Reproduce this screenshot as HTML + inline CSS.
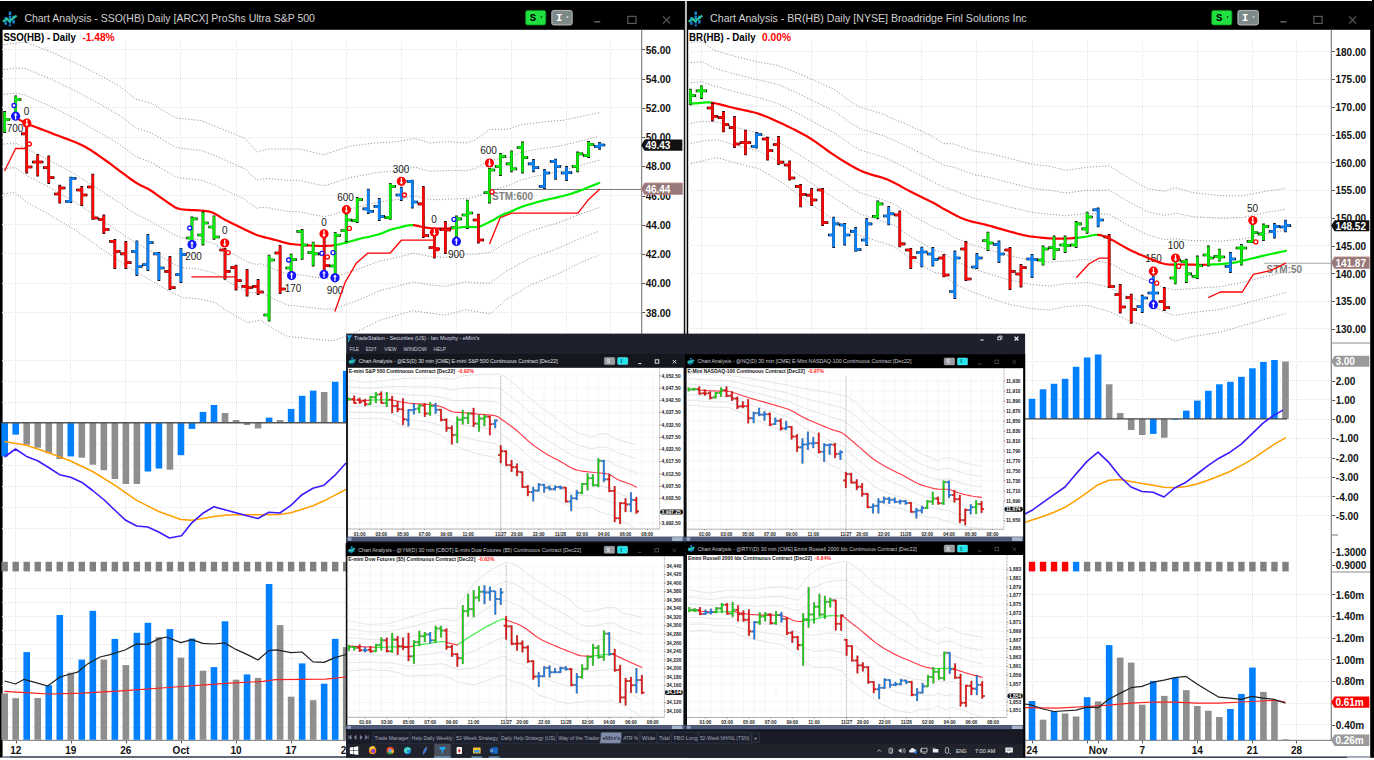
<!DOCTYPE html>
<html><head><meta charset="utf-8"><title>Chart Analysis</title>
<style>html,body{margin:0;padding:0;background:#fff;overflow:hidden}svg{display:block}</style></head>
<body>
<svg width="1374" height="760" viewBox="0 0 1374 760" font-family="Liberation Sans, sans-serif">
<rect x="0" y="0" width="1374" height="760" fill="#fff"/>
<rect x="0" y="1" width="1374" height="28.8" fill="#000"/>
<rect x="0" y="1" width="2.6" height="756.6" fill="#000"/>
<rect x="1370.2" y="1" width="3.8" height="756.8" fill="#000"/>
<rect x="1372" y="0" width="2" height="1" fill="#000"/>
<rect x="683.8" y="1" width="4.4" height="756.5" fill="#000"/>
<rect x="684.9" y="1" width="2.1" height="756.5" fill="#b8b8b8"/>
<rect x="2.6" y="756.2" width="682" height="1.6" fill="#3a4558"/>
<rect x="2.6" y="756.2" width="7.4" height="1.6" fill="#8fa0bc"/>
<rect x="688.3" y="756.4" width="682" height="1.6" fill="#3a4558"/>
<rect x="1347" y="756.4" width="23.2" height="1.6" fill="#aab6c8"/>
<g transform="translate(2.6 11.5) scale(1)">
<path d="M7.4 0v14.8M3.1 5.6v8.3M11 4.2v8.6" stroke="#1587d8" stroke-width="2.4" stroke-dasharray="3.4 0.9" fill="none"/>
<polyline points="0.3,10.2 4.4,7.4 6.8,9.6 14,4.2" fill="none" stroke="#2ec4a0" stroke-width="2.1"/>
</g>
<text x="24.4" y="21.6" font-size="10.8" fill="#d0d0d0" textLength="290.5" lengthAdjust="spacingAndGlyphs">Chart Analysis - SSO(HB) Daily [ARCX] ProShs Ultra S&amp;P 500</text>
<rect x="525.6" y="10.4" width="20.2" height="14.6" rx="2" fill="#20e040" stroke="#0c8a20" stroke-width="0.8"/>
<text x="529.8" y="21.2" font-size="10.5" fill="#000" font-weight="bold" font-family="Liberation Mono, monospace">S</text>
<path d="M540.4 16.6h2l-1 1.7z" fill="#000"/>
<rect x="551.8" y="10.4" width="20.4" height="14.6" rx="2" fill="#7d8888" stroke="#c8c8c8" stroke-width="0.9"/>
<text x="556" y="21.2" font-size="10.5" fill="#fff" font-weight="bold" font-family="Liberation Mono, monospace">I</text>
<path d="M566.4 16.4h2.2l-1.1 1.9z" fill="#fff"/>
<path d="M594.3 21.8h6" stroke="#5a5a5a" stroke-width="1.7"/>
<rect x="627.8" y="16.4" width="8.2" height="7" fill="none" stroke="#5a5a5a" stroke-width="1.2"/>
<path d="M663 16.4l7 7.2m0 -7.2l-7 7.2" stroke="#5a5a5a" stroke-width="1.2" fill="none"/>
<path d="M15.5 41V740M70.5 41V740M125.5 41V740M180.5 41V740M236.5 41V740M291.5 41V740M346.5 41V740M401.5 41V740M456.5 41V740M511.5 41V740M566.5 41V740M610.5 41V740" stroke="#e4e4e4" stroke-width="1" stroke-dasharray="1 1" fill="none" shape-rendering="crispEdges"/>
<path d="M2 49.5H641.6M2 78.5H641.6M2 107.5H641.6M2 137.5H641.6M2 166.5H641.6M2 195.5H641.6M2 224.5H641.6M2 253.5H641.6M2 283.5H641.6M2 312.5H641.6" stroke="#e4e4e4" stroke-width="1" stroke-dasharray="1 1" fill="none" shape-rendering="crispEdges"/>
<path d="M2 360.5H641.6M2 381.5H641.6M2 402.5H641.6M2 444.5H641.6M2 465.5H641.6M2 486.5H641.6M2 507.5H641.6M2 528.5H641.6" stroke="#e4e4e4" stroke-width="1" stroke-dasharray="1 1" fill="none" shape-rendering="crispEdges"/>
<path d="M2 588.5H641.6M2 602.5H641.6M2 616.5H641.6M2 630.5H641.6M2 644.5H641.6M2 658.5H641.6M2 671.5H641.6M2 685.5H641.6M2 699.5H641.6M2 713.5H641.6M2 727.5H641.6" stroke="#e4e4e4" stroke-width="1" stroke-dasharray="1 1" fill="none" shape-rendering="crispEdges"/>
<rect x="641" y="29.8" width="1.3" height="711" fill="#8c8c8c"/>
<rect x="2.6" y="739.8" width="639" height="1.2" fill="#8c8c8c"/>
<text x="3.4" y="40.6" font-size="10.2" fill="#000" font-weight="bold" textLength="72.5" lengthAdjust="spacingAndGlyphs">SSO(HB) - Daily</text>
<text x="82.4" y="40.6" font-size="10.2" fill="#ff0000" font-weight="bold">-1.48%</text>
<path d="M642.2 49.5h3" stroke="#555" stroke-width="1"/>
<text x="645.8" y="53.5" font-size="10" fill="#111" font-weight="bold">56.00</text>
<path d="M642.2 79.5h3" stroke="#555" stroke-width="1"/>
<text x="645.8" y="82.74" font-size="10" fill="#111" font-weight="bold">54.00</text>
<path d="M642.2 108.5h3" stroke="#555" stroke-width="1"/>
<text x="645.8" y="111.98" font-size="10" fill="#111" font-weight="bold">52.00</text>
<path d="M642.2 137.5h3" stroke="#555" stroke-width="1"/>
<text x="645.8" y="141.22" font-size="10" fill="#111" font-weight="bold">50.00</text>
<path d="M642.2 166.5h3" stroke="#555" stroke-width="1"/>
<text x="645.8" y="170.46" font-size="10" fill="#111" font-weight="bold">48.00</text>
<path d="M642.2 196.5h3" stroke="#555" stroke-width="1"/>
<text x="645.8" y="199.7" font-size="10" fill="#111" font-weight="bold">46.00</text>
<path d="M642.2 225.5h3" stroke="#555" stroke-width="1"/>
<text x="645.8" y="228.94" font-size="10" fill="#111" font-weight="bold">44.00</text>
<path d="M642.2 254.5h3" stroke="#555" stroke-width="1"/>
<text x="645.8" y="258.18" font-size="10" fill="#111" font-weight="bold">42.00</text>
<path d="M642.2 283.5h3" stroke="#555" stroke-width="1"/>
<text x="645.8" y="287.42" font-size="10" fill="#111" font-weight="bold">40.00</text>
<path d="M642.2 312.5h3" stroke="#555" stroke-width="1"/>
<text x="645.8" y="316.66" font-size="10" fill="#111" font-weight="bold">38.00</text>
<polyline points="3.8,44.7 15,43.27 15.6,43.2 25,42 27.5,42.95 50,51.5 75,62.8 82.6,66.63 100,75.4 105,78.14 120.6,86.7 125,90.34 135,98.62 135.7,99.2 150,102.8 150.8,103 170,114.47 175.9,118 180,118.42 182.8,118.71 200.3,120.53 201,120.6 202.8,121.33 212.8,125.37 215.3,126.38 225,130.3 225.3,130.42 226,130.7 245,138.4 247.9,141.69 250,144.07 257,152 260,151.25 260.4,151.15 269,149 275.4,149 288,149 290,149 299.6,149 310,151.58 313,152.32 323,154.8 323.8,155 333,151.61 334.5,151.05 336,150.5 345,147.8 351,146 355,145.5 362.5,144.56 369,143.75 375,143 380,142.69 390.4,142.06 399.5,141.5 400,141.4 411.6,139.02 412.6,138.81 414.6,138.4 423.7,141.15 429.8,143 435.8,142.51 445.2,141.73 448,141.5 452.5,141.88 465.2,142.93 466,143 475,140 478,137.86 490,129.3 490.2,129.3 490.3,129.3 502.8,129.3 505.3,129.3 508.5,129.3 520.5,124.8 522.8,124.52 530.3,123.59 532.7,123.29 542.8,122.05 544.8,121.8 555.3,120.93 563,120.3 578,117.2 580.4,116.69 589,114.84 599,112.7 599.2,112.66" fill="none" stroke="#9c9c9c" stroke-width="1" stroke-dasharray="1.2 1.8"/>
<polyline points="3.8,69.55 15,68.14 15.6,68.16 25,68.43 27.5,69.56 50,78.75 75,90.67 82.6,94.75 100,104.1 105,106.97 120.6,115.91 125,119.45 135,127.35 135.7,127.9 150,132.33 150.8,132.58 170,143.98 175.9,147.39 180,148.08 182.8,148.55 200.3,150.27 201,150.36 202.8,151.04 212.8,154.82 215.3,155.76 225,160.21 225.3,160.35 226,160.65 245,168.85 247.9,171.86 250,173.76 257,180.12 260,179.39 260.4,179.29 269,178.46 275.4,179.17 288,180.25 290,180.28 299.6,180.44 310,182.77 313,183.44 323,185.65 323.8,185.83 333,183.14 334.5,182.59 336,182.03 345,179.23 351,177.36 355,176.7 362.5,175.29 369,174.07 375,172.95 380,172.28 390.4,171.24 399.5,170.34 400,170.23 411.6,167.68 412.6,167.46 414.6,167.16 423.7,169.67 429.8,171.35 435.8,171.07 445.2,170.64 448,170.32 452.5,170.43 465.2,170.73 466,170.81 475,168.56 478,166.86 490,160.06 490.2,160.07 490.3,160.05 502.8,158.16 505.3,157.78 508.5,157.46 520.5,152.5 522.8,152.04 530.3,150.51 532.7,150.1 542.8,148.39 544.8,148.05 555.3,146.63 563,145.46 578,141.63 580.4,141 589,138.88 599,136.42 599.2,136.37" fill="none" stroke="#9c9c9c" stroke-width="1" stroke-dasharray="1.2 1.8"/>
<polyline points="3.8,94.4 15,93.02 15.6,93.13 25,94.86 27.5,96.17 50,106 75,118.53 82.6,122.87 100,132.8 105,135.79 120.6,145.11 125,148.56 135,156.08 135.7,156.61 150,161.87 150.8,162.15 170,173.48 175.9,176.79 180,177.73 182.8,178.38 200.3,180.02 201,180.12 202.8,180.76 212.8,184.27 215.3,185.15 225,190.12 225.3,190.28 226,190.6 245,199.29 247.9,202.02 250,203.46 257,208.24 260,207.53 260.4,207.43 269,207.91 275.4,209.33 288,211.5 290,211.57 299.6,211.89 310,213.95 313,214.55 323,216.5 323.8,216.66 333,214.67 334.5,214.12 336,213.57 345,210.66 351,208.72 355,207.9 362.5,206.03 369,204.4 375,202.9 380,201.86 390.4,200.43 399.5,199.17 400,199.06 411.6,196.34 412.6,196.11 414.6,195.93 423.7,198.18 429.8,199.69 435.8,199.64 445.2,199.55 448,199.14 452.5,198.98 465.2,198.52 466,198.61 475,197.12 478,195.86 490,190.82 490.2,190.83 490.3,190.8 502.8,187.02 505.3,186.27 508.5,185.62 520.5,180.21 522.8,179.55 530.3,177.43 532.7,176.91 542.8,174.73 544.8,174.3 555.3,172.32 563,170.62 578,166.07 580.4,165.32 589,162.93 599,160.14 599.2,160.08" fill="none" stroke="#9c9c9c" stroke-width="1" stroke-dasharray="1.2 1.8"/>
<polyline points="3.8,144.1 15,142.76 15.6,143.06 25,147.72 27.5,149.38 50,160.5 75,174.27 82.6,179.11 100,190.2 105,193.43 120.6,203.53 125,206.78 135,213.54 135.7,214.01 150,220.93 150.8,221.31 170,232.49 175.9,235.57 180,237.04 182.8,238.04 200.3,239.51 201,239.65 202.8,240.19 212.8,243.18 215.3,243.93 225,249.95 225.3,250.14 226,250.5 245,260.18 247.9,262.36 250,262.85 257,264.49 260,263.81 260.4,263.72 269,266.82 275.4,269.67 288,274 290,274.13 299.6,274.77 310,276.33 313,276.77 323,278.2 323.8,278.31 333,277.74 334.5,277.18 336,276.63 345,273.52 351,271.45 355,270.3 362.5,267.49 369,265.05 375,262.8 380,261.03 390.4,258.8 399.5,256.84 400,256.71 411.6,253.67 412.6,253.4 414.6,253.45 423.7,255.21 429.8,256.38 435.8,256.77 445.2,257.38 448,256.79 452.5,256.09 465.2,254.11 466,254.22 475,254.23 478,253.85 490,252.34 490.2,252.37 490.3,252.31 502.8,244.75 505.3,243.23 508.5,241.94 520.5,235.61 522.8,234.59 530.3,231.26 532.7,230.52 542.8,227.42 544.8,226.8 555.3,223.71 563,220.94 578,214.93 580.4,213.96 589,211.01 599,207.57 599.2,207.5" fill="none" stroke="#9c9c9c" stroke-width="1" stroke-dasharray="1.2 1.8"/>
<polyline points="3.8,168.95 15,167.63 15.6,168.02 25,174.15 27.5,175.99 50,187.75 75,202.13 82.6,207.23 100,218.9 105,222.26 120.6,232.73 125,235.89 135,242.27 135.7,242.72 150,250.47 150.8,250.88 170,262 175.9,264.96 180,266.69 182.8,267.87 200.3,269.25 201,269.41 202.8,269.9 212.8,272.63 215.3,273.31 225,279.87 225.3,280.07 226,280.44 245,290.63 247.9,292.53 250,292.55 257,292.61 260,291.95 260.4,291.86 269,296.28 275.4,299.83 288,305.25 290,305.42 299.6,306.22 310,307.51 313,307.89 323,309.05 323.8,309.14 333,309.27 334.5,308.72 336,308.16 345,304.95 351,302.81 355,301.5 362.5,298.22 369,295.38 375,292.75 380,290.62 390.4,287.98 399.5,285.68 400,285.54 411.6,282.33 412.6,282.05 414.6,282.21 423.7,283.72 429.8,284.73 435.8,285.34 445.2,286.29 448,285.61 452.5,284.64 465.2,281.91 466,282.03 475,282.79 478,282.85 490,283.11 490.2,283.13 490.3,283.06 502.8,273.61 505.3,271.72 508.5,270.11 520.5,263.32 522.8,262.11 530.3,258.18 532.7,257.33 542.8,253.76 544.8,253.05 555.3,249.41 563,246.1 578,239.36 580.4,238.28 589,235.05 599,231.29 599.2,231.21" fill="none" stroke="#9c9c9c" stroke-width="1" stroke-dasharray="1.2 1.8"/>
<polyline points="3.8,193.8 15,192.5 15.6,192.98 25,200.58 27.5,202.6 50,215 75,230 82.6,235.35 100,247.6 105,251.08 120.6,261.94 125,265 135,271 135.7,271.42 150,280 150.8,280.46 170,291.5 175.9,294.36 180,296.34 182.8,297.7 200.3,299 201,299.17 202.8,299.62 212.8,302.08 215.3,302.7 225,309.78 225.3,310 226,310.39 245,321.07 247.9,322.7 250,322.25 257,320.73 260,320.09 260.4,320 269,325.73 275.4,330 288,336.5 290,336.7 299.6,337.66 310,338.7 313,339 323,339.9 323.8,339.97 333,340.8 334.5,340.25 336,339.7 345,336.38 351,334.17 355,332.7 362.5,328.95 369,325.7 375,322.7 380,320.2 390.4,317.17 399.5,314.52 400,314.37 411.6,310.99 412.6,310.7 414.6,310.98 423.7,312.23 429.8,313.07 435.8,313.9 445.2,315.2 448,314.43 452.5,313.19 465.2,309.7 466,309.83 475,311.35 478,311.85 490,313.87 490.2,313.9 490.3,313.81 502.8,302.47 505.3,300.2 508.5,298.27 520.5,291.02 522.8,289.63 530.3,285.1 532.7,284.14 542.8,280.1 544.8,279.3 555.3,275.1 563,271.27 578,263.8 580.4,262.6 589,259.09 599,255.01 599.2,254.93" fill="none" stroke="#9c9c9c" stroke-width="1" stroke-dasharray="1.2 1.8"/>
<text x="26.5" y="114.5" font-size="10" fill="#222" text-anchor="middle">0</text>
<text x="15" y="131.5" font-size="10" fill="#222" text-anchor="middle">700</text>
<text x="193.5" y="260.3" font-size="10" fill="#222" text-anchor="middle">200</text>
<text x="224.7" y="234" font-size="10" fill="#222" text-anchor="middle">0</text>
<text x="293" y="291.5" font-size="10" fill="#222" text-anchor="middle">170</text>
<text x="324" y="225.5" font-size="10" fill="#222" text-anchor="middle">0</text>
<text x="335" y="293.8" font-size="10" fill="#222" text-anchor="middle">900</text>
<text x="345.6" y="201.1" font-size="10" fill="#222" text-anchor="middle">600</text>
<text x="401" y="173.1" font-size="10" fill="#222" text-anchor="middle">300</text>
<text x="434" y="223.1" font-size="10" fill="#222" text-anchor="middle">0</text>
<text x="456.3" y="257.5" font-size="10" fill="#222" text-anchor="middle">900</text>
<text x="488.6" y="154" font-size="10" fill="#222" text-anchor="middle">600</text>
<path d="M491.5 189.5H641" stroke="#7a7a7a" stroke-width="1.1"/>
<text x="492" y="199.5" font-size="10" fill="#808080" font-weight="bold">STM:600</text>
<polyline points="4.5,171 15.6,148.5 26.6,148.5" fill="none" stroke="#ff0000" stroke-width="1.3" stroke-linejoin="round" />
<polyline points="191.4,276.9 235.2,276.9" fill="none" stroke="#ff0000" stroke-width="1.3" stroke-linejoin="round" />
<polyline points="334.9,311.5 345,282.7 356.3,263.2 367.6,253.2 390,253.2 401.4,240.2 434,240.2" fill="none" stroke="#ff0000" stroke-width="1.3" stroke-linejoin="round" />
<polyline points="489.5,244 500.3,217.6 511.5,213.1 577.9,213.1 589.1,198.9 600,188.9" fill="none" stroke="#ff0000" stroke-width="1.3" stroke-linejoin="round" />
<polyline points="15.6,117.6 17.49,118.65 20.14,120.15 23.5,121.92 27.5,123.8 29.74,124.75 32.14,125.72 34.72,126.72 37.46,127.78 40.36,128.88 43.42,130.04 46.63,131.28 50,132.6 52.62,133.62 55.45,134.69 58.44,135.8 61.54,136.96 64.71,138.15 67.9,139.36 71.07,140.59 74.17,141.84 77.16,143.09 79.98,144.35 82.6,145.6 85.84,147.28 88.74,148.92 91.41,150.56 93.96,152.24 96.49,153.98 99.1,155.83 101.91,157.83 105,160 107.5,161.77 110.19,163.73 113.04,165.83 115.98,168.03 118.97,170.27 121.95,172.52 124.88,174.71 127.69,176.8 130.36,178.75 132.81,180.5 135,182 138.31,184.07 140.93,185.48 143.12,186.5 145.19,187.41 147.38,188.48 150,190 152.68,191.76 155.64,193.83 158.75,196.05 161.87,198.31 164.87,200.48 167.62,202.42 170,204 172.9,205.96 174.83,207.27 176.83,208.19 180,209 182.33,209.37 185.1,209.65 188.17,209.87 191.4,210.04 194.62,210.19 197.7,210.33 200.47,210.5 202.8,210.7 206.15,211.06 208.46,211.37 210.45,211.84 212.8,212.7 214.89,213.7 216.91,214.89 219.09,216.28 221.71,217.88 225,219.7 227.3,220.88 229.98,222.24 232.94,223.71 236.06,225.26 239.22,226.81 242.3,228.32 245.21,229.72 247.81,230.97 250,232 253.43,233.58 255.6,234.52 257.47,235.19 260,236 262.26,236.67 264.76,237.34 267.41,238.01 270.13,238.68 272.82,239.34 275.4,240 278.28,240.81 281.04,241.64 283.81,242.44 286.75,243.18 290,243.8 292.63,244.16 295.52,244.47 298.56,244.74 301.63,244.97 304.64,245.16 307.46,245.34 310,245.5 313.07,245.7 315.78,245.85 318.24,245.95 320.61,246 323,246 326,245.92 328.91,245.77 331.73,245.53 334.5,245.2 334.6,245.18" fill="none" stroke="#ff0000" stroke-width="2.2" stroke-linejoin="round" stroke-linecap="round"/>
<polyline points="334.6,245.18 337.3,244.74 340.09,244.16 342.71,243.55 345,243 347.13,242.46 348.76,241.97 351,241.3 353.61,240.54 356.72,239.62 359.85,238.71 362.5,238 364.87,237.51 366.69,237.25 369,236.8 371.45,236.22 374.26,235.53 377.19,234.75 380,233.9 382.66,232.92 385.29,231.82 387.87,230.73 390.4,229.8 392.81,229.08 395.12,228.49 397.48,227.96 400,227.4 402.75,226.69 405.64,225.91 408.62,225.28 411.6,225 413.99,225.16 414,225.16" fill="none" stroke="#00ee00" stroke-width="2.2" stroke-linejoin="round" stroke-linecap="round"/>
<polyline points="414,225.16 416.4,225.59 418.84,226.16 421.27,226.74 423.7,227.2 426.05,227.54 428.32,227.86 430.63,228.13 433.09,228.35 435.8,228.5 438.35,228.57 441.14,228.59 444.06,228.57 447,228.52 449.85,228.43 452.5,228.3 455.43,228.06 456,227.99" fill="none" stroke="#ff0000" stroke-width="2.2" stroke-linejoin="round" stroke-linecap="round"/>
<polyline points="456,227.99 458.2,227.72 460.86,227.35 463.45,227.02 466,226.8 468.49,226.8 470.89,226.98 473.25,227.17 475.6,227.2 478,226.9 480.44,226.21 482.89,225.25 485.35,224.1 487.82,222.86 490.3,221.6 492.9,220.23 495.61,218.68 498.28,217.12 500.73,215.71 502.8,214.6 505.54,213.55 508.5,212.6 510.88,211.58 513.81,210.26 516.98,208.84 520.08,207.5 522.8,206.4 525.58,205.44 528.01,204.74 530.31,204.15 532.7,203.5 534.97,202.81 537.11,202.16 539.56,201.44 542.8,200.6 545.2,200.03 547.99,199.41 551.02,198.75 554.18,198.06 557.31,197.36 560.3,196.67 563,196 565.85,195.23 568.53,194.46 571.08,193.69 573.49,192.92 575.79,192.16 578,191.4 581.05,190.28 583.8,189.16 586.4,188.07 589,187 591.85,185.88 594.79,184.72 597.39,183.71 599.2,183" fill="none" stroke="#00ee00" stroke-width="2.2" stroke-linejoin="round" stroke-linecap="round"/>
<path d="M4.68 111.1V132.9M4.68 119.5H10.38M15.7 95.4V119.9M15.7 99.5H21.4M26.71 125.4V173.5M21.01 133.8H26.71M26.71 167H32.41M37.73 154.1V176.5M32.03 162H37.73M37.73 162H43.43M48.75 155.5V183.9M43.05 167.6H48.75M48.75 177.6H54.45M59.76 184.8V203.6M54.06 194H59.76M59.76 188H65.47M70.78 176.7V202.9M65.08 201.5H70.78M70.78 178.4H76.48M81.8 186.1V205.9M76.1 190H81.8M81.8 195H87.5M92.82 173.7V219.7M87.12 187H92.82M92.82 218H98.52M103.83 214.6V233.9M98.13 219.5H103.83M103.83 229.5H109.53M114.85 239.1V268.9M109.15 241.3H114.85M114.85 251.3H120.55M125.87 241.1V268.9M120.17 253.8H125.87M125.87 262.6H131.57M136.88 240.4V275.9M131.18 251.3H136.88M136.88 266.3H142.58M147.9 234.1V270.9M142.2 264.6H147.9M147.9 242.6H153.6M158.92 252.1V280.9M153.22 253.8H158.92M158.92 268H164.62M169.94 256.1V289.9M164.23 271.4H169.94M169.94 287.6H175.64M180.95 247.9V282.9M175.25 274.6H180.95M180.95 254.6H186.65M191.97 216.6V240.9M186.27 238H191.97M191.97 218.8H197.67M202.99 211.6V245.5M197.29 235H202.99M202.99 223H208.69M214 215.4V239.7M208.3 227H214M214 237H219.7M225.02 247.9V279.8M219.32 250H225.02M225.02 271.4H230.72M236.04 264.7V290.5M230.34 267.6H236.04M236.04 280.6H241.74M247.05 269.1V296.5M241.35 286.4H247.05M247.05 287.6H252.75M258.07 279.1V294.9M252.37 286.4H258.07M258.07 292H263.77M269.09 254.7V321.6M263.39 315H269.09M269.09 260H274.79M280.11 244.9V293.9M274.41 253H280.11M280.11 289H285.81M291.12 253.7V272.3M285.42 268H291.12M291.12 259.6H296.82M302.14 229.1V259.7M296.44 231.3H302.14M302.14 245H307.84M313.16 241.7V266.5M307.46 252.6H313.16M313.16 253.8H318.86M324.17 236.7V273.5M318.47 253.8H324.17M324.17 265.6H329.87M335.19 231.9V274.4M329.49 266H335.19M335.19 235.3H340.89M346.21 213.6V241.9M340.51 230.5H346.21M346.21 220H351.91M357.22 197.1V222.9M351.52 220.6H357.22M357.22 199.6H362.92M368.24 188.7V213.9M362.54 208.9H368.24M368.24 211.4H373.94M379.26 198V220.9M373.56 206.4H379.26M379.26 216.4H384.96M390.27 182.9V219.8M384.57 217.6H390.27M390.27 186.3H395.97M401.29 186.7V200.9M395.59 195H401.29M401.29 194.6H406.99M412.31 179.7V208.5M406.61 181.3H412.31M412.31 202H418.01M423.33 186.1V237.9M417.63 203.9H423.33M423.33 235.7H429.03M434.34 228.1V258.6M428.64 247.7H434.34M434.34 249H440.04M445.36 221.1V253.9M439.66 229.7H445.36M445.36 230H451.06M456.38 215.5V237.3M450.68 227.7H456.38M456.38 218.9H462.08M467.39 199.7V228.9M461.69 215H467.39M467.39 213H473.09M478.41 213.7V243.6M472.71 220H478.41M478.41 240H484.11M489.43 167.9V203.5M483.73 192.6H489.43M489.43 170H495.13M500.44 152.9V175.9M494.75 166.3H500.44M500.44 156.3H506.14M511.46 150.4V172.2M505.76 163.8H511.46M511.46 168.8H517.16M522.48 141.6V173.5M516.78 147.5H522.48M522.48 157.6H528.18M533.5 159.1V172.2M527.8 163.8H533.5M533.5 167.6H539.2M544.51 169.1V188.9M538.81 186.3H544.51M544.51 173H550.21M555.53 158.7V179.7M549.83 161.3H555.53M555.53 166.3H561.23M566.55 166.1V180.9M560.85 173H566.55M566.55 172.6H572.25M577.56 151.6V172.2M571.86 166.3H577.56M577.56 153.8H583.26M588.58 141.1V157.9M582.88 155.6H588.58M588.58 144.5H594.28M599.6 142.1V149.7M593.9 146.3H599.6M599.6 145H605.3" stroke="#1a0a0a" stroke-width="2.7" fill="none"/>
<path d="M4.68 112V132M4.68 119.5H9.48M15.7 96.3V119M15.7 99.5H20.5M191.97 217.5V240M187.17 238H191.97M191.97 218.8H196.77M202.99 212.5V244.6M198.19 235H202.99M202.99 223H207.79M214 216.3V238.8M209.2 227H214M214 237H218.8M269.09 255.6V320.7M264.29 315H269.09M269.09 260H273.89M291.12 254.6V271.4M286.32 268H291.12M291.12 259.6H295.92M302.14 230V258.8M297.34 231.3H302.14M302.14 245H306.94M313.16 242.6V265.6M308.36 252.6H313.16M313.16 253.8H317.96M335.19 232.8V273.5M330.39 266H335.19M335.19 235.3H339.99M346.21 214.5V241M341.41 230.5H346.21M346.21 220H351.01M357.22 198V222M352.42 220.6H357.22M357.22 199.6H362.02M390.27 183.8V218.9M385.47 217.6H390.27M390.27 186.3H395.07M456.38 216.4V236.4M451.58 227.7H456.38M456.38 218.9H461.18M467.39 200.6V228M462.59 215H467.39M467.39 213H472.19M489.43 168.8V202.6M484.63 192.6H489.43M489.43 170H494.23M500.44 153.8V175M495.64 166.3H500.44M500.44 156.3H505.25M511.46 151.3V171.3M506.66 163.8H511.46M511.46 168.8H516.26M522.48 142.5V172.6M517.68 147.5H522.48M522.48 157.6H527.28M577.56 152.5V171.3M572.76 166.3H577.56M577.56 153.8H582.36M588.58 142V157M583.78 155.6H588.58M588.58 144.5H593.38" stroke="#08ea08" stroke-width="2.5" fill="none"/>
<path d="M26.71 126.3V172.6M21.91 133.8H26.71M26.71 167H31.51M37.73 155V175.6M32.93 162H37.73M37.73 162H42.53M48.75 156.4V183M43.95 167.6H48.75M48.75 177.6H53.55M59.76 185.7V202.7M54.96 194H59.76M59.76 188H64.56M81.8 187V205M77 190H81.8M81.8 195H86.6M92.82 174.6V218.8M88.02 187H92.82M92.82 218H97.62M103.83 215.5V233M99.03 219.5H103.83M103.83 229.5H108.63M114.85 240V268M110.05 241.3H114.85M114.85 251.3H119.65M125.87 242V268M121.07 253.8H125.87M125.87 262.6H130.67M169.94 257V289M165.13 271.4H169.94M169.94 287.6H174.74M225.02 248.8V278.9M220.22 250H225.02M225.02 271.4H229.82M236.04 265.6V289.6M231.24 267.6H236.04M236.04 280.6H240.84M247.05 270V295.6M242.25 286.4H247.05M247.05 287.6H251.85M258.07 280V294M253.27 286.4H258.07M258.07 292H262.87M280.11 245.8V293M275.31 253H280.11M280.11 289H284.91M324.17 237.6V272.6M319.37 253.8H324.17M324.17 265.6H328.97M423.33 187V237M418.53 203.9H423.33M423.33 235.7H428.13M434.34 229V257.7M429.54 247.7H434.34M434.34 249H439.14M445.36 222V253M440.56 229.7H445.36M445.36 230H450.16M478.41 214.6V242.7M473.61 220H478.41M478.41 240H483.21" stroke="#fa0808" stroke-width="2.5" fill="none"/>
<path d="M70.78 177.6V202M65.98 201.5H70.78M70.78 178.4H75.58M136.88 241.3V275M132.08 251.3H136.88M136.88 266.3H141.68M147.9 235V270M143.1 264.6H147.9M147.9 242.6H152.7M158.92 253V280M154.12 253.8H158.92M158.92 268H163.72M180.95 248.8V282M176.15 274.6H180.95M180.95 254.6H185.75M368.24 189.6V213M363.44 208.9H368.24M368.24 211.4H373.04M379.26 198.9V220M374.46 206.4H379.26M379.26 216.4H384.06M401.29 187.6V200M396.49 195H401.29M401.29 194.6H406.09M412.31 180.6V207.6M407.51 181.3H412.31M412.31 202H417.11M533.5 160V171.3M528.7 163.8H533.5M533.5 167.6H538.3M544.51 170V188M539.71 186.3H544.51M544.51 173H549.31M555.53 159.6V178.8M550.73 161.3H555.53M555.53 166.3H560.33M566.55 167V180M561.75 173H566.55M566.55 172.6H571.35M599.6 143V148.8M594.8 146.3H599.6M599.6 145H604.4" stroke="#0a82fa" stroke-width="2.5" fill="none"/>
<circle cx="14" cy="105.5" r="2" fill="#fff" stroke="#1414ff" stroke-width="1.3"/>
<circle cx="15.6" cy="116.2" r="4.6" fill="#1414ff"/>
<path d="M15.6 119.5V115" stroke="#fff" stroke-width="1.3"/><path d="M13.8 115.4h3.6l-1.8 -2.6z" fill="#fff"/>
<circle cx="26.8" cy="123" r="4.6" fill="#ff0000"/>
<path d="M26.8 119.7V124.2" stroke="#fff" stroke-width="1.3"/><path d="M25 123.8h3.6l-1.8 2.6z" fill="#fff"/>
<circle cx="29.3" cy="144" r="2" fill="#fff" stroke="#ff0000" stroke-width="1.3"/>
<circle cx="189.7" cy="228" r="2" fill="#fff" stroke="#1414ff" stroke-width="1.3"/>
<circle cx="192" cy="244.6" r="4.6" fill="#1414ff"/>
<path d="M192 247.9V243.4" stroke="#fff" stroke-width="1.3"/><path d="M190.2 243.8h3.6l-1.8 -2.6z" fill="#fff"/>
<circle cx="224.7" cy="243" r="4.6" fill="#ff0000"/>
<path d="M224.7 239.7V244.2" stroke="#fff" stroke-width="1.3"/><path d="M222.9 243.8h3.6l-1.8 2.6z" fill="#fff"/>
<circle cx="228.2" cy="252.6" r="2" fill="#fff" stroke="#ff0000" stroke-width="1.3"/>
<circle cx="288.6" cy="260" r="2" fill="#fff" stroke="#1414ff" stroke-width="1.3"/>
<circle cx="291.6" cy="275.6" r="4.6" fill="#1414ff"/>
<path d="M291.6 278.9V274.4" stroke="#fff" stroke-width="1.3"/><path d="M289.8 274.8h3.6l-1.8 -2.6z" fill="#fff"/>
<circle cx="324" cy="233.8" r="4.6" fill="#ff0000"/>
<path d="M324 230.5V235" stroke="#fff" stroke-width="1.3"/><path d="M322.2 234.6h3.6l-1.8 2.6z" fill="#fff"/>
<circle cx="321.9" cy="253.3" r="2" fill="#fff" stroke="#1414ff" stroke-width="1.3"/>
<circle cx="327.4" cy="257" r="2" fill="#fff" stroke="#ff0000" stroke-width="1.3"/>
<circle cx="324" cy="274.4" r="4.6" fill="#1414ff"/>
<path d="M324 277.7V273.2" stroke="#fff" stroke-width="1.3"/><path d="M322.2 273.6h3.6l-1.8 -2.6z" fill="#fff"/>
<circle cx="333" cy="252.7" r="2" fill="#fff" stroke="#1414ff" stroke-width="1.3"/>
<circle cx="335" cy="277.8" r="4.6" fill="#1414ff"/>
<path d="M335 281.1V276.6" stroke="#fff" stroke-width="1.3"/><path d="M333.2 277h3.6l-1.8 -2.6z" fill="#fff"/>
<circle cx="346.4" cy="209.7" r="4.6" fill="#ff0000"/>
<path d="M346.4 206.4V210.9" stroke="#fff" stroke-width="1.3"/><path d="M344.6 210.5h3.6l-1.8 2.6z" fill="#fff"/>
<circle cx="349.4" cy="228.4" r="2" fill="#fff" stroke="#ff0000" stroke-width="1.3"/>
<circle cx="401.4" cy="181.3" r="4.6" fill="#ff0000"/>
<path d="M401.4 178V182.5" stroke="#fff" stroke-width="1.3"/><path d="M399.6 182.1h3.6l-1.8 2.6z" fill="#fff"/>
<circle cx="404.4" cy="195" r="2" fill="#fff" stroke="#ff0000" stroke-width="1.3"/>
<circle cx="434.4" cy="232.2" r="4.6" fill="#ff0000"/>
<path d="M434.4 228.9V233.4" stroke="#fff" stroke-width="1.3"/><path d="M432.6 233h3.6l-1.8 2.6z" fill="#fff"/>
<circle cx="437.5" cy="249.3" r="2.2" fill="#ff0000"/>
<circle cx="454" cy="219.4" r="2" fill="#fff" stroke="#1414ff" stroke-width="1.3"/>
<circle cx="456.4" cy="241.4" r="4.6" fill="#1414ff"/>
<path d="M456.4 244.7V240.2" stroke="#fff" stroke-width="1.3"/><path d="M454.6 240.6h3.6l-1.8 -2.6z" fill="#fff"/>
<circle cx="489.5" cy="163" r="4.6" fill="#ff0000"/>
<path d="M489.5 159.7V164.2" stroke="#fff" stroke-width="1.3"/><path d="M487.7 163.8h3.6l-1.8 2.6z" fill="#fff"/>
<circle cx="492" cy="191.9" r="2" fill="#fff" stroke="#ff0000" stroke-width="1.3"/>
<path d="M641.2 145.2L644.6 139.6H682.4V150.8H644.6Z" fill="#111"/>
<text x="645.4" y="149.1" font-size="10" fill="#fff" font-weight="bold">49.43</text>
<path d="M641.2 188.7L644.6 183H682.4V194.4H644.6Z" fill="#967878" stroke="#c88888" stroke-width="0.8"/>
<text x="645.4" y="192.6" font-size="10" fill="#fff" font-weight="bold">46.44</text>
<rect x="1.38" y="422.8" width="6.6" height="33.6" fill="#0080ff"/>
<rect x="12.4" y="422.8" width="6.6" height="11.8" fill="#0080ff"/>
<rect x="23.41" y="422.8" width="6.6" height="21.9" fill="#8e8e8e"/>
<rect x="34.43" y="422.8" width="6.6" height="24.9" fill="#8e8e8e"/>
<rect x="45.45" y="422.8" width="6.6" height="30.4" fill="#8e8e8e"/>
<rect x="56.46" y="422.8" width="6.6" height="36.2" fill="#8e8e8e"/>
<rect x="67.48" y="422.8" width="6.6" height="33.6" fill="#0080ff"/>
<rect x="78.5" y="422.8" width="6.6" height="34.9" fill="#8e8e8e"/>
<rect x="89.52" y="422.8" width="6.6" height="41.9" fill="#8e8e8e"/>
<rect x="100.53" y="422.8" width="6.6" height="47.4" fill="#8e8e8e"/>
<rect x="111.55" y="422.8" width="6.6" height="56.2" fill="#8e8e8e"/>
<rect x="122.57" y="422.8" width="6.6" height="61.2" fill="#8e8e8e"/>
<rect x="133.58" y="422.8" width="6.6" height="61.2" fill="#8e8e8e"/>
<rect x="144.6" y="422.8" width="6.6" height="48.7" fill="#0080ff"/>
<rect x="155.62" y="422.8" width="6.6" height="45.7" fill="#0080ff"/>
<rect x="166.63" y="422.8" width="6.6" height="46.9" fill="#8e8e8e"/>
<rect x="177.65" y="422.8" width="6.6" height="32.4" fill="#0080ff"/>
<rect x="188.67" y="422.8" width="6.6" height="6.1" fill="#0080ff"/>
<rect x="199.69" y="411.9" width="6.6" height="10.9" fill="#0080ff"/>
<rect x="210.7" y="405" width="6.6" height="17.8" fill="#0080ff"/>
<rect x="221.72" y="413" width="6.6" height="9.8" fill="#8e8e8e"/>
<rect x="232.74" y="420" width="6.6" height="2.8" fill="#8e8e8e"/>
<rect x="243.75" y="422.8" width="6.6" height="2.2" fill="#8e8e8e"/>
<rect x="254.77" y="422.8" width="6.6" height="5.6" fill="#8e8e8e"/>
<rect x="265.79" y="417.6" width="6.6" height="5.2" fill="#0080ff"/>
<rect x="276.81" y="420" width="6.6" height="2.8" fill="#8e8e8e"/>
<rect x="287.82" y="408.9" width="6.6" height="13.9" fill="#0080ff"/>
<rect x="298.84" y="395.8" width="6.6" height="27" fill="#0080ff"/>
<rect x="309.86" y="390.6" width="6.6" height="32.2" fill="#0080ff"/>
<rect x="320.87" y="392" width="6.6" height="30.8" fill="#8e8e8e"/>
<rect x="331.89" y="381.8" width="6.6" height="41" fill="#0080ff"/>
<rect x="342.91" y="370.8" width="6.6" height="52" fill="#0080ff"/>
<path d="M2.6 422.8H641.6" stroke="#555" stroke-width="1.4"/>
<polyline points="4.5,441.4 26.5,445.2 48.6,452.7 70.6,461 92.6,471.5 114.7,485.2 136.7,500.3 158.7,511.5 180.8,519.5 191.8,520.3 202.8,518.5 213.8,516.5 224.8,515.3 235.9,514.8 257.9,514.8 279.9,514.5 290.9,512.8 313,505.8 324,500.8 335,495.2 346,489.5" fill="none" stroke="#ffa000" stroke-width="1.5" stroke-linejoin="round" />
<polyline points="4.5,457 15.5,449 26.5,456.4 37.6,460.7 48.6,467.5 59.6,474.7 70.6,477.2 81.6,482.2 92.6,490.5 103.7,499.5 114.7,510 125.7,520.3 136.7,526 147.7,527 158.7,532 169.4,538 181.5,535.7 191.8,522.8 202.8,513.3 213.8,506.8 224.8,509.8 235.9,512.8 246.9,515.8 257.9,518.5 268.9,512.3 279.9,513 290.9,505.3 302,494.7 313,488.2 324,485.2 335,475.2 346,463" fill="none" stroke="#3a1cff" stroke-width="1.6" stroke-linejoin="round" />
<rect x="1.48" y="561.8" width="6.4" height="9.6" fill="#808080"/>
<rect x="12.5" y="561.8" width="6.4" height="9.6" fill="#808080"/>
<rect x="23.51" y="561.8" width="6.4" height="9.6" fill="#808080"/>
<rect x="34.53" y="561.8" width="6.4" height="9.6" fill="#808080"/>
<rect x="45.55" y="561.8" width="6.4" height="9.6" fill="#808080"/>
<rect x="56.56" y="561.8" width="6.4" height="9.6" fill="#808080"/>
<rect x="67.58" y="561.8" width="6.4" height="9.6" fill="#808080"/>
<rect x="78.6" y="561.8" width="6.4" height="9.6" fill="#808080"/>
<rect x="89.62" y="561.8" width="6.4" height="9.6" fill="#808080"/>
<rect x="100.63" y="561.8" width="6.4" height="9.6" fill="#808080"/>
<rect x="111.65" y="561.8" width="6.4" height="9.6" fill="#808080"/>
<rect x="122.67" y="561.8" width="6.4" height="9.6" fill="#808080"/>
<rect x="133.68" y="561.8" width="6.4" height="9.6" fill="#808080"/>
<rect x="144.7" y="561.8" width="6.4" height="9.6" fill="#808080"/>
<rect x="155.72" y="561.8" width="6.4" height="9.6" fill="#808080"/>
<rect x="166.74" y="561.8" width="6.4" height="9.6" fill="#808080"/>
<rect x="177.75" y="561.8" width="6.4" height="9.6" fill="#808080"/>
<rect x="188.77" y="561.8" width="6.4" height="9.6" fill="#808080"/>
<rect x="199.79" y="561.8" width="6.4" height="9.6" fill="#808080"/>
<rect x="210.8" y="561.8" width="6.4" height="9.6" fill="#808080"/>
<rect x="221.82" y="561.8" width="6.4" height="9.6" fill="#808080"/>
<rect x="232.84" y="561.8" width="6.4" height="9.6" fill="#808080"/>
<rect x="243.85" y="561.8" width="6.4" height="9.6" fill="#808080"/>
<rect x="254.87" y="561.8" width="6.4" height="9.6" fill="#808080"/>
<rect x="265.89" y="561.8" width="6.4" height="9.6" fill="#808080"/>
<rect x="276.91" y="561.8" width="6.4" height="9.6" fill="#808080"/>
<rect x="287.92" y="561.8" width="6.4" height="9.6" fill="#808080"/>
<rect x="298.94" y="561.8" width="6.4" height="9.6" fill="#808080"/>
<rect x="309.96" y="561.8" width="6.4" height="9.6" fill="#808080"/>
<rect x="320.97" y="561.8" width="6.4" height="9.6" fill="#808080"/>
<rect x="331.99" y="561.8" width="6.4" height="9.6" fill="#808080"/>
<rect x="343.01" y="561.8" width="6.4" height="9.6" fill="#808080"/>
<rect x="354.02" y="561.8" width="6.4" height="9.6" fill="#808080"/>
<rect x="365.04" y="561.8" width="6.4" height="9.6" fill="#808080"/>
<rect x="376.06" y="561.8" width="6.4" height="9.6" fill="#808080"/>
<rect x="387.07" y="561.8" width="6.4" height="9.6" fill="#808080"/>
<rect x="398.09" y="561.8" width="6.4" height="9.6" fill="#808080"/>
<rect x="409.11" y="561.8" width="6.4" height="9.6" fill="#808080"/>
<rect x="420.13" y="561.8" width="6.4" height="9.6" fill="#808080"/>
<rect x="431.14" y="561.8" width="6.4" height="9.6" fill="#808080"/>
<rect x="442.16" y="561.8" width="6.4" height="9.6" fill="#808080"/>
<rect x="453.18" y="561.8" width="6.4" height="9.6" fill="#808080"/>
<rect x="464.19" y="561.8" width="6.4" height="9.6" fill="#808080"/>
<rect x="475.21" y="561.8" width="6.4" height="9.6" fill="#808080"/>
<rect x="486.23" y="561.8" width="6.4" height="9.6" fill="#808080"/>
<rect x="497.25" y="561.8" width="6.4" height="9.6" fill="#808080"/>
<rect x="508.26" y="561.8" width="6.4" height="9.6" fill="#808080"/>
<rect x="519.28" y="561.8" width="6.4" height="9.6" fill="#808080"/>
<rect x="530.3" y="561.8" width="6.4" height="9.6" fill="#808080"/>
<rect x="541.31" y="561.8" width="6.4" height="9.6" fill="#808080"/>
<rect x="552.33" y="561.8" width="6.4" height="9.6" fill="#808080"/>
<rect x="563.35" y="561.8" width="6.4" height="9.6" fill="#808080"/>
<rect x="574.36" y="561.8" width="6.4" height="9.6" fill="#808080"/>
<rect x="585.38" y="561.8" width="6.4" height="9.6" fill="#808080"/>
<rect x="596.4" y="561.8" width="6.4" height="9.6" fill="#808080"/>
<rect x="607.41" y="561.8" width="6.4" height="9.6" fill="#808080"/>
<rect x="618.43" y="561.8" width="6.4" height="9.6" fill="#808080"/>
<rect x="629.45" y="561.8" width="6.4" height="9.6" fill="#808080"/>
<rect x="640.47" y="561.8" width="6.4" height="9.6" fill="#808080"/>
<rect x="1.38" y="693.4" width="6.6" height="46.4" fill="#8e8e8e"/>
<rect x="12.4" y="698.2" width="6.6" height="41.6" fill="#8e8e8e"/>
<rect x="23.41" y="652.1" width="6.6" height="87.7" fill="#0080ff"/>
<rect x="34.43" y="698" width="6.6" height="41.8" fill="#8e8e8e"/>
<rect x="45.45" y="685.2" width="6.6" height="54.6" fill="#0080ff"/>
<rect x="56.46" y="615" width="6.6" height="124.8" fill="#0080ff"/>
<rect x="67.48" y="672.7" width="6.6" height="67.1" fill="#8e8e8e"/>
<rect x="78.5" y="659.6" width="6.6" height="80.2" fill="#0080ff"/>
<rect x="89.52" y="610.8" width="6.6" height="129" fill="#0080ff"/>
<rect x="100.53" y="659.6" width="6.6" height="80.2" fill="#8e8e8e"/>
<rect x="111.55" y="638.9" width="6.6" height="100.9" fill="#0080ff"/>
<rect x="122.57" y="665.1" width="6.6" height="74.7" fill="#8e8e8e"/>
<rect x="133.58" y="632.8" width="6.6" height="107" fill="#0080ff"/>
<rect x="144.6" y="622.8" width="6.6" height="117" fill="#0080ff"/>
<rect x="155.62" y="637.1" width="6.6" height="102.7" fill="#8e8e8e"/>
<rect x="166.63" y="629.1" width="6.6" height="110.7" fill="#0080ff"/>
<rect x="177.65" y="657.6" width="6.6" height="82.2" fill="#8e8e8e"/>
<rect x="188.67" y="638.6" width="6.6" height="101.2" fill="#0080ff"/>
<rect x="199.69" y="670.7" width="6.6" height="69.1" fill="#8e8e8e"/>
<rect x="210.7" y="667.1" width="6.6" height="72.7" fill="#0080ff"/>
<rect x="221.72" y="621.3" width="6.6" height="118.5" fill="#0080ff"/>
<rect x="232.74" y="679.7" width="6.6" height="60.1" fill="#8e8e8e"/>
<rect x="243.75" y="674.4" width="6.6" height="65.4" fill="#0080ff"/>
<rect x="254.77" y="677.9" width="6.6" height="61.9" fill="#8e8e8e"/>
<rect x="265.79" y="584" width="6.6" height="155.8" fill="#0080ff"/>
<rect x="276.81" y="625.1" width="6.6" height="114.7" fill="#8e8e8e"/>
<rect x="287.82" y="696.7" width="6.6" height="43.1" fill="#8e8e8e"/>
<rect x="298.84" y="663.4" width="6.6" height="76.4" fill="#0080ff"/>
<rect x="309.86" y="700.2" width="6.6" height="39.6" fill="#8e8e8e"/>
<rect x="320.87" y="683.7" width="6.6" height="56.1" fill="#0080ff"/>
<rect x="331.89" y="638.9" width="6.6" height="100.9" fill="#0080ff"/>
<rect x="342.91" y="647.1" width="6.6" height="92.7" fill="#8e8e8e"/>
<polyline points="4.5,691.4 25,692.7 50,694 82.6,693.2 125.2,690.7 175.3,687 225.3,683.4 263,681.4 275.4,679.7 325.5,679.2 346,677" fill="none" stroke="#ff2020" stroke-width="1.2" stroke-linejoin="round" />
<polyline points="4.5,681 15.5,684 23.8,679.4 37.6,683.2 47.6,686 59.6,677.2 70.6,674 77.6,672.2 87.6,663.9 100,657 110,654.6 125,650 136.5,643.9 147.7,644.4 158.7,638.9 166.5,637 180.8,642.6 191.8,639.6 202.8,643.4 213.8,644 224.8,642.9 235.9,649.4 246.9,654.4 257.9,660 268.9,650.6 276.7,649.9 291,652.6 302,652 313,661.9 324,662.4 335,657.6 346,654.5" fill="none" stroke="#222" stroke-width="1.2" stroke-linejoin="round" />
<path d="M16.5 741v2.4" stroke="#555" stroke-width="1"/>
<text x="15.7" y="754" font-size="10" fill="#111" font-weight="bold" text-anchor="middle">12</text>
<path d="M71.5 741v2.4" stroke="#555" stroke-width="1"/>
<text x="70.78" y="754" font-size="10" fill="#111" font-weight="bold" text-anchor="middle">19</text>
<path d="M126.5 741v2.4" stroke="#555" stroke-width="1"/>
<text x="125.87" y="754" font-size="10" fill="#111" font-weight="bold" text-anchor="middle">26</text>
<path d="M181.5 741v2.4" stroke="#555" stroke-width="1"/>
<text x="180.95" y="754" font-size="10" fill="#111" font-weight="bold" text-anchor="middle">Oct</text>
<path d="M236.5 741v2.4" stroke="#555" stroke-width="1"/>
<text x="236.04" y="754" font-size="10" fill="#111" font-weight="bold" text-anchor="middle">10</text>
<path d="M291.5 741v2.4" stroke="#555" stroke-width="1"/>
<text x="291.12" y="754" font-size="10" fill="#111" font-weight="bold" text-anchor="middle">17</text>
<path d="M346.5 741v2.4" stroke="#555" stroke-width="1"/>
<text x="346.21" y="754" font-size="10" fill="#111" font-weight="bold" text-anchor="middle">24</text>
<g transform="translate(688.3 11.5) scale(1)">
<path d="M7.4 0v14.8M3.1 5.6v8.3M11 4.2v8.6" stroke="#1587d8" stroke-width="2.4" stroke-dasharray="3.4 0.9" fill="none"/>
<polyline points="0.3,10.2 4.4,7.4 6.8,9.6 14,4.2" fill="none" stroke="#2ec4a0" stroke-width="2.1"/>
</g>
<text x="710.1" y="21.6" font-size="10.8" fill="#d0d0d0" textLength="316.5" lengthAdjust="spacingAndGlyphs">Chart Analysis - BR(HB) Daily [NYSE] Broadridge Finl Solutions Inc</text>
<rect x="1211.7" y="10.4" width="20.2" height="14.6" rx="2" fill="#20e040" stroke="#0c8a20" stroke-width="0.8"/>
<text x="1215.9" y="21.2" font-size="10.5" fill="#000" font-weight="bold" font-family="Liberation Mono, monospace">S</text>
<path d="M1226.5 16.6h2l-1 1.7z" fill="#000"/>
<rect x="1237.9" y="10.4" width="20.4" height="14.6" rx="2" fill="#7d8888" stroke="#c8c8c8" stroke-width="0.9"/>
<text x="1242.1" y="21.2" font-size="10.5" fill="#fff" font-weight="bold" font-family="Liberation Mono, monospace">I</text>
<path d="M1252.5 16.4h2.2l-1.1 1.9z" fill="#fff"/>
<path d="M1280.4 21.8h6" stroke="#5a5a5a" stroke-width="1.7"/>
<rect x="1313.9" y="16.4" width="8.2" height="7" fill="none" stroke="#5a5a5a" stroke-width="1.2"/>
<path d="M1349.1 16.4l7 7.2m0 -7.2l-7 7.2" stroke="#5a5a5a" stroke-width="1.2" fill="none"/>
<path d="M701.5 41V740M756.5 41V740M811.5 41V740M866.5 41V740M921.5 41V740M976.5 41V740M1032.5 41V740M1087.5 41V740M1142.5 41V740M1197.5 41V740M1252.5 41V740M1296.5 41V740" stroke="#e4e4e4" stroke-width="1" stroke-dasharray="1 1" fill="none" shape-rendering="crispEdges"/>
<path d="M688 51.5H1331.3M688 79.5H1331.3M688 106.5H1331.3M688 134.5H1331.3M688 162.5H1331.3M688 190.5H1331.3M688 217.5H1331.3M688 245.5H1331.3M688 273.5H1331.3M688 301.5H1331.3M688 328.5H1331.3" stroke="#e4e4e4" stroke-width="1" stroke-dasharray="1 1" fill="none" shape-rendering="crispEdges"/>
<path d="M688 361.5H1331.3M688 380.5H1331.3M688 399.5H1331.3M688 419.5H1331.3M688 438.5H1331.3M688 457.5H1331.3M688 477.5H1331.3M688 496.5H1331.3M688 515.5H1331.3" stroke="#e4e4e4" stroke-width="1" stroke-dasharray="1 1" fill="none" shape-rendering="crispEdges"/>
<path d="M688 594.5H1331.3M688 616.5H1331.3M688 637.5H1331.3M688 659.5H1331.3M688 681.5H1331.3M688 703.5H1331.3M688 724.5H1331.3" stroke="#e4e4e4" stroke-width="1" stroke-dasharray="1 1" fill="none" shape-rendering="crispEdges"/>
<rect x="1330.7" y="29.8" width="1.3" height="711" fill="#8c8c8c"/>
<rect x="688.3" y="739.8" width="643" height="1.2" fill="#8c8c8c"/>
<text x="689.1" y="40.6" font-size="10.2" fill="#000" font-weight="bold" textLength="66.5" lengthAdjust="spacingAndGlyphs">BR(HB) - Daily</text>
<text x="762.1" y="40.6" font-size="10.2" fill="#ff0000" font-weight="bold">0.00%</text>
<path d="M1331.9 51.5h3" stroke="#555" stroke-width="1"/>
<text x="1335.5" y="55.5" font-size="10" fill="#111" font-weight="bold">180.00</text>
<path d="M1331.9 79.5h3" stroke="#555" stroke-width="1"/>
<text x="1335.5" y="83.25" font-size="10" fill="#111" font-weight="bold">175.00</text>
<path d="M1331.9 107.5h3" stroke="#555" stroke-width="1"/>
<text x="1335.5" y="111" font-size="10" fill="#111" font-weight="bold">170.00</text>
<path d="M1331.9 135.5h3" stroke="#555" stroke-width="1"/>
<text x="1335.5" y="138.75" font-size="10" fill="#111" font-weight="bold">165.00</text>
<path d="M1331.9 162.5h3" stroke="#555" stroke-width="1"/>
<text x="1335.5" y="166.5" font-size="10" fill="#111" font-weight="bold">160.00</text>
<path d="M1331.9 190.5h3" stroke="#555" stroke-width="1"/>
<text x="1335.5" y="194.25" font-size="10" fill="#111" font-weight="bold">155.00</text>
<path d="M1331.9 218.5h3" stroke="#555" stroke-width="1"/>
<text x="1335.5" y="222" font-size="10" fill="#111" font-weight="bold">150.00</text>
<path d="M1331.9 246.5h3" stroke="#555" stroke-width="1"/>
<text x="1335.5" y="249.75" font-size="10" fill="#111" font-weight="bold">145.00</text>
<path d="M1331.9 273.5h3" stroke="#555" stroke-width="1"/>
<text x="1335.5" y="277.5" font-size="10" fill="#111" font-weight="bold">140.00</text>
<path d="M1331.9 301.5h3" stroke="#555" stroke-width="1"/>
<text x="1335.5" y="305.25" font-size="10" fill="#111" font-weight="bold">135.00</text>
<path d="M1331.9 329.5h3" stroke="#555" stroke-width="1"/>
<text x="1335.5" y="333" font-size="10" fill="#111" font-weight="bold">130.00</text>
<polyline points="690.7,42.4 701,41.96 702.4,41.9 711.5,48.36 714.1,50.2 716.5,50.9 734,56.04 734.2,56.1 757.7,62 759,62.21 777.7,65.3 784,67.77 801.2,74.5 809,78 809.2,78.09 817.9,82 829,87.02 834.2,89.37 834.7,89.6 851.4,102.1 856.8,105.31 859,106.62 859.8,107.1 869,109.89 874,111.4 884.9,114.7 888.5,116.75 890,117.6 894,119.2 906.7,124.3 909,125.37 910,125.84 931.8,136 932.8,136.64 934,137.4 943.6,143.5 945.8,143.59 953.6,143.9 965.3,148.03 973.7,151 985.3,152.81 990.4,153.6 1000.4,156.09 1010.5,158.6 1022.9,161.9 1032.3,164.4 1035.4,164.72 1049,166.1 1055.4,167.7 1065.8,170.3 1073,169.3 1087,167.37 1087.5,167.3 1098,166.58 1109.3,165.8 1110,166.24 1130,178.8 1147.7,188.8 1165,191.3 1165.2,191.23 1175,187.6 1185.2,190.48 1192.7,192.6 1208.3,194.31 1220,195.6 1230.3,195.69 1242.8,195.8 1265.4,191.3 1285.9,188.31" fill="none" stroke="#9c9c9c" stroke-width="1" stroke-dasharray="1.2 1.8"/>
<polyline points="690.7,62.62 701,61.84 702.4,61.73 711.5,66.75 714.1,68.18 716.5,68.67 734,73.78 734.2,73.84 757.7,79.75 759,79.98 777.7,84.42 784,87.11 801.2,94.87 809,98.77 809.2,98.87 817.9,103.12 829,108.58 834.2,111.08 834.7,111.32 851.4,123.46 856.8,126.7 859,128.02 859.8,128.46 869,131.29 874,132.83 884.9,136.16 888.5,138.06 890,138.85 894,140.4 906.7,146.24 909,147.43 910,147.91 931.8,158.53 932.8,159.16 934,159.92 943.6,165.25 945.8,165.68 953.6,167.21 965.3,171.49 973.7,174.57 985.3,176.78 990.4,177.75 1000.4,180.34 1010.5,182.95 1022.9,186.07 1032.3,188.43 1035.4,188.74 1049,190.1 1055.4,191.2 1065.8,192.99 1073,192.11 1087,190.4 1087.5,190.34 1098,190.22 1109.3,190.09 1110,190.51 1130,202.53 1147.7,211.77 1165,215.51 1165.2,215.46 1175,213.15 1185.2,215.13 1192.7,216.59 1208.3,217.6 1220,218.37 1230.3,217.95 1242.8,217.43 1265.4,212.6 1285.9,209.18" fill="none" stroke="#9c9c9c" stroke-width="1" stroke-dasharray="1.2 1.8"/>
<polyline points="690.7,82.83 701,81.72 702.4,81.56 711.5,85.14 714.1,86.16 716.5,86.44 734,91.53 734.2,91.58 757.7,97.49 759,97.74 777.7,103.54 784,106.44 801.2,115.24 809,119.54 809.2,119.64 817.9,124.25 829,130.15 834.2,132.79 834.7,133.04 851.4,144.83 856.8,148.09 859,149.42 859.8,149.82 869,152.7 874,154.27 884.9,157.63 888.5,159.38 890,160.11 894,161.6 906.7,168.19 909,169.48 910,169.99 931.8,181.07 932.8,181.69 934,182.43 943.6,187 945.8,187.77 953.6,190.53 965.3,194.95 973.7,198.13 985.3,200.75 990.4,201.9 1000.4,204.58 1010.5,207.29 1022.9,210.24 1032.3,212.47 1035.4,212.77 1049,214.09 1055.4,214.7 1065.8,215.68 1073,214.91 1087,213.43 1087.5,213.38 1098,213.86 1109.3,214.37 1110,214.78 1130,226.27 1147.7,234.73 1165,239.72 1165.2,239.7 1175,238.7 1185.2,239.78 1192.7,240.58 1208.3,240.9 1220,241.13 1230.3,240.2 1242.8,239.07 1265.4,233.9 1285.9,230.04" fill="none" stroke="#9c9c9c" stroke-width="1" stroke-dasharray="1.2 1.8"/>
<polyline points="690.7,123.27 701,121.47 702.4,121.23 711.5,121.92 714.1,122.12 716.5,121.97 734,127.01 734.2,127.07 757.7,132.98 759,133.27 777.7,141.78 784,145.12 801.2,155.99 809,161.07 809.2,161.19 817.9,166.49 829,173.27 834.2,176.21 834.7,176.49 851.4,187.56 856.8,190.86 859,192.21 859.8,192.54 869,195.52 874,197.13 884.9,200.56 888.5,202.01 890,202.61 894,204 906.7,212.08 909,213.59 910,214.14 931.8,226.13 932.8,226.74 934,227.47 943.6,230.5 945.8,231.96 953.6,237.15 965.3,241.88 973.7,245.27 985.3,248.7 990.4,250.2 1000.4,253.08 1010.5,255.98 1022.9,258.57 1032.3,260.54 1035.4,260.83 1049,262.08 1055.4,261.69 1065.8,261.05 1073,260.52 1087,259.5 1087.5,259.46 1098,261.14 1109.3,262.95 1110,263.31 1130,273.73 1147.7,280.67 1165,288.14 1165.2,288.17 1175,289.79 1185.2,289.08 1192.7,288.55 1208.3,287.48 1220,286.67 1230.3,284.71 1242.8,282.33 1265.4,276.5 1285.9,271.76" fill="none" stroke="#9c9c9c" stroke-width="1" stroke-dasharray="1.2 1.8"/>
<polyline points="690.7,143.49 701,141.35 702.4,141.06 711.5,140.31 714.1,140.1 716.5,139.73 734,144.76 734.2,144.81 757.7,150.73 759,151.04 777.7,160.9 784,164.46 801.2,176.36 809,181.83 809.2,181.96 817.9,187.62 829,194.84 834.2,197.92 834.7,198.21 851.4,208.92 856.8,212.25 859,213.6 859.8,213.91 869,216.93 874,218.57 884.9,222.02 888.5,223.32 890,223.87 894,225.2 906.7,234.02 909,235.65 910,236.22 931.8,248.66 932.8,249.26 934,249.98 943.6,252.25 945.8,254.05 953.6,260.47 965.3,265.34 973.7,268.83 985.3,272.67 990.4,274.35 1000.4,277.33 1010.5,280.33 1022.9,282.74 1032.3,284.57 1035.4,284.85 1049,286.08 1055.4,285.19 1065.8,283.74 1073,283.33 1087,282.53 1087.5,282.5 1098,284.78 1109.3,287.23 1110,287.58 1130,297.47 1147.7,303.63 1165,312.35 1165.2,312.41 1175,315.34 1185.2,313.73 1192.7,312.54 1208.3,310.77 1220,309.44 1230.3,306.97 1242.8,303.97 1265.4,297.8 1285.9,292.62" fill="none" stroke="#9c9c9c" stroke-width="1" stroke-dasharray="1.2 1.8"/>
<polyline points="690.7,163.7 701,161.23 702.4,160.89 711.5,158.7 714.1,158.08 716.5,157.5 734,162.5 734.2,162.55 757.7,168.47 759,168.8 777.7,180.02 784,183.8 801.2,196.73 809,202.6 809.2,202.74 817.9,208.74 829,216.4 834.2,219.62 834.7,219.93 851.4,230.29 856.8,233.64 859,235 859.8,235.27 869,238.33 874,240 884.9,243.49 888.5,244.64 890,245.12 894,246.4 906.7,255.97 909,257.7 910,258.29 931.8,271.2 932.8,271.79 934,272.5 943.6,274 945.8,276.15 953.6,283.78 965.3,288.8 973.7,292.4 985.3,296.64 990.4,298.5 1000.4,301.58 1010.5,304.68 1022.9,306.91 1032.3,308.61 1035.4,308.88 1049,310.08 1055.4,308.69 1065.8,306.43 1073,306.13 1087,305.57 1087.5,305.55 1098,308.42 1109.3,311.52 1110,311.85 1130,321.2 1147.7,326.6 1165,336.56 1165.2,336.64 1175,340.89 1185.2,338.38 1192.7,336.53 1208.3,334.06 1220,332.2 1230.3,329.22 1242.8,325.6 1265.4,319.1 1285.9,313.49" fill="none" stroke="#9c9c9c" stroke-width="1" stroke-dasharray="1.2 1.8"/>
<text x="1153.5" y="261.5" font-size="10" fill="#222" text-anchor="middle">150</text>
<text x="1176" y="248.5" font-size="10" fill="#222" text-anchor="middle">100</text>
<text x="1252.6" y="211.5" font-size="10" fill="#222" text-anchor="middle">50</text>
<path d="M1264 263.3H1331" stroke="#a8a8a8" stroke-width="1.1"/>
<text x="1266.6" y="273" font-size="10" fill="#808080" font-weight="bold">STM:50</text>
<polyline points="1076.3,277.7 1088.8,264 1098.9,258.2 1109.6,258.2" fill="none" stroke="#ff0000" stroke-width="1.3" stroke-linejoin="round" />
<polyline points="1208.3,297.7 1220.3,292 1242.3,292 1253.3,274.4 1270.4,270.7 1285.9,263.2" fill="none" stroke="#ff0000" stroke-width="1.3" stroke-linejoin="round" />
<polyline points="690.3,103.9 692.23,103.68 694.99,103.36 698.09,103.04 701,102.8 703.36,102.56 705.51,102.29 708.04,102.24 711.5,102.6 712,102.69" fill="none" stroke="#00ee00" stroke-width="2.2" stroke-linejoin="round" stroke-linecap="round"/>
<polyline points="712,102.69 713.72,103 716.22,103.54 718.95,104.19 721.84,104.92 724.85,105.69 727.92,106.48 730.99,107.26 734,108 736.67,108.61 739.39,109.19 742.15,109.75 744.94,110.32 747.75,110.92 750.57,111.56 753.4,112.26 756.21,113.03 759,113.9 761.78,114.87 764.55,115.91 767.33,117.02 770.1,118.19 772.88,119.42 775.65,120.68 778.43,121.97 781.21,123.28 784,124.6 786.79,125.93 789.59,127.27 792.39,128.63 795.2,130.02 798,131.44 800.81,132.92 803.61,134.45 806.41,136.04 809.2,137.7 812,139.47 814.82,141.37 817.64,143.35 820.46,145.39 823.26,147.45 826.05,149.49 828.81,151.49 831.53,153.4 834.2,155.2 837.21,157.15 840.26,159.08 843.31,160.96 846.3,162.78 849.19,164.5 851.94,166.1 854.49,167.54 856.8,168.8 859.79,170.33 862.08,171.36 864.09,172.13 866.26,172.86 869,173.8 871.39,174.58 873.98,175.34 876.74,176.11 879.62,176.92 882.57,177.82 885.55,178.84 888.5,180 891.08,181.17 893.7,182.47 896.36,183.86 899.04,185.33 901.75,186.84 904.49,188.36 907.24,189.85 910,191.3 912.85,192.74 915.84,194.22 918.89,195.71 921.93,197.19 924.91,198.65 927.76,200.05 930.41,201.37 932.8,202.6 935.92,204.29 938.39,205.74 940.6,207.07 942.94,208.44 945.8,210 948.24,211.3 950.88,212.72 953.68,214.2 956.57,215.69 959.5,217.13 962.43,218.45 965.3,219.6 968.17,220.56 971.12,221.38 974.09,222.1 977.05,222.75 979.93,223.36 982.7,223.96 985.3,224.6 988.01,225.34 990.42,226.02 992.69,226.68 995,227.36 997.51,228.09 1000.4,228.9 1002.93,229.6 1005.74,230.39 1008.73,231.24 1011.81,232.09 1014.87,232.93 1017.8,233.72 1020.52,234.42 1022.9,235 1025.92,235.67 1028.26,236.11 1030.34,236.43 1032.58,236.69 1035.4,237 1037.88,237.27 1040.64,237.54 1043.57,237.82 1046.6,238.08 1049.64,238.3 1052.6,238.48 1055.4,238.6 1058.51,238.66 1061.58,238.66 1064.58,238.61 1067.49,238.5 1070.3,238.37 1073,238.2 1076,237.95" fill="none" stroke="#ff0000" stroke-width="2.2" stroke-linejoin="round" stroke-linecap="round"/>
<polyline points="1076,237.95 1076.08,237.94 1079,237.61 1081.79,237.24 1084.45,236.86 1087,236.5 1089.94,235.94 1092.62,235.29 1095.25,234.82 1098,234.8 1098.3,234.85" fill="none" stroke="#00ee00" stroke-width="2.2" stroke-linejoin="round" stroke-linecap="round"/>
<polyline points="1098.3,234.85 1100.21,235.14 1102.34,235.69 1104.58,236.48 1107.07,237.54 1110,238.9 1112.46,240.15 1115.2,241.66 1118.13,243.35 1121.17,245.11 1124.22,246.87 1127.19,248.53 1130,250 1133.09,251.5 1136.08,252.87 1139.01,254.15 1141.9,255.36 1144.79,256.54 1147.7,257.7 1150.6,258.9 1153.46,260.12 1156.31,261.3 1159.19,262.38 1162.14,263.3 1165.2,264 1167.9,264.38 1170.64,264.57 1173.43,264.64 1176.28,264.61 1179.19,264.55 1182.16,264.5 1185.2,264.5 1187.95,264.55 1190.78,264.61 1193.68,264.67 1196.62,264.73 1199.58,264.76 1202.53,264.78 1205.44,264.76 1208.3,264.7" fill="none" stroke="#ff0000" stroke-width="2.2" stroke-linejoin="round" stroke-linecap="round"/>
<polyline points="1208.3,264.7 1211.17,264.6 1214.1,264.47 1217.05,264.31 1219.96,264.12 1222.79,263.91 1225.49,263.69 1228.01,263.45 1230.3,263.2 1233.25,262.81 1235.5,262.42 1237.53,261.96 1239.81,261.41 1242.8,260.7 1245.16,260.15 1247.79,259.51 1250.63,258.8 1253.6,258.06 1256.63,257.31 1259.66,256.56 1262.61,255.85 1265.4,255.2 1268.62,254.49 1272.01,253.76 1275.41,253.05 1278.66,252.38 1281.6,251.78 1284.07,251.28 1285.9,250.9" fill="none" stroke="#00ee00" stroke-width="2.2" stroke-linejoin="round" stroke-linecap="round"/>
<path d="M690.4 88.7V105.3M690.4 95.6H696.1M701.42 85.4V98.9M695.72 90.8H701.42M701.42 90.8H707.12M712.44 103V121.5M706.74 108H712.44M712.44 116.4H718.14M723.46 111.1V132.3M717.76 117.6H723.46M723.46 124.6H729.16M734.48 116.1V147.9M728.78 127.6H734.48M734.48 144H740.18M745.5 129.7V155.3M739.8 142.7H745.5M745.5 142.7H751.2M756.52 132.1V148.6M750.82 146.4H756.52M756.52 134.7H762.22M767.54 136.8V160.6M761.84 139H767.54M767.54 150.7H773.24M778.56 136.1V164.9M772.86 144.7H778.56M778.56 162.2H784.26M789.58 160.4V180.5M783.88 165H789.58M789.58 178H795.28M800.6 184.1V207.3M794.9 186.4H800.6M800.6 194.3H806.3M811.62 188.1V206.1M805.92 195.2H811.62M811.62 200H817.32M822.64 188.1V225.9M816.94 190H822.64M822.64 222.6H828.34M833.66 216.7V247.9M827.96 235H833.66M833.66 223.9H839.36M844.68 223V245.5M838.98 225H844.68M844.68 235H850.38M855.7 227.1V251.8M850 231.4H855.7M855.7 249.6H861.4M866.72 218V245.9M861.02 240H866.72M866.72 223.9H872.42M877.74 200.5V218.9M872.04 216.4H877.74M877.74 203.9H883.44M888.76 206.1V225.3M883.06 216H888.76M888.76 213.8H894.46M899.78 210.4V247.3M894.08 215H899.78M899.78 243.9H905.48M910.8 248V268.9M905.1 250H910.8M910.8 257.7H916.5M921.82 246.7V267.3M916.12 252.7H921.82M921.82 252H927.52M932.84 247.1V266.6M927.14 254H932.84M932.84 259.4H938.54M943.86 254.1V277.3M938.16 258H943.86M943.86 275H949.56M954.88 250.5V298.9M949.18 291.5H954.88M954.88 258H960.58M965.9 241.1V280.9M960.2 249H965.9M965.9 279H971.6M976.92 253.1V268.9M971.22 267H976.92M976.92 258H982.62M987.94 231.7V250.9M982.24 240.6H987.94M987.94 243H993.64M998.96 240.5V262.9M993.26 244.6H998.96M998.96 254H1004.66M1009.98 247.1V289.9M1004.28 250H1009.98M1009.98 271.4H1015.68M1021 264.1V287.4M1015.3 274H1021M1021 267.7H1026.7M1032.02 254.1V277.9M1026.32 259H1032.02M1032.02 259.7H1037.72M1043.04 245.5V265.6M1037.34 260H1043.04M1043.04 249H1048.74M1054.06 235.5V259.9M1048.36 247.6H1054.06M1054.06 249.6H1059.76M1065.08 235.5V252.9M1059.38 245H1065.08M1065.08 245.6H1070.78M1076.1 221.1V247.9M1070.4 245H1076.1M1076.1 223.9H1081.8M1087.12 211.7V233.7M1081.42 228.9H1087.12M1087.12 217H1092.82M1098.14 207.5V227.3M1092.44 209.8H1098.14M1098.14 220H1103.84M1109.16 234.1V287.9M1103.46 237H1109.16M1109.16 286.5H1114.86M1120.18 284.1V313.6M1114.48 294.7H1120.18M1120.18 307H1125.88M1131.2 293.8V323.7M1125.5 297.7H1131.2M1131.2 309.7H1136.9M1142.22 294.8V312.9M1136.52 306.5H1142.22M1142.22 298H1147.92M1153.24 275.5V300.9M1147.54 293H1153.24M1153.24 293H1158.94M1164.26 287.1V310.9M1158.56 301.5H1164.26M1164.26 307.7H1169.96M1175.28 256.8V284.3M1169.58 278H1175.28M1175.28 260H1180.98M1186.3 258.8V282.9M1180.6 261.5H1186.3M1186.3 273.9H1192M1197.32 255.5V278.9M1191.62 276.4H1197.32M1197.32 265.7H1203.02M1208.34 245.5V266.6M1202.64 255H1208.34M1208.34 258H1214.04M1219.36 248.7V261.6M1213.66 256.4H1219.36M1219.36 257H1225.06M1230.38 252.1V272.9M1224.68 266.4H1230.38M1230.38 259H1236.08M1241.4 244.1V265.6M1235.7 248H1241.4M1241.4 248H1247.1M1252.42 224.1V242.9M1246.72 241.4H1252.42M1252.42 232.6H1258.12M1263.44 223.5V240.9M1257.74 233.9H1263.44M1263.44 226.4H1269.14M1274.46 223V238.5M1268.76 231.4H1274.46M1274.46 226.4H1280.16M1285.48 219.7V232.3M1279.78 227H1285.48M1285.48 225.6H1291.18" stroke="#1a0a0a" stroke-width="2.7" fill="none"/>
<path d="M690.4 89.6V104.4M690.4 95.6H695.2M701.42 86.3V98M696.62 90.8H701.42M701.42 90.8H706.22M877.74 201.4V218M872.94 216.4H877.74M877.74 203.9H882.54M987.94 232.6V250M983.14 240.6H987.94M987.94 243H992.74M1043.04 246.4V264.7M1038.24 260H1043.04M1043.04 249H1047.84M1054.06 236.4V259M1049.26 247.6H1054.06M1054.06 249.6H1058.86M1065.08 236.4V252M1060.28 245H1065.08M1065.08 245.6H1069.88M1076.1 222V247M1071.3 245H1076.1M1076.1 223.9H1080.9M1087.12 212.6V232.8M1082.32 228.9H1087.12M1087.12 217H1091.92M1175.28 257.7V283.4M1170.48 278H1175.28M1175.28 260H1180.08M1186.3 259.7V282M1181.5 261.5H1186.3M1186.3 273.9H1191.1M1197.32 256.4V278M1192.52 276.4H1197.32M1197.32 265.7H1202.12M1208.34 246.4V265.7M1203.54 255H1208.34M1208.34 258H1213.14M1219.36 249.6V260.7M1214.56 256.4H1219.36M1219.36 257H1224.16M1241.4 245V264.7M1236.6 248H1241.4M1241.4 248H1246.2M1252.42 225V242M1247.62 241.4H1252.42M1252.42 232.6H1257.22M1263.44 224.4V240M1258.64 233.9H1263.44M1263.44 226.4H1268.24" stroke="#08ea08" stroke-width="2.5" fill="none"/>
<path d="M712.44 103.9V120.6M707.64 108H712.44M712.44 116.4H717.24M723.46 112V131.4M718.66 117.6H723.46M723.46 124.6H728.26M734.48 117V147M729.68 127.6H734.48M734.48 144H739.28M745.5 130.6V154.4M740.7 142.7H745.5M745.5 142.7H750.3M767.54 137.7V159.7M762.74 139H767.54M767.54 150.7H772.34M778.56 137V164M773.76 144.7H778.56M778.56 162.2H783.36M789.58 161.3V179.6M784.78 165H789.58M789.58 178H794.38M800.6 185V206.4M795.8 186.4H800.6M800.6 194.3H805.4M811.62 189V205.2M806.82 195.2H811.62M811.62 200H816.42M822.64 189V225M817.84 190H822.64M822.64 222.6H827.44M899.78 211.3V246.4M894.98 215H899.78M899.78 243.9H904.58M910.8 248.9V268M906 250H910.8M910.8 257.7H915.6M943.86 255V276.4M939.06 258H943.86M943.86 275H948.66M965.9 242V280M961.1 249H965.9M965.9 279H970.7M1009.98 248V289M1005.18 250H1009.98M1009.98 271.4H1014.78M1021 265V286.5M1016.2 274H1021M1021 267.7H1025.8M1109.16 235V287M1104.36 237H1109.16M1109.16 286.5H1113.96M1120.18 285V312.7M1115.38 294.7H1120.18M1120.18 307H1124.98M1131.2 294.7V322.8M1126.4 297.7H1131.2M1131.2 309.7H1136M1164.26 288V310M1159.46 301.5H1164.26M1164.26 307.7H1169.06" stroke="#fa0808" stroke-width="2.5" fill="none"/>
<path d="M756.52 133V147.7M751.72 146.4H756.52M756.52 134.7H761.32M833.66 217.6V247M828.86 235H833.66M833.66 223.9H838.46M844.68 223.9V244.6M839.88 225H844.68M844.68 235H849.48M855.7 228V250.9M850.9 231.4H855.7M855.7 249.6H860.5M866.72 218.9V245M861.92 240H866.72M866.72 223.9H871.52M888.76 207V224.4M883.96 216H888.76M888.76 213.8H893.56M921.82 247.6V266.4M917.02 252.7H921.82M921.82 252H926.62M932.84 248V265.7M928.04 254H932.84M932.84 259.4H937.64M954.88 251.4V298M950.08 291.5H954.88M954.88 258H959.68M976.92 254V268M972.12 267H976.92M976.92 258H981.72M998.96 241.4V262M994.16 244.6H998.96M998.96 254H1003.76M1032.02 255V277M1027.22 259H1032.02M1032.02 259.7H1036.82M1098.14 208.4V226.4M1093.34 209.8H1098.14M1098.14 220H1102.94M1142.22 295.7V312M1137.42 306.5H1142.22M1142.22 298H1147.02M1153.24 276.4V300M1148.44 293H1153.24M1153.24 293H1158.04M1230.38 253V272M1225.58 266.4H1230.38M1230.38 259H1235.18M1274.46 223.9V237.6M1269.66 231.4H1274.46M1274.46 226.4H1279.26M1285.48 220.6V231.4M1280.68 227H1285.48M1285.48 225.6H1290.28" stroke="#0a82fa" stroke-width="2.5" fill="none"/>
<circle cx="1153.4" cy="271.2" r="4.6" fill="#ff0000"/>
<path d="M1153.4 267.9V272.4" stroke="#fff" stroke-width="1.3"/><path d="M1151.6 272h3.6l-1.8 2.6z" fill="#fff"/>
<circle cx="1151.4" cy="281" r="2" fill="#fff" stroke="#1414ff" stroke-width="1.3"/>
<circle cx="1156.7" cy="283.2" r="2" fill="#fff" stroke="#ff0000" stroke-width="1.3"/>
<circle cx="1153.4" cy="304.7" r="4.6" fill="#1414ff"/>
<path d="M1153.4 308V303.5" stroke="#fff" stroke-width="1.3"/><path d="M1151.6 303.9h3.6l-1.8 -2.6z" fill="#fff"/>
<circle cx="1175.5" cy="258" r="4.6" fill="#ff0000"/>
<path d="M1175.5 254.7V259.2" stroke="#fff" stroke-width="1.3"/><path d="M1173.7 258.8h3.6l-1.8 2.6z" fill="#fff"/>
<circle cx="1178.7" cy="266.4" r="2" fill="#fff" stroke="#ff0000" stroke-width="1.3"/>
<circle cx="1252.8" cy="220.6" r="4.6" fill="#ff0000"/>
<path d="M1252.8 217.3V221.8" stroke="#fff" stroke-width="1.3"/><path d="M1251 221.4h3.6l-1.8 2.6z" fill="#fff"/>
<circle cx="1255.8" cy="241.9" r="2" fill="#fff" stroke="#ff0000" stroke-width="1.3"/>
<path d="M1331.2 225.8L1334.6 220.3H1369.3V231.3H1334.6Z" fill="#111"/>
<text x="1335.4" y="229.7" font-size="10" fill="#fff" font-weight="bold">148.52</text>
<path d="M1331.2 262.7L1334.6 256.9H1369.3V268.5H1334.6Z" fill="#967878" stroke="#c09090" stroke-width="0.8"/>
<text x="1335.4" y="266.6" font-size="10" fill="#fff" font-weight="bold">141.87</text>
<path d="M1331.6 343H1370" stroke="#8c8c8c" stroke-width="1.2"/>
<path d="M1331.6 535H1338" stroke="#8c8c8c" stroke-width="1.2"/>
<path d="M1331.6 572H1370" stroke="#8c8c8c" stroke-width="1.2"/>
<rect x="1028.72" y="398.8" width="6.6" height="20.1" fill="#0080ff"/>
<rect x="1039.74" y="389.3" width="6.6" height="29.6" fill="#0080ff"/>
<rect x="1050.76" y="383.8" width="6.6" height="35.1" fill="#0080ff"/>
<rect x="1061.78" y="378.8" width="6.6" height="40.1" fill="#0080ff"/>
<rect x="1072.8" y="366.8" width="6.6" height="52.1" fill="#0080ff"/>
<rect x="1083.82" y="357.5" width="6.6" height="61.4" fill="#0080ff"/>
<rect x="1094.84" y="354.5" width="6.6" height="64.4" fill="#0080ff"/>
<rect x="1105.86" y="384.3" width="6.6" height="34.6" fill="#8e8e8e"/>
<rect x="1116.88" y="413" width="6.6" height="5.9" fill="#8e8e8e"/>
<rect x="1127.9" y="418.9" width="6.6" height="11.1" fill="#8e8e8e"/>
<rect x="1138.92" y="418.9" width="6.6" height="16.1" fill="#8e8e8e"/>
<rect x="1149.94" y="418.9" width="6.6" height="15" fill="#0080ff"/>
<rect x="1160.96" y="418.9" width="6.6" height="18.8" fill="#8e8e8e"/>
<rect x="1171.98" y="418.9" width="6.6" height="0.9" fill="#40b0ff"/>
<rect x="1183" y="410.6" width="6.6" height="8.3" fill="#0080ff"/>
<rect x="1194.02" y="400.6" width="6.6" height="18.3" fill="#0080ff"/>
<rect x="1205.04" y="390.8" width="6.6" height="28.1" fill="#0080ff"/>
<rect x="1216.06" y="384.3" width="6.6" height="34.6" fill="#0080ff"/>
<rect x="1227.08" y="381.8" width="6.6" height="37.1" fill="#0080ff"/>
<rect x="1238.1" y="376.8" width="6.6" height="42.1" fill="#0080ff"/>
<rect x="1249.12" y="368.3" width="6.6" height="50.6" fill="#0080ff"/>
<rect x="1260.14" y="362" width="6.6" height="56.9" fill="#0080ff"/>
<rect x="1271.16" y="360" width="6.6" height="58.9" fill="#0080ff"/>
<rect x="1282.18" y="361.5" width="6.6" height="57.4" fill="#8e8e8e"/>
<path d="M1025 418.9H1287" stroke="#444" stroke-width="1.4"/>
<polyline points="1025,522.3 1043,516.5 1054,512.3 1065,507.3 1076,500.3 1087,492.7 1098,484.7 1109,480.2 1120,479.5 1131,481.5 1142,483.5 1153,485.2 1164,487.2 1175,487.7 1186,486.5 1197,484 1208,480.2 1219,476 1230,471.5 1241,465.7 1252,459.4 1263,451.9 1274,444.4 1286,437.7" fill="none" stroke="#ffa000" stroke-width="1.5" stroke-linejoin="round" />
<polyline points="1025,514 1032,510.3 1043,502.3 1054,494.7 1065,487 1076,474 1087,461.4 1098,452.2 1109,462.7 1120,476.5 1131,487 1142,491.5 1153,492.2 1164,497 1175,487.7 1186,482.2 1197,474 1208,465.7 1219,458.2 1230,452.2 1241,444.4 1252,433.9 1263,423.1 1274,415.1 1283,410.1" fill="none" stroke="#3a1cff" stroke-width="1.6" stroke-linejoin="round" />
<path d="M1331.2 361.3L1334.6 355.8H1369.3V366.8H1334.6Z" fill="#9a9a9a"/>
<text x="1335.4" y="365.2" font-size="10" fill="#fff" font-weight="bold">3.00</text>
<path d="M1332.2 381.5h3" stroke="#555" stroke-width="1"/>
<text x="1335.8" y="384.8" font-size="10" fill="#111" font-weight="bold">2.00</text>
<path d="M1332.2 400.5h3" stroke="#555" stroke-width="1"/>
<text x="1335.8" y="404.2" font-size="10" fill="#111" font-weight="bold">1.00</text>
<path d="M1332.2 419.5h3" stroke="#555" stroke-width="1"/>
<text x="1335.8" y="423.1" font-size="10" fill="#111" font-weight="bold">0.00</text>
<path d="M1332.2 438.5h3" stroke="#555" stroke-width="1"/>
<text x="1335.8" y="442.4" font-size="10" fill="#111" font-weight="bold">-1.00</text>
<path d="M1332.2 458.5h3" stroke="#555" stroke-width="1"/>
<text x="1335.8" y="461.9" font-size="10" fill="#111" font-weight="bold">-2.00</text>
<path d="M1332.2 477.5h3" stroke="#555" stroke-width="1"/>
<text x="1335.8" y="481.4" font-size="10" fill="#111" font-weight="bold">-3.00</text>
<path d="M1332.2 496.5h3" stroke="#555" stroke-width="1"/>
<text x="1335.8" y="500.7" font-size="10" fill="#111" font-weight="bold">-4.00</text>
<path d="M1332.2 515.5h3" stroke="#555" stroke-width="1"/>
<text x="1335.8" y="519.5" font-size="10" fill="#111" font-weight="bold">-5.00</text>
<path d="M1332.2 552.5h3" stroke="#555" stroke-width="1"/>
<text x="1335.8" y="556.4" font-size="10" fill="#111" font-weight="bold">1.3000</text>
<path d="M1332.2 565.5h3" stroke="#555" stroke-width="1"/>
<text x="1335.8" y="569.4" font-size="10" fill="#111" font-weight="bold">0.9000</text>
<rect x="687.2" y="561.8" width="6.4" height="9.6" fill="#808080"/>
<rect x="698.22" y="561.8" width="6.4" height="9.6" fill="#808080"/>
<rect x="709.24" y="561.8" width="6.4" height="9.6" fill="#808080"/>
<rect x="720.26" y="561.8" width="6.4" height="9.6" fill="#808080"/>
<rect x="731.28" y="561.8" width="6.4" height="9.6" fill="#808080"/>
<rect x="742.3" y="561.8" width="6.4" height="9.6" fill="#808080"/>
<rect x="753.32" y="561.8" width="6.4" height="9.6" fill="#808080"/>
<rect x="764.34" y="561.8" width="6.4" height="9.6" fill="#808080"/>
<rect x="775.36" y="561.8" width="6.4" height="9.6" fill="#808080"/>
<rect x="786.38" y="561.8" width="6.4" height="9.6" fill="#808080"/>
<rect x="797.4" y="561.8" width="6.4" height="9.6" fill="#808080"/>
<rect x="808.42" y="561.8" width="6.4" height="9.6" fill="#808080"/>
<rect x="819.44" y="561.8" width="6.4" height="9.6" fill="#808080"/>
<rect x="830.46" y="561.8" width="6.4" height="9.6" fill="#808080"/>
<rect x="841.48" y="561.8" width="6.4" height="9.6" fill="#808080"/>
<rect x="852.5" y="561.8" width="6.4" height="9.6" fill="#808080"/>
<rect x="863.52" y="561.8" width="6.4" height="9.6" fill="#808080"/>
<rect x="874.54" y="561.8" width="6.4" height="9.6" fill="#808080"/>
<rect x="885.56" y="561.8" width="6.4" height="9.6" fill="#808080"/>
<rect x="896.58" y="561.8" width="6.4" height="9.6" fill="#808080"/>
<rect x="907.6" y="561.8" width="6.4" height="9.6" fill="#808080"/>
<rect x="918.62" y="561.8" width="6.4" height="9.6" fill="#808080"/>
<rect x="929.64" y="561.8" width="6.4" height="9.6" fill="#808080"/>
<rect x="940.66" y="561.8" width="6.4" height="9.6" fill="#808080"/>
<rect x="951.68" y="561.8" width="6.4" height="9.6" fill="#808080"/>
<rect x="962.7" y="561.8" width="6.4" height="9.6" fill="#808080"/>
<rect x="973.72" y="561.8" width="6.4" height="9.6" fill="#808080"/>
<rect x="984.74" y="561.8" width="6.4" height="9.6" fill="#808080"/>
<rect x="995.76" y="561.8" width="6.4" height="9.6" fill="#808080"/>
<rect x="1006.78" y="561.8" width="6.4" height="9.6" fill="#808080"/>
<rect x="1017.8" y="561.8" width="6.4" height="9.6" fill="#808080"/>
<rect x="1028.82" y="561.8" width="6.4" height="9.6" fill="#ff0000"/>
<rect x="1039.84" y="561.8" width="6.4" height="9.6" fill="#ff0000"/>
<rect x="1050.86" y="561.8" width="6.4" height="9.6" fill="#ff0000"/>
<rect x="1061.88" y="561.8" width="6.4" height="9.6" fill="#ff0000"/>
<rect x="1072.9" y="561.8" width="6.4" height="9.6" fill="#0080ff"/>
<rect x="1083.92" y="561.8" width="6.4" height="9.6" fill="#808080"/>
<rect x="1094.94" y="561.8" width="6.4" height="9.6" fill="#808080"/>
<rect x="1105.96" y="561.8" width="6.4" height="9.6" fill="#808080"/>
<rect x="1116.98" y="561.8" width="6.4" height="9.6" fill="#808080"/>
<rect x="1128" y="561.8" width="6.4" height="9.6" fill="#808080"/>
<rect x="1139.02" y="561.8" width="6.4" height="9.6" fill="#808080"/>
<rect x="1150.04" y="561.8" width="6.4" height="9.6" fill="#808080"/>
<rect x="1161.06" y="561.8" width="6.4" height="9.6" fill="#808080"/>
<rect x="1172.08" y="561.8" width="6.4" height="9.6" fill="#808080"/>
<rect x="1183.1" y="561.8" width="6.4" height="9.6" fill="#808080"/>
<rect x="1194.12" y="561.8" width="6.4" height="9.6" fill="#808080"/>
<rect x="1205.14" y="561.8" width="6.4" height="9.6" fill="#808080"/>
<rect x="1216.16" y="561.8" width="6.4" height="9.6" fill="#808080"/>
<rect x="1227.18" y="561.8" width="6.4" height="9.6" fill="#808080"/>
<rect x="1238.2" y="561.8" width="6.4" height="9.6" fill="#808080"/>
<rect x="1249.22" y="561.8" width="6.4" height="9.6" fill="#808080"/>
<rect x="1260.24" y="561.8" width="6.4" height="9.6" fill="#808080"/>
<rect x="1271.26" y="561.8" width="6.4" height="9.6" fill="#808080"/>
<rect x="1282.28" y="561.8" width="6.4" height="9.6" fill="#808080"/>
<rect x="1028.72" y="701" width="6.6" height="39.2" fill="#0080ff"/>
<rect x="1039.74" y="719.7" width="6.6" height="20.5" fill="#8e8e8e"/>
<rect x="1050.76" y="711" width="6.6" height="29.2" fill="#0080ff"/>
<rect x="1061.78" y="713.5" width="6.6" height="26.7" fill="#8e8e8e"/>
<rect x="1072.8" y="716.5" width="6.6" height="23.7" fill="#8e8e8e"/>
<rect x="1083.82" y="697.2" width="6.6" height="43" fill="#0080ff"/>
<rect x="1094.84" y="701.4" width="6.6" height="38.8" fill="#8e8e8e"/>
<rect x="1105.86" y="645.1" width="6.6" height="95.1" fill="#0080ff"/>
<rect x="1116.88" y="657.6" width="6.6" height="82.6" fill="#8e8e8e"/>
<rect x="1127.9" y="662.6" width="6.6" height="77.6" fill="#8e8e8e"/>
<rect x="1138.92" y="704.7" width="6.6" height="35.5" fill="#8e8e8e"/>
<rect x="1149.94" y="680.9" width="6.6" height="59.3" fill="#0080ff"/>
<rect x="1160.96" y="695.9" width="6.6" height="44.3" fill="#8e8e8e"/>
<rect x="1171.98" y="677.7" width="6.6" height="62.5" fill="#0080ff"/>
<rect x="1183" y="690.2" width="6.6" height="50" fill="#8e8e8e"/>
<rect x="1194.02" y="706" width="6.6" height="34.2" fill="#8e8e8e"/>
<rect x="1205.04" y="710.7" width="6.6" height="29.5" fill="#8e8e8e"/>
<rect x="1216.06" y="717" width="6.6" height="23.2" fill="#8e8e8e"/>
<rect x="1227.08" y="709" width="6.6" height="31.2" fill="#0080ff"/>
<rect x="1238.1" y="693.9" width="6.6" height="46.3" fill="#0080ff"/>
<rect x="1249.12" y="667.6" width="6.6" height="72.6" fill="#0080ff"/>
<rect x="1260.14" y="691.9" width="6.6" height="48.3" fill="#8e8e8e"/>
<rect x="1271.16" y="700.2" width="6.6" height="40" fill="#8e8e8e"/>
<rect x="1282.18" y="739.3" width="6.6" height="0.9" fill="#8e8e8e"/>
<polyline points="1025,707.7 1057.6,708.2 1087,706.5 1109,705.2 1131,703.2 1153,702 1175,702.2 1197,703.2 1219,703.2 1241,702 1263,701 1274,700.2 1285.5,702.2" fill="none" stroke="#ff2020" stroke-width="1.2" stroke-linejoin="round" />
<polyline points="1025,704 1032,705.2 1043,709 1054,711.5 1076,710.2 1087,707.2 1098,707.7 1109,699 1120,693.4 1131,687.7 1142,686.4 1153,682.2 1164,680.2 1175,677.7 1186,676.4 1197,684 1208,690.7 1219,697.2 1230,698.2 1241,699.4 1252,696.4 1263,698.2 1274,699.4 1285.5,703.2" fill="none" stroke="#222" stroke-width="1.2" stroke-linejoin="round" />
<path d="M1332.2 594.5h3" stroke="#555" stroke-width="1"/>
<text x="1335.8" y="598.5" font-size="10" fill="#111" font-weight="bold">1.60m</text>
<path d="M1332.2 616.5h3" stroke="#555" stroke-width="1"/>
<text x="1335.8" y="620" font-size="10" fill="#111" font-weight="bold">1.40m</text>
<path d="M1332.2 638.5h3" stroke="#555" stroke-width="1"/>
<text x="1335.8" y="641.8" font-size="10" fill="#111" font-weight="bold">1.20m</text>
<path d="M1332.2 659.5h3" stroke="#555" stroke-width="1"/>
<text x="1335.8" y="663.6" font-size="10" fill="#111" font-weight="bold">1.00m</text>
<path d="M1332.2 681.5h3" stroke="#555" stroke-width="1"/>
<text x="1335.8" y="685.1" font-size="10" fill="#111" font-weight="bold">0.80m</text>
<path d="M1332.2 725.5h3" stroke="#555" stroke-width="1"/>
<text x="1335.8" y="728.9" font-size="10" fill="#111" font-weight="bold">0.40m</text>
<path d="M1331.2 702.2L1334.6 696.6H1369.3V707.8H1334.6Z" fill="#ff0000"/>
<text x="1335.4" y="706.1" font-size="10" fill="#fff" font-weight="bold">0.61m</text>
<path d="M1331.2 740.2L1334.6 734.5H1369.3V745.9H1334.6Z" fill="#9a9a9a"/>
<text x="1335.4" y="744.1" font-size="10" fill="#fff" font-weight="bold">0.26m</text>
<path d="M1032.5 741v2.4" stroke="#555" stroke-width="1"/>
<text x="1032.02" y="754" font-size="10" fill="#111" font-weight="bold" text-anchor="middle">24</text>
<path d="M1087.5 741v2.4" stroke="#555" stroke-width="1"/>
<path d="M1098.5 741v2.4" stroke="#555" stroke-width="1"/>
<text x="1098.14" y="754" font-size="10" fill="#111" font-weight="bold" text-anchor="middle">Nov</text>
<path d="M1142.5 741v2.4" stroke="#555" stroke-width="1"/>
<text x="1142.22" y="754" font-size="10" fill="#111" font-weight="bold" text-anchor="middle">7</text>
<path d="M1197.5 741v2.4" stroke="#555" stroke-width="1"/>
<text x="1197.32" y="754" font-size="10" fill="#111" font-weight="bold" text-anchor="middle">14</text>
<path d="M1252.5 741v2.4" stroke="#555" stroke-width="1"/>
<text x="1252.42" y="754" font-size="10" fill="#111" font-weight="bold" text-anchor="middle">21</text>
<path d="M1296.5 741v2.4" stroke="#555" stroke-width="1"/>
<text x="1296.5" y="754" font-size="10" fill="#111" font-weight="bold" text-anchor="middle">28</text>
<rect x="346.2" y="333.6" width="678.9" height="424" fill="#1e212d"/>
<path d="M346.8 335.2h5.4l-1.8 2.8h-1.9z" fill="#1f9fe6"/><path d="M348.3 338.3h1.9l-1.2 3.4h-0.9z" fill="#25c0c8"/>
<text x="354.1" y="339.7" font-size="5.6" fill="#d8dce6" textLength="125.3" lengthAdjust="spacingAndGlyphs">TradeStation  - Securities (US) - Ian Murphy - eMini's</text>
<text x="349.6" y="351.4" font-size="5.6" fill="#c8ccd8" textLength="9.4" lengthAdjust="spacingAndGlyphs">FILE</text>
<text x="365.7" y="351.4" font-size="5.6" fill="#c8ccd8" textLength="10.9" lengthAdjust="spacingAndGlyphs">EDIT</text>
<text x="384.2" y="351.4" font-size="5.6" fill="#c8ccd8" textLength="12.3" lengthAdjust="spacingAndGlyphs">VIEW</text>
<text x="403.4" y="351.4" font-size="5.6" fill="#c8ccd8" textLength="23.3" lengthAdjust="spacingAndGlyphs">WINDOW</text>
<text x="433.5" y="351.4" font-size="5.6" fill="#c8ccd8" textLength="12.5" lengthAdjust="spacingAndGlyphs">HELP</text>
<path d="M980.4 340h3.2" stroke="#e8e8e8" stroke-width="1.1"/>
<rect x="997.8" y="337" width="3" height="2.8" fill="none" stroke="#e8e8e8" stroke-width="0.8"/><path d="M999 337v-1h3v2.8h-1" fill="none" stroke="#e8e8e8" stroke-width="0.7"/>
<path d="M1014.6 336.7l3.8 3.8m0 -3.8l-3.8 3.8" stroke="#fff" stroke-width="1.1"/>
<rect x="346.3" y="354.2" width="338.9" height="188.4" fill="#0a0b10"/>
<rect x="346.3" y="354.2" width="338.9" height="13.6" fill="#15171f"/>
<rect x="347.9" y="367.8" width="335.7" height="169" fill="#fff"/>
<g transform="translate(348.7 357.6) scale(0.47)">
<path d="M7.4 0v14.8M3.1 5.6v8.3M11 4.2v8.6" stroke="#1587d8" stroke-width="4.08" stroke-dasharray="3.4 0.9" fill="none"/>
<polyline points="0.3,10.2 4.4,7.4 6.8,9.6 14,4.2" fill="none" stroke="#2ec4a0" stroke-width="3.57"/>
</g>
<text x="358.7" y="363" font-size="5.7" fill="#e0e0e6" textLength="199" lengthAdjust="spacingAndGlyphs">Chart Analysis - @ES(D) 30 min [CME] E-mini S&amp;P 500 Continuous Contract [Dec22]</text>
<rect x="604.4" y="357.6" width="10.4" height="7" rx="1" fill="#9a9ea4" stroke="#c8c8c8" stroke-width="0.4"/>
<text x="606.8" y="363" font-size="5" fill="#e8e8e8" font-weight="bold">S</text>
<rect x="617.6" y="357.6" width="10.2" height="7" rx="1" fill="#22e6ee" stroke="#9af4f8" stroke-width="0.4"/>
<text x="620.8" y="363" font-size="5" fill="#083c50" font-weight="bold">I</text>
<path d="M638.4 363.6h3" stroke="#f0f0f0" stroke-width="1"/>
<rect x="655.2" y="359.8" width="3.6" height="3.4" fill="none" stroke="#f0f0f0" stroke-width="0.9"/>
<path d="M672.8 360l3.4 3.4m0 -3.4l-3.4 3.4" stroke="#f0f0f0" stroke-width="0.9"/>
<path d="M348.75 376.8V529M359.6 376.8V529M370.46 376.8V529M381.31 376.8V529M392.17 376.8V529M403.02 376.8V529M413.87 376.8V529M424.73 376.8V529M435.58 376.8V529M446.44 376.8V529M457.29 376.8V529M468.14 376.8V529M479 376.8V529M489.85 376.8V529M500.71 376.8V529M511.56 376.8V529M522.41 376.8V529M533.27 376.8V529M544.12 376.8V529M554.98 376.8V529M565.83 376.8V529M576.68 376.8V529M587.54 376.8V529M598.39 376.8V529M609.25 376.8V529M620.1 376.8V529M630.95 376.8V529M641.81 376.8V529M652.66 376.8V529M347.9 375.9H659.6M347.9 388.1H659.6M347.9 400.5H659.6M347.9 412.6H659.6M347.9 425H659.6M347.9 437.3H659.6M347.9 449.5H659.6M347.9 461.7H659.6M347.9 474H659.6M347.9 486.2H659.6M347.9 498.6H659.6M347.9 523H659.6" stroke="#f0f0f0" stroke-width="0.6" fill="none"/>
<path d="M500.71 375.8V532" stroke="#8a8a8a" stroke-width="0.7" stroke-dasharray="1 0.8"/>
<path d="M659.6 367.8V529" stroke="#9a9a9a" stroke-width="0.8" stroke-dasharray="1 0.5"/>
<path d="M347.9 529H659.6" stroke="#9a9a9a" stroke-width="0.8"/>
<text x="348.8" y="372.9" font-size="5.1" fill="#111" font-weight="bold" textLength="106" lengthAdjust="spacingAndGlyphs">E-mini S&amp;P 500 Continuous Contract [Dec22]</text>
<text x="457.8" y="372.9" font-size="5.1" fill="#ff2020" font-weight="bold">-0.92%</text>
<polyline points="348.75,380.4 364.78,382.27 370.41,381.84 381.05,381.02 386.69,380.38 392.07,379.76 402.96,378.52 413.6,378.32 429.88,378.01 436.14,377.89 441.14,378.27 452.41,379.14 462.42,376.02 478.7,374.14 494.97,374.14 499.36,374.14 500.48,373.57 516.2,385.65 530.76,398.75 545.31,410.4 558.41,419.86 571.51,429.32 578.79,432.96 591.89,437.03 598.44,434.12 600.63,434.09 607.9,433.98 609.36,434.94 615.18,438.78 618.09,439.61 629.74,442.94 635.56,444.6 636.29,444.81" fill="none" stroke="#cdd1d9" stroke-width="0.55" stroke-dasharray="none"/>
<polyline points="348.75,386.78 364.78,388.32 370.41,387.91 381.05,387.31 386.69,386.85 392.07,386.53 402.96,386.45 413.6,386.73 429.88,386.86 436.14,387.17 441.14,387.75 452.41,389.99 462.42,388.2 478.7,387.49 494.97,387.99 499.36,388.79 500.48,388.61 516.2,400.45 530.76,413.55 545.31,424.71 558.41,433.35 571.51,442.18 578.79,445.48 591.89,448.77 598.44,447.02 600.63,447.06 607.9,447.42 609.36,448.15 615.18,451.84 618.09,452.96 629.74,456.64 635.56,458.69 636.29,458.95" fill="none" stroke="#cdd1d9" stroke-width="0.55" stroke-dasharray="none"/>
<polyline points="348.75,393.17 364.78,394.38 370.41,393.98 381.05,393.6 386.69,393.33 392.07,393.29 402.96,394.37 413.6,395.15 429.88,395.71 436.14,396.46 441.14,397.22 452.41,400.84 462.42,400.39 478.7,400.85 494.97,401.85 499.36,403.43 500.48,403.65 516.2,415.25 530.76,428.35 545.31,439.03 558.41,446.83 571.51,455.03 578.79,457.99 591.89,460.52 598.44,459.91 600.63,460.02 607.9,460.86 609.36,461.36 615.18,464.91 618.09,466.32 629.74,470.33 635.56,472.79 636.29,473.1" fill="none" stroke="#cdd1d9" stroke-width="0.55" stroke-dasharray="none"/>
<polyline points="348.75,405.93 364.78,406.48 370.41,406.12 381.05,406.18 386.69,406.27 392.07,406.81 402.96,410.23 413.6,411.97 429.88,413.41 436.14,415.03 441.14,416.16 452.41,422.54 462.42,424.75 478.7,427.55 494.97,429.55 499.36,432.73 500.48,433.73 516.2,444.85 530.76,457.95 545.31,467.65 558.41,473.81 571.51,480.75 578.79,483.03 591.89,484 598.44,485.7 600.63,485.96 607.9,487.75 609.36,487.78 615.18,491.03 618.09,493.02 629.74,497.73 635.56,500.98 636.29,501.38" fill="none" stroke="#cdd1d9" stroke-width="0.55" stroke-dasharray="none"/>
<polyline points="348.75,412.32 364.78,412.54 370.41,412.19 381.05,412.46 386.69,412.75 392.07,413.57 402.96,418.15 413.6,420.39 429.88,422.26 436.14,424.31 441.14,425.63 452.41,433.39 462.42,436.94 478.7,440.91 494.97,443.41 499.36,447.38 500.48,448.77 516.2,459.65 530.76,472.75 545.31,481.97 558.41,487.29 571.51,493.6 578.79,495.54 591.89,495.75 598.44,498.6 600.63,498.92 607.9,501.19 609.36,500.99 615.18,504.1 618.09,506.38 629.74,511.42 635.56,515.07 636.29,515.53" fill="none" stroke="#cdd1d9" stroke-width="0.55" stroke-dasharray="none"/>
<polyline points="348.75,418.7 364.78,418.59 370.41,418.26 381.05,418.75 386.69,419.22 392.07,420.34 402.96,426.08 413.6,428.8 429.88,431.11 436.14,433.6 441.14,435.11 452.41,444.24 462.42,449.12 478.7,454.26 494.97,457.26 499.36,462.02 500.48,463.81 516.2,474.45 530.76,487.55 545.31,496.28 558.41,500.78 571.51,506.46 578.79,508.06 591.89,507.49 598.44,511.49 600.63,511.89 607.9,514.63 609.36,514.2 615.18,517.16 618.09,519.73 629.74,525.12 635.56,529.16 636.29,529.67" fill="none" stroke="#cdd1d9" stroke-width="0.55" stroke-dasharray="none"/>
<polyline points="348.75,399.55 350.61,399.66 353.29,399.82 356.41,400.01 359.61,400.2 362.52,400.35 364.78,400.43 367.58,400.31 370,400.09" fill="none" stroke="#ff3a48" stroke-width="1.15" stroke-linejoin="round" stroke-linecap="round"/>
<polyline points="370,400.09 370.41,400.05 372.63,400 375.45,399.94 378.57,399.89 381.68,399.84 384.48,399.81 386.69,399.8 387,399.8" fill="none" stroke="#38f048" stroke-width="1.15" stroke-linejoin="round" stroke-linecap="round"/>
<polyline points="387,399.8 389.72,399.77 392.07,400.05 394.41,400.5 397.19,401.11 400.13,401.76 402.96,402.3 405.51,402.69 407.94,403.01 410.55,403.29 413.6,403.56 416.05,403.73 418.79,403.87 421.7,404.01 424.62,404.15 427.39,404.33 429.88,404.56 433.05,404.95 435.82,405.38 438.44,405.93 441.14,406.69 443.99,407.83 446.85,409.27 449.68,410.66 452.41,411.69 454.85,412.18 457.1,412.34 459.51,412.39 462.42,412.57 464.77,412.8 467.38,413.06 470.17,413.35 473.04,413.64 475.91,413.93 478.7,414.2 481.54,414.44 484.52,414.65 487.51,414.86 490.34,415.09 492.88,415.37 494.97,415.7 497.76,416.58 500.48,418.69 502.52,420.08 505.01,421.79 507.77,423.74 510.67,425.82 513.53,427.96 516.2,430.05 519.19,432.61 522.11,435.3 524.99,438.04 527.87,440.69 530.76,443.15 533.69,445.43 536.65,447.59 539.59,449.63 542.49,451.55 545.31,453.34 548.02,454.93 550.65,456.33 553.24,457.64 555.81,458.94 558.41,460.32 561.12,461.88 563.93,463.54 566.69,465.19 569.26,466.68 571.51,467.89 574.15,469.16 576.15,469.88 578.79,470.51 581.11,470.93 583.82,471.32 586.68,471.68 589.46,471.99 591.89,472.26 595.13,472.55 597.88,472.72 600.63,472.99 603.54,473.32 606.45,473.75 609.36,474.57 612.16,476.04 614.96,477.89 618.09,479.67 620.92,480.84 624.05,481.97 627.12,483.04 629.74,484.03 632.54,485.3 634.78,486.45 636.29,487.24" fill="none" stroke="#ff3a48" stroke-width="1.15" stroke-linejoin="round" stroke-linecap="round"/>
<path d="M348.75 397.62V400.73M348.75 399.17H351.35M354.18 395.49V403.86M351.58 399.17H354.18M354.18 402.93H356.78M359.6 397.62V403.86M357 399.8H359.6M359.6 402.3H362.2M365.03 398.87V406.36M362.43 401.05H365.03M365.03 404.18H367.63M370.46 395.75V405.11M367.86 404.18H370.46M370.46 397.05H373.06M375.88 391.99V403.23M373.28 397.3H375.88M375.88 394.79H378.49M381.31 391.36V403.86M378.71 394.17H381.31M381.31 402.93H383.91M386.74 391.99V406.99M384.14 402.93H386.74M386.74 399.8H389.34M392.17 395.75V413.25M389.57 399.8H392.17M392.17 406.06H394.77M397.59 401.38V412.37M394.99 406.06H397.59M397.59 409.19H400.19M403.02 398.25V425.14M400.42 409.19H403.02M403.02 419.2H405.62M408.45 409.27V426.39M405.85 419.83H408.45M408.45 410.07H411.05M413.87 403.26V414.5M411.27 410.07H413.87M413.87 409.19H416.47M419.3 403.88V413.25M416.7 408.56H419.3M419.3 405.43H421.9M424.73 403.26V417M422.13 405.43H424.73M424.73 413.57H427.33M430.15 402V415.75M427.55 413.57H430.15M430.15 406.06H432.75M435.58 402.63V413.87M432.98 405.81H435.58M435.58 409.82H438.18M441.01 408.89V421.38M438.41 409.82H441.01M441.01 419.83H443.61M446.44 418.53V431.77M443.84 419.83H446.44M446.44 427.97H449.04M451.86 425.54V444.54M449.26 428.22H451.86M451.86 435.1H454.46M457.29 416.4V443.29M454.69 434.85H457.29M457.29 419.83H459.89M462.72 409.77V424.51M460.12 419.58H462.72M462.72 417.95H465.32M468.14 412.27V423.89M465.54 417.95H468.14M468.14 413.57H470.74M473.57 407.64V427.02M470.97 413.57H473.57M473.57 423.59H476.17M479 414.52V431.77M476.4 423.59H479M479 418.58H481.6M484.42 414.52V426.39M481.82 418.58H484.42M484.42 416.7H487.02M489.85 415.78V435.4M487.25 416.7H489.85M489.85 424.21H492.45M495.28 419.28V428.27M492.68 423.84H495.28M495.28 420.46H497.88M500.71 445.16V463.23M498.11 454.92H500.71M500.71 451.28H503.31M506.13 450.26V466.14M503.53 451.28H506.13M506.13 465.11H508.73M511.56 459.72V471.96M508.96 465.11H511.56M511.56 467.3H514.16M516.99 463.36V476.33M514.39 467.3H516.99M516.99 471.66H519.59M522.41 471.36V487.97M519.81 472.1H522.41M522.41 486.95H525.01M527.84 484.9V496.27M525.24 486.95H527.84M527.84 492.04H530.44M533.27 486.65V501.51M530.67 492.04H533.27M533.27 490.59H535.87M538.69 483.01V491.61M536.09 490.59H538.69M538.69 484.76H541.29M544.12 483.73V492.78M541.52 484.76H544.12M544.12 487.67H546.72M549.55 485.48V490.45M546.95 487.67H549.55M549.55 489.13H552.15M554.98 485.48V490.45M552.38 489.13H554.98M554.98 486.95H557.58M560.4 485.48V489.43M557.8 486.95H560.4M560.4 487.67H563M565.83 486.94V502.53M563.23 487.67H565.83M565.83 501.5H568.43M571.26 494.65V511.26M568.66 501.5H571.26M571.26 498.3H573.86M576.68 489.85V500.35M574.08 498.3H576.68M576.68 492.77H579.28M582.11 483.01V494.23M579.51 492.77H582.11M582.11 484.03H584.71M587.54 473.25V490.45M584.94 484.03H587.54M587.54 478.21H590.14M592.96 474.27V486.52M590.36 478.21H592.96M592.96 485.2H595.56M598.39 458.26V487.25M595.79 485.2H598.39M598.39 460.75H600.99M603.82 459.72V482.15M601.22 461.04H603.82M603.82 479.38H606.42M609.25 473.84V492.34M606.65 479.38H609.25M609.25 491.02H611.85M614.67 485.92V522.18M612.07 491.02H614.67M614.67 518.24H617.27M620.1 501.93V524.36M617.5 518.24H620.1M620.1 503.25H622.7M625.53 498.29V512.28M622.93 503.25H625.53M625.53 504.41H628.13M630.95 492.18V511.99M628.35 504.41H630.95M630.95 500.05H633.55M636.38 496.84V513.74M633.78 500.05H636.38M636.38 511.4H638.98" stroke="#300" stroke-opacity="0.45" stroke-width="2.1" fill="none"/>
<path d="M348.75 397.92V400.43M348.75 399.17H351.05M370.46 396.05V404.81M368.16 404.18H370.46M370.46 397.05H372.76M375.88 392.29V402.93M373.58 397.3H375.88M375.88 394.79H378.19M386.74 392.29V406.69M384.44 402.93H386.74M386.74 399.8H389.04M419.3 404.18V412.95M417 408.56H419.3M419.3 405.43H421.6M430.15 402.3V415.45M427.85 413.57H430.15M430.15 406.06H432.45M457.29 416.7V442.99M454.99 434.85H457.29M457.29 419.83H459.59M462.72 410.07V424.21M460.42 419.58H462.72M462.72 417.95H465.02M468.14 412.57V423.59M465.84 417.95H468.14M468.14 413.57H470.44M479 414.82V431.47M476.7 423.59H479M479 418.58H481.3M484.42 414.82V426.09M482.12 418.58H484.42M484.42 416.7H486.72M582.11 483.31V493.93M579.81 492.77H582.11M582.11 484.03H584.41M587.54 473.55V490.15M585.24 484.03H587.54M587.54 478.21H589.84M592.96 474.57V486.22M590.66 478.21H592.96M592.96 485.2H595.26M598.39 458.56V486.95M596.09 485.2H598.39M598.39 460.75H600.69" stroke="#14d014" stroke-width="1.45" fill="none"/>
<path d="M354.18 395.79V403.56M351.88 399.17H354.18M354.18 402.93H356.48M359.6 397.92V403.56M357.3 399.8H359.6M359.6 402.3H361.9M365.03 399.17V406.06M362.73 401.05H365.03M365.03 404.18H367.33M381.31 391.66V403.56M379.01 394.17H381.31M381.31 402.93H383.61M392.17 396.05V412.95M389.87 399.8H392.17M392.17 406.06H394.47M397.59 401.68V412.07M395.29 406.06H397.59M397.59 409.19H399.89M403.02 398.55V424.84M400.72 409.19H403.02M403.02 419.2H405.32M424.73 403.56V416.7M422.43 405.43H424.73M424.73 413.57H427.03M441.01 409.19V421.08M438.71 409.82H441.01M441.01 419.83H443.31M446.44 418.83V431.47M444.14 419.83H446.44M446.44 427.97H448.74M451.86 425.84V444.24M449.56 428.22H451.86M451.86 435.1H454.16M473.57 407.94V426.72M471.27 413.57H473.57M473.57 423.59H475.87M489.85 416.08V435.1M487.55 416.7H489.85M489.85 424.21H492.15M500.71 445.46V462.93M498.41 454.92H500.71M500.71 451.28H503.01M506.13 450.56V465.84M503.83 451.28H506.13M506.13 465.11H508.43M511.56 460.02V471.66M509.26 465.11H511.56M511.56 467.3H513.86M516.99 463.66V476.03M514.69 467.3H516.99M516.99 471.66H519.29M522.41 471.66V487.67M520.11 472.1H522.41M522.41 486.95H524.71M527.84 485.2V495.97M525.54 486.95H527.84M527.84 492.04H530.14M565.83 487.24V502.23M563.53 487.67H565.83M565.83 501.5H568.13M609.25 474.14V492.04M606.95 479.38H609.25M609.25 491.02H611.55M614.67 486.22V521.88M612.37 491.02H614.67M614.67 518.24H616.97M620.1 502.23V524.06M617.8 518.24H620.1M620.1 503.25H622.4M625.53 498.59V511.98M623.23 503.25H625.53M625.53 504.41H627.83M636.38 497.14V513.44M634.08 500.05H636.38M636.38 511.4H638.68" stroke="#e41212" stroke-width="1.45" fill="none"/>
<path d="M408.45 409.57V426.09M406.15 419.83H408.45M408.45 410.07H410.75M413.87 403.56V414.2M411.57 410.07H413.87M413.87 409.19H416.17M435.58 402.93V413.57M433.28 405.81H435.58M435.58 409.82H437.88M495.28 419.58V427.97M492.98 423.84H495.28M495.28 420.46H497.58M533.27 486.95V501.21M530.97 492.04H533.27M533.27 490.59H535.57M538.69 483.31V491.31M536.39 490.59H538.69M538.69 484.76H540.99M544.12 484.03V492.48M541.82 484.76H544.12M544.12 487.67H546.42M549.55 485.78V490.15M547.25 487.67H549.55M549.55 489.13H551.85M554.98 485.78V490.15M552.68 489.13H554.98M554.98 486.95H557.28M560.4 485.78V489.13M558.1 486.95H560.4M560.4 487.67H562.7M571.26 494.95V510.96M568.96 501.5H571.26M571.26 498.3H573.56M576.68 490.15V500.05M574.38 498.3H576.68M576.68 492.77H578.98M603.82 460.02V481.85M601.52 461.04H603.82M603.82 479.38H606.12M630.95 492.48V511.69M628.65 504.41H630.95M630.95 500.05H633.25" stroke="#187ce6" stroke-width="1.45" fill="none"/>
<path d="M659.6 375.9h1.4" stroke="#555" stroke-width="0.6"/>
<text x="661.6" y="377.6" font-size="4.9" fill="#222" font-weight="bold">4,052.50</text>
<path d="M659.6 388.1h1.4" stroke="#555" stroke-width="0.6"/>
<text x="661.6" y="389.8" font-size="4.9" fill="#222" font-weight="bold">4,047.50</text>
<path d="M659.6 400.5h1.4" stroke="#555" stroke-width="0.6"/>
<text x="661.6" y="402.2" font-size="4.9" fill="#222" font-weight="bold">4,042.50</text>
<path d="M659.6 412.6h1.4" stroke="#555" stroke-width="0.6"/>
<text x="661.6" y="414.3" font-size="4.9" fill="#222" font-weight="bold">4,037.50</text>
<path d="M659.6 425h1.4" stroke="#555" stroke-width="0.6"/>
<text x="661.6" y="426.7" font-size="4.9" fill="#222" font-weight="bold">4,032.50</text>
<path d="M659.6 437.3h1.4" stroke="#555" stroke-width="0.6"/>
<text x="661.6" y="439" font-size="4.9" fill="#222" font-weight="bold">4,027.50</text>
<path d="M659.6 449.5h1.4" stroke="#555" stroke-width="0.6"/>
<text x="661.6" y="451.2" font-size="4.9" fill="#222" font-weight="bold">4,022.50</text>
<path d="M659.6 461.7h1.4" stroke="#555" stroke-width="0.6"/>
<text x="661.6" y="463.4" font-size="4.9" fill="#222" font-weight="bold">4,017.50</text>
<path d="M659.6 474h1.4" stroke="#555" stroke-width="0.6"/>
<text x="661.6" y="475.7" font-size="4.9" fill="#222" font-weight="bold">4,012.50</text>
<path d="M659.6 486.2h1.4" stroke="#555" stroke-width="0.6"/>
<text x="661.6" y="487.9" font-size="4.9" fill="#222" font-weight="bold">4,007.50</text>
<path d="M659.6 498.6h1.4" stroke="#555" stroke-width="0.6"/>
<text x="661.6" y="500.3" font-size="4.9" fill="#222" font-weight="bold">4,002.50</text>
<path d="M659.6 523h1.4" stroke="#555" stroke-width="0.6"/>
<text x="661.6" y="524.7" font-size="4.9" fill="#222" font-weight="bold">3,992.50</text>
<rect x="660.2" y="509.4" width="22.8" height="5" rx="2" fill="#111"/>
<text x="661.6" y="513.6" font-size="4.9" fill="#fff" font-weight="bold">3,997.25</text>
<path d="M359.6 529v1.2" stroke="#666" stroke-width="0.6"/>
<text x="359.6" y="535.6" font-size="4.6" fill="#222" font-weight="bold" text-anchor="middle">01:00</text>
<path d="M381.31 529v1.2" stroke="#666" stroke-width="0.6"/>
<text x="381.31" y="535.6" font-size="4.6" fill="#222" font-weight="bold" text-anchor="middle">03:00</text>
<path d="M403.02 529v1.2" stroke="#666" stroke-width="0.6"/>
<text x="403.02" y="535.6" font-size="4.6" fill="#222" font-weight="bold" text-anchor="middle">05:00</text>
<path d="M424.73 529v1.2" stroke="#666" stroke-width="0.6"/>
<text x="424.73" y="535.6" font-size="4.6" fill="#222" font-weight="bold" text-anchor="middle">07:00</text>
<path d="M446.44 529v1.2" stroke="#666" stroke-width="0.6"/>
<text x="446.44" y="535.6" font-size="4.6" fill="#222" font-weight="bold" text-anchor="middle">09:00</text>
<path d="M468.14 529v1.2" stroke="#666" stroke-width="0.6"/>
<text x="468.14" y="535.6" font-size="4.6" fill="#222" font-weight="bold" text-anchor="middle">11:00</text>
<path d="M500.71 529v1.2" stroke="#666" stroke-width="0.6"/>
<text x="500.71" y="535.6" font-size="4.6" fill="#222" font-weight="bold" text-anchor="middle">11/27</text>
<path d="M516.99 529v1.2" stroke="#666" stroke-width="0.6"/>
<text x="516.99" y="535.6" font-size="4.6" fill="#222" font-weight="bold" text-anchor="middle">20:00</text>
<path d="M538.69 529v1.2" stroke="#666" stroke-width="0.6"/>
<text x="538.69" y="535.6" font-size="4.6" fill="#222" font-weight="bold" text-anchor="middle">22:00</text>
<path d="M560.4 529v1.2" stroke="#666" stroke-width="0.6"/>
<text x="560.4" y="535.6" font-size="4.6" fill="#222" font-weight="bold" text-anchor="middle">11/28</text>
<path d="M582.11 529v1.2" stroke="#666" stroke-width="0.6"/>
<text x="582.11" y="535.6" font-size="4.6" fill="#222" font-weight="bold" text-anchor="middle">02:00</text>
<path d="M603.82 529v1.2" stroke="#666" stroke-width="0.6"/>
<text x="603.82" y="535.6" font-size="4.6" fill="#222" font-weight="bold" text-anchor="middle">04:00</text>
<path d="M625.53 529v1.2" stroke="#666" stroke-width="0.6"/>
<text x="625.53" y="535.6" font-size="4.6" fill="#222" font-weight="bold" text-anchor="middle">06:00</text>
<path d="M647.23 529v1.2" stroke="#666" stroke-width="0.6"/>
<text x="647.23" y="535.6" font-size="4.6" fill="#222" font-weight="bold" text-anchor="middle">08:00</text>
<rect x="346.3" y="536.8" width="338.9" height="4.6" fill="#4f5b78"/>
<rect x="347.9" y="537.4" width="3.6" height="3.4" fill="#93a4c4"/>
<rect x="672.1" y="537.2" width="10.5" height="3.8" fill="#a6b4cc"/>
<rect x="685" y="354.4" width="340" height="188.2" fill="#0a0b10"/>
<rect x="685" y="354.4" width="340" height="13.8" fill="#000"/>
<rect x="686.6" y="368.2" width="336.8" height="168.6" fill="#fff"/>
<g transform="translate(687.4 357.9) scale(0.47)">
<path d="M7.4 0v14.8M3.1 5.6v8.3M11 4.2v8.6" stroke="#1587d8" stroke-width="4.08" stroke-dasharray="3.4 0.9" fill="none"/>
<polyline points="0.3,10.2 4.4,7.4 6.8,9.6 14,4.2" fill="none" stroke="#2ec4a0" stroke-width="3.57"/>
</g>
<text x="697.4" y="363.3" font-size="5.7" fill="#c8c8d0" textLength="214" lengthAdjust="spacingAndGlyphs">Chart Analysis - @NQ(D) 30 min [CME] E-Mini NASDAQ-100 Continuous Contract [Dec22]</text>
<rect x="944.2" y="357.9" width="10.4" height="7" rx="1" fill="#9a9ea4" stroke="#c8c8c8" stroke-width="0.4"/>
<text x="946.6" y="363.3" font-size="5" fill="#e8e8e8" font-weight="bold">S</text>
<rect x="957.4" y="357.9" width="10.2" height="7" rx="1" fill="#22e6ee" stroke="#9af4f8" stroke-width="0.4"/>
<text x="960.6" y="363.3" font-size="5" fill="#083c50" font-weight="bold">I</text>
<path d="M978.2 363.9h3" stroke="#4a4a4a" stroke-width="1"/>
<rect x="995" y="360.1" width="3.6" height="3.4" fill="none" stroke="#4a4a4a" stroke-width="0.9"/>
<path d="M1012.6 360.3l3.4 3.4m0 -3.4l-3.4 3.4" stroke="#4a4a4a" stroke-width="0.9"/>
<path d="M688.5 377.2V529.2M699.35 377.2V529.2M710.21 377.2V529.2M721.06 377.2V529.2M731.92 377.2V529.2M742.77 377.2V529.2M753.62 377.2V529.2M764.48 377.2V529.2M775.33 377.2V529.2M786.19 377.2V529.2M797.04 377.2V529.2M807.89 377.2V529.2M818.75 377.2V529.2M829.6 377.2V529.2M840.46 377.2V529.2M851.31 377.2V529.2M862.16 377.2V529.2M873.02 377.2V529.2M883.87 377.2V529.2M894.73 377.2V529.2M905.58 377.2V529.2M916.43 377.2V529.2M927.29 377.2V529.2M938.14 377.2V529.2M949 377.2V529.2M959.85 377.2V529.2M970.7 377.2V529.2M981.56 377.2V529.2M992.41 377.2V529.2M686.6 381H1003.9M686.6 391.1H1003.9M686.6 401.1H1003.9M686.6 411.1H1003.9M686.6 421H1003.9M686.6 431.1H1003.9M686.6 441.1H1003.9M686.6 451H1003.9M686.6 461H1003.9M686.6 470.9H1003.9M686.6 480.8H1003.9M686.6 491H1003.9M686.6 500.9H1003.9M686.6 520.7H1003.9" stroke="#f0f0f0" stroke-width="0.6" fill="none"/>
<path d="M845.88 376.2V532.2" stroke="#8a8a8a" stroke-width="0.7" stroke-dasharray="1 0.8"/>
<path d="M1003.9 368.2V529.2" stroke="#9a9a9a" stroke-width="0.8" stroke-dasharray="1 0.5"/>
<path d="M686.6 529.2H1003.9" stroke="#9a9a9a" stroke-width="0.8"/>
<text x="687.5" y="373.3" font-size="5.1" fill="#111" font-weight="bold" textLength="117.3" lengthAdjust="spacingAndGlyphs">E-Mini NASDAQ-100 Continuous Contract [Dec22]</text>
<text x="807.8" y="373.3" font-size="5.1" fill="#ff2020" font-weight="bold">-0.97%</text>
<polyline points="688.44,373.4 698.2,373.87 698.92,373.9 716.39,374.73 728.03,375.29 738.22,376.79 752.78,378.93 767.34,381.48 781.89,384.02 790.63,385.77 803.73,388.39 818.28,390.82 825.56,392.03 832.84,393.43 840.12,394.83 844.48,395.67 845.94,395.83 846.01,395.84 856.2,402.39 859.11,405.3 870.76,416.95 873.67,419.13 888.22,430.05 902.78,441.69 917.34,451.4 920.25,453.34 928.98,456.83 937.71,460.32 944.99,457.7 949.36,458.06 953.73,458.43 958.09,460.61 961,462.07 969.74,463.94 981.38,466.44" fill="none" stroke="#cdd1d9" stroke-width="0.55" stroke-dasharray="none"/>
<polyline points="688.44,378.78 698.2,379.09 698.92,379.31 716.39,380.16 728.03,380.63 738.22,382.6 752.78,385.58 767.34,388.63 781.89,391.78 790.63,393.92 803.73,398.09 818.28,401.89 825.56,403.67 832.84,405.58 840.12,407.24 844.48,408.71 845.94,409.12 846.01,409.15 856.2,416.41 859.11,419.17 870.76,430.24 873.67,432.52 888.22,442.71 902.78,452.89 917.34,462.04 920.25,463.66 928.98,466.97 937.71,469.92 944.99,468.27 949.36,468.57 953.73,469.34 958.09,471.33 961,472.55 969.74,474.52 981.38,476.77" fill="none" stroke="#cdd1d9" stroke-width="0.55" stroke-dasharray="none"/>
<polyline points="688.44,384.17 698.2,384.32 698.92,384.73 716.39,385.58 728.03,385.96 738.22,388.4 752.78,392.22 767.34,395.79 781.89,399.55 790.63,402.07 803.73,407.8 818.28,412.97 825.56,415.32 832.84,417.72 840.12,419.65 844.48,421.75 845.94,422.41 846.01,422.45 856.2,430.42 859.11,433.05 870.76,443.53 873.67,445.9 888.22,455.36 902.78,464.1 917.34,472.67 920.25,473.98 928.98,477.1 937.71,479.53 944.99,478.84 949.36,479.07 953.73,480.26 958.09,482.05 961,483.02 969.74,485.1 981.38,487.1" fill="none" stroke="#cdd1d9" stroke-width="0.55" stroke-dasharray="none"/>
<polyline points="688.44,394.93 698.2,394.78 698.92,395.55 716.39,396.44 728.03,396.64 738.22,400.02 752.78,405.52 767.34,410.11 781.89,415.07 790.63,418.37 803.73,427.2 818.28,435.13 825.56,438.6 832.84,442.02 840.12,444.47 844.48,447.83 845.94,448.99 846.01,449.07 856.2,458.46 859.11,460.79 870.76,470.11 873.67,472.68 888.22,480.68 902.78,486.5 917.34,493.95 920.25,494.61 928.98,497.38 937.71,498.73 944.99,499.97 949.36,500.07 953.73,502.09 958.09,503.49 961,503.97 969.74,506.26 981.38,507.76" fill="none" stroke="#cdd1d9" stroke-width="0.55" stroke-dasharray="none"/>
<polyline points="688.44,400.32 698.2,400.01 698.92,400.97 716.39,401.86 728.03,401.97 738.22,405.82 752.78,412.16 767.34,417.27 781.89,422.84 790.63,426.52 803.73,436.91 818.28,446.21 825.56,450.25 832.84,454.16 840.12,456.88 844.48,460.86 845.94,462.28 846.01,462.37 856.2,472.47 859.11,474.67 870.76,483.4 873.67,486.06 888.22,493.33 902.78,497.71 917.34,504.58 920.25,504.93 928.98,507.51 937.71,508.34 944.99,510.54 949.36,510.57 953.73,513 958.09,514.21 961,514.45 969.74,516.84 981.38,518.09" fill="none" stroke="#cdd1d9" stroke-width="0.55" stroke-dasharray="none"/>
<polyline points="688.44,405.7 698.2,405.23 698.92,406.38 716.39,407.29 728.03,407.31 738.22,411.63 752.78,418.81 767.34,424.42 781.89,430.6 790.63,434.67 803.73,446.61 818.28,457.28 825.56,461.89 832.84,466.31 840.12,469.29 844.48,473.9 845.94,475.57 846.01,475.68 856.2,486.49 859.11,488.54 870.76,496.69 873.67,499.45 888.22,505.99 902.78,508.91 917.34,515.22 920.25,515.25 928.98,517.65 937.71,517.94 944.99,521.11 949.36,521.08 953.73,523.91 958.09,524.93 961,524.92 969.74,527.42 981.38,528.42" fill="none" stroke="#cdd1d9" stroke-width="0.55" stroke-dasharray="none"/>
<polyline points="688.44,389.55 690.41,389.54 693.28,389.51 696.17,389.51 698.2,389.55 698.5,389.8" fill="none" stroke="#38f048" stroke-width="1.15" stroke-linejoin="round" stroke-linecap="round"/>
<polyline points="698.5,389.8 698.92,390.14 700.93,390.28 703.72,390.43 706.97,390.59 710.38,390.75 713.62,390.9 716.39,391.01 719.74,391.06 722.66,391.03 725.36,391.06 728.03,391.3 730.58,391.8 732.94,392.48 735.4,393.3 738.22,394.21 740.85,395.04 743.73,395.98 746.75,396.96 749.8,397.95 752.78,398.87 755.69,399.72 758.6,400.53 761.52,401.33 764.43,402.13 767.34,402.95 770.34,403.83 773.44,404.74 776.49,405.66 779.35,406.53 781.89,407.31 785.07,408.23 787.61,408.98 790.63,410.22 792.95,411.41 795.49,412.85 798.18,414.43 800.95,416.02 803.73,417.5 806.55,418.87 809.45,420.21 812.39,421.52 815.35,422.8 818.28,424.05 821.31,425.32 824.45,426.6 827.54,427.84 830.39,428.95 832.84,429.87 835.86,430.82 838.07,431.36 840.12,432.06 842.66,433.32 845.94,435.7 848.08,437.44 850.61,439.59 853.39,441.99 856.27,444.48 859.11,446.92 861.93,449.38 864.83,451.96 867.78,454.55 870.74,457.03 873.67,459.29 876.58,461.29 879.49,463.11 882.4,464.81 885.31,466.43 888.22,468.02 891.13,469.56 894.04,471 896.96,472.41 899.87,473.82 902.78,475.3 905.74,476.92 908.74,478.65 911.73,480.36 914.61,481.96 917.34,483.31 920.52,484.63 923.52,485.66 926.34,486.5 928.98,487.24 932,488.07 934.69,488.68 937.71,489.13 940.49,489.28 943.54,489.27 946.58,489.3 949.36,489.57 952.38,490.44 955.07,491.62 958.09,492.77 960.8,493.55 963.73,494.32 966.76,495.04 969.74,495.68 972.92,496.24 976.29,496.74 979.29,497.14 981.38,497.43" fill="none" stroke="#ff3a48" stroke-width="1.15" stroke-linejoin="round" stroke-linecap="round"/>
<path d="M688.5 387.36V391.6M688.5 389.55H691.1M693.93 387.8V390.87M691.33 389.12H693.93M693.93 389.12H696.53M699.35 386.34V394.8M696.75 389.12H699.35M699.35 393.48H701.95M704.78 389.25V395.68M702.18 393.19H704.78M704.78 393.48H707.38M710.21 391.29V399.61M707.61 393.19H710.21M710.21 397.85H712.81M715.63 391.73V398.59M713.03 397.41H715.63M715.63 393.05H718.24M721.06 387.36V396.7M718.46 392.76H721.06M721.06 390.14H723.66M726.49 386.34V397.13M723.89 390.14H726.49M726.49 395.67H729.09M731.92 391.29V401.06M729.32 395.67H731.92M731.92 398.58H734.52M737.34 396.53V409.36M734.74 398.58H737.34M737.34 406.59H739.94M742.77 401.19V408.34M740.17 406.15H742.77M742.77 406.15H745.37M748.2 399.01V423.62M745.6 406.15H748.2M748.2 418.23H750.8M753.62 411.67V423.33M751.02 418.23H753.62M753.62 413.14H756.22M759.05 407.74V416.35M756.45 413.14H759.05M759.05 414.59H761.65M764.48 411.09V420.71M761.88 414.59H764.48M764.48 414.3H767.08M769.9 412.54V426.24M767.3 414.3H769.9M769.9 424.49H772.5M775.33 417.49V425.08M772.73 424.05H775.33M775.33 420.7H777.93M780.76 418.37V430.61M778.16 420.7H780.76M780.76 428.42H783.36M786.19 420.84V430.17M783.59 428.42H786.19M786.19 426.96H788.79M791.61 425.94V439.64M789.01 426.96H791.61M791.61 436.43H794.21M797.04 433.94V452.01M794.44 436.43H797.04M797.04 447.34H799.64M802.47 438.31V463.65M799.87 447.34H802.47M802.47 444.43H805.07M807.89 431.47V450.12M805.29 444.43H807.89M807.89 443.41H810.49M813.32 436.85V448.37M810.72 443.41H813.32M813.32 442.98H815.92M818.75 432.49V453.46M816.15 442.98H818.75M818.75 451.71H821.35M824.17 443.11V461.91M821.57 451.71H824.17M824.17 445.16H826.77M829.6 443.4V454.92M827 445.16H829.6M829.6 444.43H832.2M835.03 442.98V458.13M832.43 444.73H835.03M835.03 453.76H837.63M840.46 450.26V459.88M837.86 453.76H840.46M840.46 452.3H843.06M845.88 471.8V487.97M843.28 480.4H845.88M845.88 474.14H848.48M851.31 472.82V483.61M848.71 474.14H851.31M851.31 482.58H853.91M856.74 479.08V490.16M854.14 482.58H856.74M856.74 486.66H859.34M862.16 483.01V496.71M859.56 486.66H862.16M862.16 493.93H864.76M867.59 492.76V508.35M864.99 493.93H867.59M867.59 507.32H870.19M873.02 503.39V513.45M870.42 507.32H873.02M873.02 505.87H875.62M878.44 498.29V513.45M875.84 505.87H878.44M878.44 501.79H881.04M883.87 496.54V503.55M881.27 501.79H883.87M883.87 498.88H886.47M889.3 496.84V503.99M886.7 498.88H889.3M889.3 499.76H891.9M894.73 497.56V503.26M892.13 499.76H894.73M894.73 501.79H897.33M900.15 499.46V504.42M897.55 501.79H900.15M900.15 501.21H902.75M905.58 500.04V504.71M902.98 501.21H905.58M905.58 502.96H908.18M911.01 501.93V512.72M908.41 502.96H911.01M911.01 511.69H913.61M916.43 507.75V518.54M913.83 511.69H916.43M916.43 510.53H919.03M921.86 505.86V513.45M919.26 510.53H921.86M921.86 508.05H924.46M927.29 500.04V509.08M924.69 508.05H927.29M927.29 501.5H929.89M932.71 491.74V505M930.11 501.5H932.71M932.71 498.59H935.31M938.14 496.54V504.71M935.54 498.59H938.14M938.14 503.25H940.74M943.57 480.53V505M940.97 503.25H943.57M943.57 482.29H946.17M949 480.53V498.16M946.4 482.29H949M949 494.95H951.6M954.42 489.85V502.53M951.82 494.95H954.42M954.42 499.32H957.02M959.85 494.65V523.35M957.25 499.32H959.85M959.85 520.13H962.45M965.28 508.48V525.38M962.68 520.13H965.28M965.28 509.94H967.88M970.7 504.11V514.61M968.1 509.94H970.7M970.7 507.32H973.3M976.13 500.04V514.17M973.53 507.32H976.13M976.13 504.12H978.73M981.56 500.91V513.16M978.96 504.12H981.56M981.56 509.07H984.16" stroke="#300" stroke-opacity="0.45" stroke-width="2.1" fill="none"/>
<path d="M688.5 387.66V391.3M688.5 389.55H690.8M693.93 388.1V390.57M691.63 389.12H693.93M693.93 389.12H696.23M715.63 392.03V398.29M713.34 397.41H715.63M715.63 393.05H717.93M721.06 387.66V396.4M718.76 392.76H721.06M721.06 390.14H723.36M927.29 500.34V508.78M924.99 508.05H927.29M927.29 501.5H929.59M932.71 492.04V504.7M930.41 501.5H932.71M932.71 498.59H935.01M943.57 480.83V504.7M941.27 503.25H943.57M943.57 482.29H945.87M976.13 500.34V513.87M973.83 507.32H976.13M976.13 504.12H978.43" stroke="#14d014" stroke-width="1.45" fill="none"/>
<path d="M699.35 386.64V394.5M697.05 389.12H699.35M699.35 393.48H701.65M704.78 389.55V395.38M702.48 393.19H704.78M704.78 393.48H707.08M710.21 391.59V399.31M707.91 393.19H710.21M710.21 397.85H712.51M726.49 386.64V396.83M724.19 390.14H726.49M726.49 395.67H728.79M731.92 391.59V400.76M729.62 395.67H731.92M731.92 398.58H734.22M737.34 396.83V409.06M735.04 398.58H737.34M737.34 406.59H739.64M742.77 401.49V408.04M740.47 406.15H742.77M742.77 406.15H745.07M748.2 399.31V423.32M745.9 406.15H748.2M748.2 418.23H750.5M769.9 412.84V425.94M767.61 414.3H769.9M769.9 424.49H772.2M780.76 418.67V430.31M778.46 420.7H780.76M780.76 428.42H783.06M791.61 426.24V439.34M789.31 426.96H791.61M791.61 436.43H793.91M797.04 434.24V451.71M794.74 436.43H797.04M797.04 447.34H799.34M818.75 432.79V453.16M816.45 442.98H818.75M818.75 451.71H821.05M835.03 443.28V457.83M832.73 444.73H835.03M835.03 453.76H837.33M845.88 472.1V487.67M843.58 480.4H845.88M845.88 474.14H848.18M851.31 473.12V483.31M849.01 474.14H851.31M851.31 482.58H853.61M856.74 479.38V489.86M854.44 482.58H856.74M856.74 486.66H859.04M862.16 483.31V496.41M859.86 486.66H862.16M862.16 493.93H864.46M867.59 493.06V508.05M865.29 493.93H867.59M867.59 507.32H869.89M911.01 502.23V512.42M908.71 502.96H911.01M911.01 511.69H913.31M938.14 496.84V504.41M935.84 498.59H938.14M938.14 503.25H940.44M954.42 490.15V502.23M952.12 494.95H954.42M954.42 499.32H956.72M959.85 494.95V523.05M957.55 499.32H959.85M959.85 520.13H962.15M965.28 508.78V525.08M962.98 520.13H965.28M965.28 509.94H967.58M981.56 501.21V512.86M979.26 504.12H981.56M981.56 509.07H983.86" stroke="#e41212" stroke-width="1.45" fill="none"/>
<path d="M753.62 411.97V423.03M751.32 418.23H753.62M753.62 413.14H755.92M759.05 408.04V416.05M756.75 413.14H759.05M759.05 414.59H761.35M764.48 411.39V420.41M762.18 414.59H764.48M764.48 414.3H766.78M775.33 417.79V424.78M773.03 424.05H775.33M775.33 420.7H777.63M786.19 421.14V429.87M783.89 428.42H786.19M786.19 426.96H788.49M802.47 438.61V463.35M800.17 447.34H802.47M802.47 444.43H804.77M807.89 431.77V449.82M805.59 444.43H807.89M807.89 443.41H810.19M813.32 437.15V448.07M811.02 443.41H813.32M813.32 442.98H815.62M824.17 443.41V461.61M821.88 451.71H824.17M824.17 445.16H826.47M829.6 443.7V454.62M827.3 445.16H829.6M829.6 444.43H831.9M840.46 450.56V459.58M838.16 453.76H840.46M840.46 452.3H842.76M873.02 503.69V513.15M870.72 507.32H873.02M873.02 505.87H875.32M878.44 498.59V513.15M876.14 505.87H878.44M878.44 501.79H880.74M883.87 496.84V503.25M881.57 501.79H883.87M883.87 498.88H886.17M889.3 497.14V503.69M887 498.88H889.3M889.3 499.76H891.6M894.73 497.86V502.96M892.43 499.76H894.73M894.73 501.79H897.03M900.15 499.76V504.12M897.85 501.79H900.15M900.15 501.21H902.45M905.58 500.34V504.41M903.28 501.21H905.58M905.58 502.96H907.88M916.43 508.05V518.24M914.13 511.69H916.43M916.43 510.53H918.73M921.86 506.16V513.15M919.56 510.53H921.86M921.86 508.05H924.16M949 480.83V497.86M946.7 482.29H949M949 494.95H951.3M970.7 504.41V514.31M968.4 509.94H970.7M970.7 507.32H973" stroke="#187ce6" stroke-width="1.45" fill="none"/>
<path d="M1003.9 381h1.4" stroke="#555" stroke-width="0.6"/>
<text x="1005.9" y="382.7" font-size="4.9" fill="#222" font-weight="bold">11,930</text>
<path d="M1003.9 391.1h1.4" stroke="#555" stroke-width="0.6"/>
<text x="1005.9" y="392.8" font-size="4.9" fill="#222" font-weight="bold">11,910</text>
<path d="M1003.9 401.1h1.4" stroke="#555" stroke-width="0.6"/>
<text x="1005.9" y="402.8" font-size="4.9" fill="#222" font-weight="bold">11,890</text>
<path d="M1003.9 411.1h1.4" stroke="#555" stroke-width="0.6"/>
<text x="1005.9" y="412.8" font-size="4.9" fill="#222" font-weight="bold">11,870</text>
<path d="M1003.9 421h1.4" stroke="#555" stroke-width="0.6"/>
<text x="1005.9" y="422.7" font-size="4.9" fill="#222" font-weight="bold">11,850</text>
<path d="M1003.9 431.1h1.4" stroke="#555" stroke-width="0.6"/>
<text x="1005.9" y="432.8" font-size="4.9" fill="#222" font-weight="bold">11,830</text>
<path d="M1003.9 441.1h1.4" stroke="#555" stroke-width="0.6"/>
<text x="1005.9" y="442.8" font-size="4.9" fill="#222" font-weight="bold">11,810</text>
<path d="M1003.9 451h1.4" stroke="#555" stroke-width="0.6"/>
<text x="1005.9" y="452.7" font-size="4.9" fill="#222" font-weight="bold">11,790</text>
<path d="M1003.9 461h1.4" stroke="#555" stroke-width="0.6"/>
<text x="1005.9" y="462.7" font-size="4.9" fill="#222" font-weight="bold">11,770</text>
<path d="M1003.9 470.9h1.4" stroke="#555" stroke-width="0.6"/>
<text x="1005.9" y="472.6" font-size="4.9" fill="#222" font-weight="bold">11,750</text>
<path d="M1003.9 480.8h1.4" stroke="#555" stroke-width="0.6"/>
<text x="1005.9" y="482.5" font-size="4.9" fill="#222" font-weight="bold">11,730</text>
<path d="M1003.9 491h1.4" stroke="#555" stroke-width="0.6"/>
<text x="1005.9" y="492.7" font-size="4.9" fill="#222" font-weight="bold">11,710</text>
<path d="M1003.9 500.9h1.4" stroke="#555" stroke-width="0.6"/>
<text x="1005.9" y="502.6" font-size="4.9" fill="#222" font-weight="bold">11,690</text>
<path d="M1003.9 520.7h1.4" stroke="#555" stroke-width="0.6"/>
<text x="1005.9" y="522.4" font-size="4.9" fill="#222" font-weight="bold">11,650</text>
<rect x="1004.5" y="506.8" width="18.3" height="5" rx="2" fill="#111"/>
<text x="1005.9" y="511" font-size="4.9" fill="#fff" font-weight="bold">11,674</text>
<path d="M704.78 529.2v1.2" stroke="#666" stroke-width="0.6"/>
<text x="704.78" y="535.8" font-size="4.6" fill="#222" font-weight="bold" text-anchor="middle">01:00</text>
<path d="M726.49 529.2v1.2" stroke="#666" stroke-width="0.6"/>
<text x="726.49" y="535.8" font-size="4.6" fill="#222" font-weight="bold" text-anchor="middle">03:00</text>
<path d="M748.2 529.2v1.2" stroke="#666" stroke-width="0.6"/>
<text x="748.2" y="535.8" font-size="4.6" fill="#222" font-weight="bold" text-anchor="middle">05:00</text>
<path d="M769.9 529.2v1.2" stroke="#666" stroke-width="0.6"/>
<text x="769.9" y="535.8" font-size="4.6" fill="#222" font-weight="bold" text-anchor="middle">07:00</text>
<path d="M791.61 529.2v1.2" stroke="#666" stroke-width="0.6"/>
<text x="791.61" y="535.8" font-size="4.6" fill="#222" font-weight="bold" text-anchor="middle">09:00</text>
<path d="M813.32 529.2v1.2" stroke="#666" stroke-width="0.6"/>
<text x="813.32" y="535.8" font-size="4.6" fill="#222" font-weight="bold" text-anchor="middle">11:00</text>
<path d="M845.88 529.2v1.2" stroke="#666" stroke-width="0.6"/>
<text x="845.88" y="535.8" font-size="4.6" fill="#222" font-weight="bold" text-anchor="middle">11/27</text>
<path d="M862.16 529.2v1.2" stroke="#666" stroke-width="0.6"/>
<text x="862.16" y="535.8" font-size="4.6" fill="#222" font-weight="bold" text-anchor="middle">20:00</text>
<path d="M883.87 529.2v1.2" stroke="#666" stroke-width="0.6"/>
<text x="883.87" y="535.8" font-size="4.6" fill="#222" font-weight="bold" text-anchor="middle">22:00</text>
<path d="M905.58 529.2v1.2" stroke="#666" stroke-width="0.6"/>
<text x="905.58" y="535.8" font-size="4.6" fill="#222" font-weight="bold" text-anchor="middle">11/28</text>
<path d="M927.29 529.2v1.2" stroke="#666" stroke-width="0.6"/>
<text x="927.29" y="535.8" font-size="4.6" fill="#222" font-weight="bold" text-anchor="middle">02:00</text>
<path d="M949 529.2v1.2" stroke="#666" stroke-width="0.6"/>
<text x="949" y="535.8" font-size="4.6" fill="#222" font-weight="bold" text-anchor="middle">04:00</text>
<path d="M970.7 529.2v1.2" stroke="#666" stroke-width="0.6"/>
<text x="970.7" y="535.8" font-size="4.6" fill="#222" font-weight="bold" text-anchor="middle">06:00</text>
<path d="M992.41 529.2v1.2" stroke="#666" stroke-width="0.6"/>
<text x="992.41" y="535.8" font-size="4.6" fill="#222" font-weight="bold" text-anchor="middle">08:00</text>
<rect x="685" y="536.8" width="340" height="4.6" fill="#4f5b78"/>
<rect x="686.6" y="537.4" width="3.6" height="3.4" fill="#93a4c4"/>
<rect x="1011.9" y="537.2" width="10.5" height="3.8" fill="#a6b4cc"/>
<rect x="345.8" y="543.2" width="339.2" height="187.4" fill="#0a0b10"/>
<rect x="345.8" y="543.2" width="339.2" height="13" fill="#000"/>
<rect x="347.4" y="556.2" width="336" height="169" fill="#fff"/>
<g transform="translate(348.2 546.3) scale(0.47)">
<path d="M7.4 0v14.8M3.1 5.6v8.3M11 4.2v8.6" stroke="#1587d8" stroke-width="4.08" stroke-dasharray="3.4 0.9" fill="none"/>
<polyline points="0.3,10.2 4.4,7.4 6.8,9.6 14,4.2" fill="none" stroke="#2ec4a0" stroke-width="3.57"/>
</g>
<text x="358.2" y="551.7" font-size="5.7" fill="#c8c8d0" textLength="223" lengthAdjust="spacingAndGlyphs">Chart Analysis - @YM(D) 30 min [CBOT] E-mini Dow Futures ($5) Continuous Contract [Dec22]</text>
<rect x="604.2" y="546.3" width="10.4" height="7" rx="1" fill="#9a9ea4" stroke="#c8c8c8" stroke-width="0.4"/>
<text x="606.6" y="551.7" font-size="5" fill="#e8e8e8" font-weight="bold">S</text>
<rect x="617.4" y="546.3" width="10.2" height="7" rx="1" fill="#22e6ee" stroke="#9af4f8" stroke-width="0.4"/>
<text x="620.6" y="551.7" font-size="5" fill="#083c50" font-weight="bold">I</text>
<path d="M638.2 552.3h3" stroke="#4a4a4a" stroke-width="1"/>
<rect x="655" y="548.5" width="3.6" height="3.4" fill="none" stroke="#4a4a4a" stroke-width="0.9"/>
<path d="M672.6 548.7l3.4 3.4m0 -3.4l-3.4 3.4" stroke="#4a4a4a" stroke-width="0.9"/>
<path d="M348.8 565.2V717.3M359.65 565.2V717.3M370.51 565.2V717.3M381.36 565.2V717.3M392.22 565.2V717.3M403.07 565.2V717.3M413.92 565.2V717.3M424.78 565.2V717.3M435.63 565.2V717.3M446.49 565.2V717.3M457.34 565.2V717.3M468.19 565.2V717.3M479.05 565.2V717.3M489.9 565.2V717.3M500.76 565.2V717.3M511.61 565.2V717.3M522.46 565.2V717.3M533.32 565.2V717.3M544.17 565.2V717.3M555.03 565.2V717.3M565.88 565.2V717.3M576.73 565.2V717.3M587.59 565.2V717.3M598.44 565.2V717.3M609.3 565.2V717.3M620.15 565.2V717.3M631 565.2V717.3M641.86 565.2V717.3M652.71 565.2V717.3M347.4 566.1H664.4M347.4 574.6H664.4M347.4 583.1H664.4M347.4 591.6H664.4M347.4 600.1H664.4M347.4 608.7H664.4M347.4 617.2H664.4M347.4 625.7H664.4M347.4 634.2H664.4M347.4 642.8H664.4M347.4 651.3H664.4M347.4 659.8H664.4M347.4 668.3H664.4M347.4 676.9H664.4M347.4 685.4H664.4M347.4 702.5H664.4M347.4 711H664.4" stroke="#f0f0f0" stroke-width="0.6" fill="none"/>
<path d="M506.18 564.2V720.3" stroke="#8a8a8a" stroke-width="0.7" stroke-dasharray="1 0.8"/>
<path d="M664.4 556.2V717.3" stroke="#9a9a9a" stroke-width="0.8" stroke-dasharray="1 0.5"/>
<path d="M347.4 717.3H664.4" stroke="#9a9a9a" stroke-width="0.8"/>
<text x="348.3" y="561.3" font-size="5.1" fill="#111" font-weight="bold" textLength="127" lengthAdjust="spacingAndGlyphs">E-mini Dow Futures ($5) Continuous Contract [Dec22]</text>
<text x="478.3" y="561.3" font-size="5.1" fill="#ff2020" font-weight="bold">-0.62%</text>
<polyline points="348.73,620.79 369.11,624.43 376.39,624.15 388.03,623.7 398.22,620.73 405.5,618.6 408.41,617.73 415.69,615.54 427.34,612.05 430.25,611.32 441.89,608.41 446.99,608.41 456.45,608.41 457.9,606.38 463.73,598.22 471,587.84 473.92,583.67 485.56,573.48 500.12,564.75 505.28,562.59 506.3,562.16 506.38,562.13 516.2,565.1 522.02,569.46 533.67,578.2 539.49,581.84 551.14,589.12 556.96,592.27 568.6,598.58 571.51,601.49 577.34,607.31 580.25,608.56 587.53,611.68 588.98,611.47 591.89,611.05 597.71,610.22 606.45,607.31 612.27,607.5 613.73,607.55 615.18,607.6 621,612.41 628.28,614.12 641.38,617.21 641.82,617.31" fill="none" stroke="#cdd1d9" stroke-width="0.55" stroke-dasharray="none"/>
<polyline points="348.73,629.16 369.11,631.95 376.39,631.89 388.03,631.49 398.22,629.41 405.5,628.03 408.41,627.46 415.69,625.52 427.34,622.61 430.25,621.98 441.89,619.45 446.99,619.79 456.45,620.52 457.9,619.07 463.73,612.38 471,603.9 473.92,600.53 485.56,591.41 500.12,583.17 505.28,581.48 506.3,581.48 506.38,581.47 516.2,584.72 522.02,588.39 533.67,596.96 539.49,600.76 551.14,607.39 556.96,610.39 568.6,616.14 571.51,618.47 577.34,623.06 580.25,624.25 587.53,626.46 588.98,626.34 591.89,626.06 597.71,625.3 606.45,623.05 612.27,622.97 613.73,623.24 615.18,623.5 621,627.59 628.28,629.85 641.38,633.88 641.82,634.01" fill="none" stroke="#cdd1d9" stroke-width="0.55" stroke-dasharray="none"/>
<polyline points="348.73,637.54 369.11,639.47 376.39,639.63 388.03,639.27 398.22,638.1 405.5,637.46 408.41,637.2 415.69,635.49 427.34,633.17 430.25,632.63 441.89,630.5 446.99,631.18 456.45,632.64 457.9,631.76 463.73,626.54 471,619.95 473.92,617.4 485.56,609.35 500.12,601.58 505.28,600.36 506.3,600.8 506.38,600.81 516.2,604.35 522.02,607.31 533.67,615.73 539.49,619.69 551.14,625.67 556.96,628.5 568.6,633.71 571.51,635.46 577.34,638.82 580.25,639.95 587.53,641.23 588.98,641.21 591.89,641.07 597.71,640.38 606.45,638.78 612.27,638.43 613.73,638.93 615.18,639.39 621,642.78 628.28,645.57 641.38,650.54 641.82,650.71" fill="none" stroke="#cdd1d9" stroke-width="0.55" stroke-dasharray="none"/>
<polyline points="348.73,654.28 369.11,654.5 376.39,655.11 388.03,654.84 398.22,655.46 405.5,656.32 408.41,656.66 415.69,655.45 427.34,654.28 430.25,653.95 441.89,652.58 446.99,653.94 456.45,656.86 457.9,657.14 463.73,654.85 471,652.07 473.92,651.12 485.56,645.21 500.12,638.42 505.28,638.14 506.3,639.44 506.38,639.49 516.2,643.6 522.02,645.17 533.67,653.25 539.49,657.53 551.14,662.22 556.96,664.72 568.6,668.84 571.51,669.42 577.34,670.33 580.25,671.33 587.53,670.78 588.98,670.95 591.89,671.09 597.71,670.53 606.45,670.25 612.27,669.35 613.73,670.31 615.18,671.18 621,673.14 628.28,677.03 641.38,683.88 641.82,684.11" fill="none" stroke="#cdd1d9" stroke-width="0.55" stroke-dasharray="none"/>
<polyline points="348.73,662.66 369.11,662.02 376.39,662.85 388.03,662.63 398.22,664.15 405.5,665.75 408.41,666.4 415.69,665.42 427.34,664.84 430.25,664.6 441.89,663.63 446.99,665.33 456.45,668.98 457.9,669.83 463.73,669.01 471,668.12 473.92,667.99 485.56,663.15 500.12,656.83 505.28,657.02 506.3,658.76 506.38,658.83 516.2,663.22 522.02,664.09 533.67,672.02 539.49,676.46 551.14,680.49 556.96,682.83 568.6,686.4 571.51,686.41 577.34,686.08 580.25,687.03 587.53,685.56 588.98,685.82 591.89,686.1 597.71,685.61 606.45,685.99 612.27,684.81 613.73,686 615.18,687.08 621,688.32 628.28,692.75 641.38,700.55 641.82,700.81" fill="none" stroke="#cdd1d9" stroke-width="0.55" stroke-dasharray="none"/>
<polyline points="348.73,671.03 369.11,669.54 376.39,670.59 388.03,670.41 398.22,672.83 405.5,675.17 408.41,676.13 415.69,675.4 427.34,675.4 430.25,675.26 441.89,674.67 446.99,676.71 456.45,681.09 457.9,682.52 463.73,683.17 471,684.18 473.92,684.85 485.56,681.08 500.12,675.25 505.28,675.91 506.3,678.08 506.38,678.17 516.2,682.85 522.02,683.02 533.67,690.78 539.49,695.38 551.14,698.77 556.96,700.95 568.6,703.97 571.51,703.39 577.34,701.84 580.25,702.72 587.53,700.33 588.98,700.69 591.89,701.11 597.71,700.69 606.45,701.72 612.27,700.28 613.73,701.69 615.18,702.97 621,703.51 628.28,708.48 641.38,717.21 641.82,717.51" fill="none" stroke="#cdd1d9" stroke-width="0.55" stroke-dasharray="none"/>
<polyline points="348.73,645.91 350.4,646.01 352.59,646.14 355.18,646.31 358.08,646.49 361.2,646.68 364.42,646.86 367.65,647.04 370.79,647.19 373.74,647.3 376,647.36" fill="none" stroke="#ff3a48" stroke-width="1.15" stroke-linejoin="round" stroke-linecap="round"/>
<polyline points="376,647.36 376.39,647.37 379.48,647.39 382.53,647.35 385.51,647.27 388.4,647.16 391.14,647.04 393.72,646.92 396.09,646.83 398.22,646.78 401.65,646.8 403,646.86" fill="none" stroke="#38f048" stroke-width="1.15" stroke-linejoin="round" stroke-linecap="round"/>
<polyline points="403,646.86 404.22,646.91 406.34,646.99 408.41,646.93 410.78,646.59 412.83,646.07 414,645.82" fill="none" stroke="#ff3a48" stroke-width="1.15" stroke-linejoin="round" stroke-linecap="round"/>
<polyline points="414,645.82 415.69,645.47 418.18,645.07 421.13,644.63 424.29,644.17 427.41,643.71 430.25,643.29 433.52,642.76 436.66,642.21 439.51,641.77 441.89,641.54 444.58,641.8 446.99,642.56 447,642.56" fill="none" stroke="#38f048" stroke-width="1.15" stroke-linejoin="round" stroke-linecap="round"/>
<polyline points="447,642.56 449.24,643.08 451.95,643.74 454.55,644.35 456.45,644.75 456.95,645.26 457.9,644.45 458,644.39" fill="none" stroke="#ff3a48" stroke-width="1.15" stroke-linejoin="round" stroke-linecap="round"/>
<polyline points="458,644.39 459.75,643.29 462.23,641.67 465.1,639.8 468.1,637.85 471,636.01 473.82,634.26 476.72,632.47 479.67,630.68 482.62,628.94 485.56,627.28 488.62,625.63 491.84,623.95 494.97,622.37 497.81,621.01 500.12,620 503.55,619.12 505.28,619.25 505.8,619.69" fill="none" stroke="#38f048" stroke-width="1.15" stroke-linejoin="round" stroke-linecap="round"/>
<polyline points="505.8,619.69 506.3,620.12 508.05,620.76 510.39,621.54 513.13,622.46 516.11,623.54 519.13,624.8 522.02,626.24 524.83,627.99 527.71,630.06 530.65,632.31 533.6,634.58 536.56,636.73 539.49,638.61 542.44,640.22 545.42,641.68 548.41,643.02 551.35,644.27 554.22,645.45 556.96,646.61 560.15,647.96 563.27,649.22 566.25,650.4 569.02,651.48 571.51,652.44 574.85,653.8 577.55,654.88 580.25,655.64 583.38,656.01 586.5,656.07 588.98,656.08 589.71,656.24 591.89,656.08 592,656.07" fill="none" stroke="#ff3a48" stroke-width="1.15" stroke-linejoin="round" stroke-linecap="round"/>
<polyline points="592,656.07 594.05,655.86 596.99,655.53 600.39,655.14 603.94,654.74 607.32,654.37 610.2,654.07 612.27,653.89 613.2,653.73" fill="none" stroke="#38f048" stroke-width="1.15" stroke-linejoin="round" stroke-linecap="round"/>
<polyline points="613.2,653.73 613.36,653.7 613.73,654.62 615.82,655.58 618.66,656.89 621.9,658.38 625.23,659.91 628.28,661.3 631.27,662.66 634.42,664.08 637.43,665.43 639.99,666.59 641.82,667.41" fill="none" stroke="#ff3a48" stroke-width="1.15" stroke-linejoin="round" stroke-linecap="round"/>
<path d="M348.8 644.74V651.16M348.8 646.93H351.4M354.23 645.9V650.58M351.63 646.93H354.23M354.23 647.66H356.83M359.65 644.15V652.03M357.05 647.66H359.65M359.65 650.28H362.25M365.08 647.07V652.61M362.48 650.28H365.08M365.08 650.28H367.68M370.51 645.9V653.05M367.91 649.84H370.51M370.51 651.3H373.11M375.94 643.72V652.03M373.33 651.3H375.94M375.94 645.04H378.54M381.36 637.17V650.58M378.76 645.04H381.36M381.36 640.38H383.96M386.79 637.46V652.61M384.19 640.38H386.79M386.79 651.3H389.39M392.22 632.8V653.05M389.62 651.3H392.22M392.22 639.65H394.82M397.64 636V654.94M395.04 639.65H397.64M397.64 646.2H400.24M403.07 637.46V650.14M400.47 646.2H403.07M403.07 646.93H405.67M408.5 632.8V661.35M405.9 646.93H408.5M408.5 656.39H411.1M413.92 640.08V663.68M411.32 656.39H413.92M413.92 642.13H416.52M419.35 630.62V646.21M416.75 642.13H419.35M419.35 636.3H421.95M424.78 632.07V642.13M422.18 636.3H424.78M424.78 634.56H427.38M430.21 632.07V643.59M427.61 634.56H430.21M430.21 640.38H432.81M435.63 625.81V642.86M433.03 640.38H435.63M435.63 628.44H438.23M441.06 625.81V637.48M438.46 628.44H441.06M441.06 630.48H443.66M446.49 628.14V649.7M443.89 630.48H446.49M446.49 646.93H449.09M451.91 644.74V656.98M449.31 646.93H451.91M451.91 654.21H454.51M457.34 652.89V666.88M454.74 654.21H457.34M457.34 658.14H459.94M462.77 604.91V664.03M460.17 658.2H462.77M462.77 611.32H465.37M468.19 593.85V616.72M465.59 611.32H468.19M468.19 609.14H470.79M473.62 589.92V617.16M471.02 609.14H473.62M473.62 597.5H476.22M479.05 585.99V601.44M476.45 597.5H479.05M479.05 591.67H481.65M484.48 585.11V604.35M481.88 591.67H484.48M484.48 592.4H487.08M489.9 586.57V600.71M487.3 592.4H489.9M489.9 591.24H492.5M495.33 590.94V614.83M492.73 591.24H495.33M495.33 598.95H497.93M500.76 588.03V605.07M498.16 598.95H500.76M500.76 592.4H503.36M506.18 615.88V639.77M503.58 625.64H506.18M506.18 626.37H508.78M511.61 625.34V645.3M509.01 626.37H511.61M511.61 643.83H514.21M517.04 635.09V650.68M514.44 643.83H517.04M517.04 643.54H519.64M522.46 640.33V652.58M519.86 643.54H522.46M522.46 647.47H525.06M527.89 645.28V663.06M525.29 647.47H527.89M527.89 661.3H530.49M533.32 660.27V679.8M530.72 661.3H533.32M533.32 676.59H535.92M538.75 671.92V687.07M536.14 676.59H538.75M538.75 676.15H541.35M544.17 666.1V677.32M541.57 676.15H544.17M544.17 667.85H546.77M549.6 665.37V677.61M547 667.85H549.6M549.6 672.22H552.2M555.03 667.99V673.25M552.43 672.22H555.03M555.03 672.22H557.63M560.45 666.82V672.96M557.85 672.22H560.45M560.45 668.29H563.05M565.88 666.1V670.63M563.28 668.29H565.88M565.88 669.31H568.48M571.31 667.99V686.35M568.71 669.31H571.31M571.31 684.88H573.91M576.73 672.94V693.62M574.13 684.88H576.73M576.73 677.02H579.33M582.16 664.2V678.78M579.56 677.02H582.16M582.16 668.87H584.76M587.59 655.47V669.61M584.99 668.87H587.59M587.59 656.93H590.19M593.01 643.83V665.68M590.41 656.93H593.01M593.01 647.91H595.62M598.44 644.99V658.69M595.84 647.91H598.44M598.44 656.93H601.04M603.87 630.14V660.87M601.27 656.93H603.87M603.87 633.64H606.47M609.3 631.89V655.78M606.7 633.64H609.3M609.3 654.02H611.9M614.72 648.63V671.79M612.12 654.02H614.72M614.72 670.03H617.32M620.15 664.64V703.09M617.55 670.03H620.15M620.15 697.4H622.75M625.58 677.74V705.56M622.98 697.4H625.58M625.58 680.95H628.18M631 676.72V692.9M628.4 680.95H631M631 685.32H633.6M636.43 667.99V693.33M633.83 685.32H636.43M636.43 679.93H639.03M641.86 674.83V694.35M639.26 679.93H641.86M641.86 692.6H644.46" stroke="#300" stroke-opacity="0.45" stroke-width="2.1" fill="none"/>
<path d="M348.8 645.04V650.86M348.8 646.93H351.1M354.23 646.2V650.28M351.93 646.93H354.23M354.23 647.66H356.53M375.94 644.02V651.73M373.63 651.3H375.94M375.94 645.04H378.24M381.36 637.47V650.28M379.06 645.04H381.36M381.36 640.38H383.66M392.22 633.1V652.75M389.92 651.3H392.22M392.22 639.65H394.52M413.92 640.38V663.38M411.62 656.39H413.92M413.92 642.13H416.22M419.35 630.92V645.91M417.05 642.13H419.35M419.35 636.3H421.65M424.78 632.37V641.83M422.48 636.3H424.78M424.78 634.56H427.08M435.63 626.11V642.56M433.33 640.38H435.63M435.63 628.44H437.93M441.06 626.11V637.18M438.76 628.44H441.06M441.06 630.48H443.36M462.77 605.21V663.73M460.47 658.2H462.77M462.77 611.32H465.07M468.19 594.15V616.42M465.89 611.32H468.19M468.19 609.14H470.49M473.62 590.22V616.86M471.32 609.14H473.62M473.62 597.5H475.92M479.05 586.29V601.14M476.75 597.5H479.05M479.05 591.67H481.35M582.16 664.5V678.48M579.86 677.02H582.16M582.16 668.87H584.46M587.59 655.77V669.31M585.29 668.87H587.59M587.59 656.93H589.89M593.01 644.13V665.38M590.72 656.93H593.01M593.01 647.91H595.31M598.44 645.29V658.39M596.14 647.91H598.44M598.44 656.93H600.74M603.87 630.44V660.57M601.57 656.93H603.87M603.87 633.64H606.17" stroke="#14d014" stroke-width="1.45" fill="none"/>
<path d="M359.65 644.45V651.73M357.35 647.66H359.65M359.65 650.28H361.95M370.51 646.2V652.75M368.21 649.84H370.51M370.51 651.3H372.81M386.79 637.76V652.31M384.49 640.38H386.79M386.79 651.3H389.09M397.64 636.3V654.64M395.34 639.65H397.64M397.64 646.2H399.94M403.07 637.76V649.84M400.77 646.2H403.07M403.07 646.93H405.37M408.5 633.1V661.05M406.2 646.93H408.5M408.5 656.39H410.8M446.49 628.44V649.4M444.19 630.48H446.49M446.49 646.93H448.79M451.91 645.04V656.68M449.61 646.93H451.91M451.91 654.21H454.21M457.34 653.19V666.58M455.04 654.21H457.34M457.34 658.14H459.64M506.18 616.18V639.47M503.88 625.64H506.18M506.18 626.37H508.48M511.61 625.64V645M509.31 626.37H511.61M511.61 643.83H513.91M517.04 635.39V650.38M514.74 643.83H517.04M517.04 643.54H519.34M522.46 640.63V652.28M520.16 643.54H522.46M522.46 647.47H524.76M527.89 645.58V662.76M525.59 647.47H527.89M527.89 661.3H530.19M533.32 660.57V679.5M531.02 661.3H533.32M533.32 676.59H535.62M571.31 668.29V686.05M569.01 669.31H571.31M571.31 684.88H573.61M614.72 648.93V671.49M612.42 654.02H614.72M614.72 670.03H617.02M620.15 664.94V702.79M617.85 670.03H620.15M620.15 697.4H622.45M625.58 678.04V705.26M623.28 697.4H625.58M625.58 680.95H627.88M631 677.02V692.6M628.7 680.95H631M631 685.32H633.3M641.86 675.13V694.05M639.56 679.93H641.86M641.86 692.6H644.16" stroke="#e41212" stroke-width="1.45" fill="none"/>
<path d="M365.08 647.37V652.31M362.78 650.28H365.08M365.08 650.28H367.38M430.21 632.37V643.29M427.91 634.56H430.21M430.21 640.38H432.51M484.48 585.41V604.05M482.18 591.67H484.48M484.48 592.4H486.78M489.9 586.87V600.41M487.6 592.4H489.9M489.9 591.24H492.2M495.33 591.24V614.53M493.03 591.24H495.33M495.33 598.95H497.63M500.76 588.33V604.77M498.46 598.95H500.76M500.76 592.4H503.06M538.75 672.22V686.77M536.45 676.59H538.75M538.75 676.15H541.04M544.17 666.4V677.02M541.87 676.15H544.17M544.17 667.85H546.47M549.6 665.67V677.31M547.3 667.85H549.6M549.6 672.22H551.9M555.03 668.29V672.95M552.73 672.22H555.03M555.03 672.22H557.33M560.45 667.12V672.66M558.15 672.22H560.45M560.45 668.29H562.75M565.88 666.4V670.33M563.58 668.29H565.88M565.88 669.31H568.18M576.73 673.24V693.32M574.43 684.88H576.73M576.73 677.02H579.03M609.3 632.19V655.48M607 633.64H609.3M609.3 654.02H611.6M636.43 668.29V693.03M634.13 685.32H636.43M636.43 679.93H638.73" stroke="#187ce6" stroke-width="1.45" fill="none"/>
<path d="M664.4 566.1h1.4" stroke="#555" stroke-width="0.6"/>
<text x="666.4" y="567.8" font-size="4.9" fill="#222" font-weight="bold">34,440</text>
<path d="M664.4 574.6h1.4" stroke="#555" stroke-width="0.6"/>
<text x="666.4" y="576.3" font-size="4.9" fill="#222" font-weight="bold">34,420</text>
<path d="M664.4 583.1h1.4" stroke="#555" stroke-width="0.6"/>
<text x="666.4" y="584.8" font-size="4.9" fill="#222" font-weight="bold">34,400</text>
<path d="M664.4 591.6h1.4" stroke="#555" stroke-width="0.6"/>
<text x="666.4" y="593.3" font-size="4.9" fill="#222" font-weight="bold">34,380</text>
<path d="M664.4 600.1h1.4" stroke="#555" stroke-width="0.6"/>
<text x="666.4" y="601.8" font-size="4.9" fill="#222" font-weight="bold">34,360</text>
<path d="M664.4 608.7h1.4" stroke="#555" stroke-width="0.6"/>
<text x="666.4" y="610.4" font-size="4.9" fill="#222" font-weight="bold">34,340</text>
<path d="M664.4 617.2h1.4" stroke="#555" stroke-width="0.6"/>
<text x="666.4" y="618.9" font-size="4.9" fill="#222" font-weight="bold">34,320</text>
<path d="M664.4 625.7h1.4" stroke="#555" stroke-width="0.6"/>
<text x="666.4" y="627.4" font-size="4.9" fill="#222" font-weight="bold">34,300</text>
<path d="M664.4 634.2h1.4" stroke="#555" stroke-width="0.6"/>
<text x="666.4" y="635.9" font-size="4.9" fill="#222" font-weight="bold">34,280</text>
<path d="M664.4 642.8h1.4" stroke="#555" stroke-width="0.6"/>
<text x="666.4" y="644.5" font-size="4.9" fill="#222" font-weight="bold">34,260</text>
<path d="M664.4 651.3h1.4" stroke="#555" stroke-width="0.6"/>
<text x="666.4" y="653" font-size="4.9" fill="#222" font-weight="bold">34,240</text>
<path d="M664.4 659.8h1.4" stroke="#555" stroke-width="0.6"/>
<text x="666.4" y="661.5" font-size="4.9" fill="#222" font-weight="bold">34,220</text>
<path d="M664.4 668.3h1.4" stroke="#555" stroke-width="0.6"/>
<text x="666.4" y="670" font-size="4.9" fill="#222" font-weight="bold">34,200</text>
<path d="M664.4 676.9h1.4" stroke="#555" stroke-width="0.6"/>
<text x="666.4" y="678.6" font-size="4.9" fill="#222" font-weight="bold">34,180</text>
<path d="M664.4 685.4h1.4" stroke="#555" stroke-width="0.6"/>
<text x="666.4" y="687.1" font-size="4.9" fill="#222" font-weight="bold">34,160</text>
<path d="M664.4 702.5h1.4" stroke="#555" stroke-width="0.6"/>
<text x="666.4" y="704.2" font-size="4.9" fill="#222" font-weight="bold">34,120</text>
<path d="M664.4 711h1.4" stroke="#555" stroke-width="0.6"/>
<text x="666.4" y="712.7" font-size="4.9" fill="#222" font-weight="bold">34,100</text>
<rect x="665" y="690.1" width="17.8" height="5" rx="2" fill="#111"/>
<text x="666.4" y="694.3" font-size="4.9" fill="#fff" font-weight="bold">34,144</text>
<path d="M365.08 717.3v1.2" stroke="#666" stroke-width="0.6"/>
<text x="365.08" y="723.9" font-size="4.6" fill="#222" font-weight="bold" text-anchor="middle">01:00</text>
<path d="M386.79 717.3v1.2" stroke="#666" stroke-width="0.6"/>
<text x="386.79" y="723.9" font-size="4.6" fill="#222" font-weight="bold" text-anchor="middle">03:00</text>
<path d="M408.5 717.3v1.2" stroke="#666" stroke-width="0.6"/>
<text x="408.5" y="723.9" font-size="4.6" fill="#222" font-weight="bold" text-anchor="middle">05:00</text>
<path d="M430.21 717.3v1.2" stroke="#666" stroke-width="0.6"/>
<text x="430.21" y="723.9" font-size="4.6" fill="#222" font-weight="bold" text-anchor="middle">07:00</text>
<path d="M451.91 717.3v1.2" stroke="#666" stroke-width="0.6"/>
<text x="451.91" y="723.9" font-size="4.6" fill="#222" font-weight="bold" text-anchor="middle">09:00</text>
<path d="M473.62 717.3v1.2" stroke="#666" stroke-width="0.6"/>
<text x="473.62" y="723.9" font-size="4.6" fill="#222" font-weight="bold" text-anchor="middle">11:00</text>
<path d="M506.18 717.3v1.2" stroke="#666" stroke-width="0.6"/>
<text x="506.18" y="723.9" font-size="4.6" fill="#222" font-weight="bold" text-anchor="middle">11/27</text>
<path d="M522.46 717.3v1.2" stroke="#666" stroke-width="0.6"/>
<text x="522.46" y="723.9" font-size="4.6" fill="#222" font-weight="bold" text-anchor="middle">20:00</text>
<path d="M544.17 717.3v1.2" stroke="#666" stroke-width="0.6"/>
<text x="544.17" y="723.9" font-size="4.6" fill="#222" font-weight="bold" text-anchor="middle">22:00</text>
<path d="M565.88 717.3v1.2" stroke="#666" stroke-width="0.6"/>
<text x="565.88" y="723.9" font-size="4.6" fill="#222" font-weight="bold" text-anchor="middle">11/28</text>
<path d="M587.59 717.3v1.2" stroke="#666" stroke-width="0.6"/>
<text x="587.59" y="723.9" font-size="4.6" fill="#222" font-weight="bold" text-anchor="middle">02:00</text>
<path d="M609.3 717.3v1.2" stroke="#666" stroke-width="0.6"/>
<text x="609.3" y="723.9" font-size="4.6" fill="#222" font-weight="bold" text-anchor="middle">04:00</text>
<path d="M631 717.3v1.2" stroke="#666" stroke-width="0.6"/>
<text x="631" y="723.9" font-size="4.6" fill="#222" font-weight="bold" text-anchor="middle">06:00</text>
<path d="M652.71 717.3v1.2" stroke="#666" stroke-width="0.6"/>
<text x="652.71" y="723.9" font-size="4.6" fill="#222" font-weight="bold" text-anchor="middle">08:00</text>
<rect x="345.8" y="725.2" width="339.2" height="4.2" fill="#4f5b78"/>
<rect x="347.4" y="725.8" width="3.6" height="3" fill="#93a4c4"/>
<rect x="671.9" y="725.6" width="10.5" height="3.4" fill="#a6b4cc"/>
<rect x="685.4" y="542" width="339.6" height="188.6" fill="#0a0b10"/>
<rect x="685.4" y="542" width="339.6" height="13" fill="#000"/>
<rect x="687" y="555" width="336.4" height="170.2" fill="#fff"/>
<g transform="translate(687.8 545.1) scale(0.47)">
<path d="M7.4 0v14.8M3.1 5.6v8.3M11 4.2v8.6" stroke="#1587d8" stroke-width="4.08" stroke-dasharray="3.4 0.9" fill="none"/>
<polyline points="0.3,10.2 4.4,7.4 6.8,9.6 14,4.2" fill="none" stroke="#2ec4a0" stroke-width="3.57"/>
</g>
<text x="697.8" y="550.5" font-size="5.7" fill="#c8c8d0" textLength="219" lengthAdjust="spacingAndGlyphs">Chart Analysis - @RTY(D) 30 min [CME] Emini Russell 2000 Idx Continuous Contract [Dec22]</text>
<rect x="944.2" y="545.1" width="10.4" height="7" rx="1" fill="#9a9ea4" stroke="#c8c8c8" stroke-width="0.4"/>
<text x="946.6" y="550.5" font-size="5" fill="#e8e8e8" font-weight="bold">S</text>
<rect x="957.4" y="545.1" width="10.2" height="7" rx="1" fill="#22e6ee" stroke="#9af4f8" stroke-width="0.4"/>
<text x="960.6" y="550.5" font-size="5" fill="#083c50" font-weight="bold">I</text>
<path d="M978.2 551.1h3" stroke="#4a4a4a" stroke-width="1"/>
<rect x="995" y="547.3" width="3.6" height="3.4" fill="none" stroke="#4a4a4a" stroke-width="0.9"/>
<path d="M1012.6 547.5l3.4 3.4m0 -3.4l-3.4 3.4" stroke="#4a4a4a" stroke-width="0.9"/>
<path d="M689.2 564V717.5M700.05 564V717.5M710.91 564V717.5M721.76 564V717.5M732.62 564V717.5M743.47 564V717.5M754.32 564V717.5M765.18 564V717.5M776.03 564V717.5M786.89 564V717.5M797.74 564V717.5M808.59 564V717.5M819.45 564V717.5M830.3 564V717.5M841.16 564V717.5M852.01 564V717.5M862.86 564V717.5M873.72 564V717.5M884.57 564V717.5M895.43 564V717.5M906.28 564V717.5M917.13 564V717.5M927.99 564V717.5M938.84 564V717.5M949.7 564V717.5M960.55 564V717.5M971.4 564V717.5M982.26 564V717.5M993.11 564V717.5M1003.97 564V717.5M687 569.2H1006.9M687 578H1006.9M687 586.9H1006.9M687 595.7H1006.9M687 604.6H1006.9M687 613.4H1006.9M687 622.3H1006.9M687 631.1H1006.9M687 639.9H1006.9M687 648.7H1006.9M687 657.5H1006.9M687 666.4H1006.9M687 675.2H1006.9M687 684.1H1006.9M687 701.8H1006.9M687 710.6H1006.9" stroke="#f0f0f0" stroke-width="0.6" fill="none"/>
<path d="M846.58 563V720.5" stroke="#8a8a8a" stroke-width="0.7" stroke-dasharray="1 0.8"/>
<path d="M1006.9 555V717.5" stroke="#9a9a9a" stroke-width="0.8" stroke-dasharray="1 0.5"/>
<path d="M687 717.5H1006.9" stroke="#9a9a9a" stroke-width="0.8"/>
<text x="687.9" y="560.1" font-size="5.1" fill="#111" font-weight="bold" textLength="124" lengthAdjust="spacingAndGlyphs">Emini Russell 2000 Idx Continuous Contract [Dec22]</text>
<text x="814.9" y="560.1" font-size="5.1" fill="#ff2020" font-weight="bold">-0.84%</text>
<polyline points="689.17,590.06 690.19,590.22 698.92,591.56 709.11,593.13 714.93,592.23 716.39,592.01 728.03,590.22 733.86,590.22 735.31,590.22 748.41,590.22 752.78,590.22 761.51,588.91 767.34,588.03 781.89,586.87 790.63,588.3 797.9,589.49 803.73,581.33 805.18,579.3 813.92,571.3 825.56,565.47 831.38,564.02 837.21,562.56 842.3,561.83 846.38,561.25 846.67,561.35 847.47,561.61 859.11,569.47 862.02,572.23 873.67,583.3 878.03,586.39 891.14,595.67 895.5,598.78 911.51,610.22 920.25,621.87 923.16,623.32 930.44,626.96 931.89,627.75 933.35,628.55 938.44,631.33 944.99,627.4 953.73,629.15 955.18,630.02 961,633.51 968.28,634.81 981.38,637.15 982.26,637.31" fill="none" stroke="#cdd1d9" stroke-width="0.55" stroke-dasharray="none"/>
<polyline points="689.17,596.91 690.19,597.03 698.92,598.05 709.11,599.37 714.93,598.94 716.39,598.69 728.03,597.33 733.86,597.25 735.31,597.5 748.41,598.23 752.78,598.31 761.51,597.59 767.34,597.08 781.89,596.48 790.63,598.64 797.9,600.16 803.73,594.48 805.18,593.06 813.92,587.31 825.56,582.45 831.38,581.24 837.21,580.4 842.3,580.03 846.38,580.55 846.67,580.67 847.47,581.06 859.11,589.33 862.02,591.93 873.67,602.49 878.03,605.73 891.14,614.47 895.5,617.4 911.51,627.34 920.25,636.31 923.16,637.68 930.44,640.63 931.89,641.26 933.35,641.89 938.44,643.72 944.99,641.07 953.73,642.2 955.18,643.12 961,646.09 968.28,647.76 981.38,650.46 982.26,650.64" fill="none" stroke="#cdd1d9" stroke-width="0.55" stroke-dasharray="none"/>
<polyline points="689.17,603.75 690.19,603.84 698.92,604.54 709.11,605.62 714.93,605.64 716.39,605.37 728.03,604.45 733.86,604.29 735.31,604.77 748.41,606.23 752.78,606.39 761.51,606.28 767.34,606.12 781.89,606.08 790.63,608.99 797.9,610.84 803.73,607.64 805.18,606.82 813.92,603.32 825.56,599.44 831.38,598.47 837.21,598.24 842.3,598.22 846.38,599.84 846.67,600 847.47,600.51 859.11,609.19 862.02,611.63 873.67,621.67 878.03,625.08 891.14,633.27 895.5,636.01 911.51,644.47 920.25,650.76 923.16,652.04 930.44,654.3 931.89,654.78 933.35,655.24 938.44,656.12 944.99,654.74 953.73,655.24 955.18,656.21 961,658.67 968.28,660.72 981.38,663.77 982.26,663.98" fill="none" stroke="#cdd1d9" stroke-width="0.55" stroke-dasharray="none"/>
<polyline points="689.17,617.45 690.19,617.45 698.92,617.52 709.11,618.11 714.93,619.04 716.39,618.73 728.03,618.68 733.86,618.35 735.31,619.33 748.41,622.25 752.78,622.57 761.51,623.64 767.34,624.22 781.89,625.3 790.63,629.67 797.9,632.18 803.73,633.94 805.18,634.34 813.92,635.34 825.56,633.4 831.38,632.91 837.21,633.92 842.3,634.62 846.38,638.43 846.67,638.66 847.47,639.4 859.11,648.92 862.02,651.03 873.67,660.05 878.03,663.78 891.14,670.88 895.5,673.23 911.51,678.71 920.25,679.64 923.16,680.76 930.44,681.65 931.89,681.8 933.35,681.92 938.44,680.9 944.99,682.09 953.73,681.34 955.18,682.41 961,683.83 968.28,686.62 981.38,690.39 982.26,690.64" fill="none" stroke="#cdd1d9" stroke-width="0.55" stroke-dasharray="none"/>
<polyline points="689.17,624.29 690.19,624.26 698.92,624.01 709.11,624.35 714.93,625.74 716.39,625.41 728.03,625.79 733.86,625.39 735.31,626.6 748.41,630.25 752.78,630.65 761.51,632.33 767.34,633.26 781.89,634.9 790.63,640.02 797.9,642.86 803.73,647.1 805.18,648.1 813.92,651.35 825.56,650.39 831.38,650.14 837.21,651.76 842.3,652.81 846.38,657.73 846.67,657.99 847.47,658.85 859.11,668.78 862.02,670.73 873.67,679.24 878.03,683.13 891.14,689.68 895.5,691.84 911.51,695.84 920.25,694.08 923.16,695.12 930.44,695.32 931.89,695.32 933.35,695.27 938.44,693.29 944.99,695.76 953.73,694.38 955.18,695.5 961,696.41 968.28,699.58 981.38,703.7 982.26,703.98" fill="none" stroke="#cdd1d9" stroke-width="0.55" stroke-dasharray="none"/>
<polyline points="689.17,631.14 690.19,631.07 698.92,630.5 709.11,630.6 714.93,632.45 716.39,632.09 728.03,632.91 733.86,632.42 735.31,633.88 748.41,638.26 752.78,638.74 761.51,641.01 767.34,642.31 781.89,644.51 790.63,650.36 797.9,653.53 803.73,660.25 805.18,661.86 813.92,667.36 825.56,667.37 831.38,667.36 837.21,669.6 842.3,671.01 846.38,677.02 846.67,677.31 847.47,678.3 859.11,688.64 862.02,690.43 873.67,698.42 878.03,702.47 891.14,708.48 895.5,710.46 911.51,712.96 920.25,708.53 923.16,709.48 930.44,708.99 931.89,708.83 933.35,708.61 938.44,705.69 944.99,709.43 953.73,707.43 955.18,708.6 961,708.98 968.28,712.53 981.38,717.01 982.26,717.31" fill="none" stroke="#cdd1d9" stroke-width="0.55" stroke-dasharray="none"/>
<polyline points="689.17,610.6 690.78,610.66 693.04,610.73 695.81,610.85 698.92,611.03 699,611.04" fill="none" stroke="#38f048" stroke-width="1.15" stroke-linejoin="round" stroke-linecap="round"/>
<polyline points="699,611.04 701.39,611.22 704.33,611.46 707.44,611.73 710.44,611.99 713.03,612.2 714.93,612.34 715.57,612.32 716,612.18" fill="none" stroke="#ff3a48" stroke-width="1.15" stroke-linejoin="round" stroke-linecap="round"/>
<polyline points="716,612.18 716.39,612.05 718.56,611.94 721.62,611.79 725.13,611.62 728.63,611.47 731.69,611.36 733.86,611.32 734.86,611.5 735,611.67" fill="none" stroke="#38f048" stroke-width="1.15" stroke-linejoin="round" stroke-linecap="round"/>
<polyline points="735,611.67 735.31,612.05 737.18,612.42 739.71,612.89 742.61,613.4 745.6,613.87 748.41,614.24 750.91,614.48 753.3,614.63 755.75,614.74 758.42,614.84 761.51,614.96 764.14,615.04 767.14,615.08 770.35,615.12 773.59,615.17 776.7,615.27 779.53,615.43 781.89,615.69 785.72,616.74 788.26,618.12 790.63,619.33 793.22,620.27 795.64,621.05 797.9,621.51 800.63,621.38 803,620.93" fill="none" stroke="#ff3a48" stroke-width="1.15" stroke-linejoin="round" stroke-linecap="round"/>
<polyline points="803,620.93 803.73,620.79 805.94,620.51 808.46,620.2 811.17,619.81 813.92,619.33 816.86,618.65 820.01,617.83 823.03,617.03 825.56,616.42 828.52,615.83 831.38,615.69 833.9,615.72 836,615.79" fill="none" stroke="#38f048" stroke-width="1.15" stroke-linejoin="round" stroke-linecap="round"/>
<polyline points="836,615.79 836.93,615.83 837.5,615.87" fill="none" stroke="#ff3a48" stroke-width="1.15" stroke-linejoin="round" stroke-linecap="round"/>
<polyline points="837.5,615.87 839.91,616.05 842,616.37" fill="none" stroke="#38f048" stroke-width="1.15" stroke-linejoin="round" stroke-linecap="round"/>
<polyline points="842,616.37 842.3,616.42 844.21,617.17 846.67,619.33 848.59,620.79 850.95,622.62 853.62,624.69 856.45,626.91 859.3,629.16 862.02,631.33 864.63,633.48 867.25,635.72 869.89,637.99 872.56,640.24 875.27,642.4 878.03,644.43 880.87,646.33 883.8,648.16 886.76,649.91 889.73,651.57 892.66,653.14 895.5,654.62 898.3,655.99 901.11,657.26 903.87,658.44 906.55,659.55 909.11,660.59 911.51,661.59 914.8,663.01 917.79,664.31 920.55,665.45 923.16,666.4 926.56,667.31 929.63,667.89 931.89,668.29 931.89,668.57 933,668.58" fill="none" stroke="#ff3a48" stroke-width="1.15" stroke-linejoin="round" stroke-linecap="round"/>
<polyline points="933,668.58 933.35,668.58 935.43,668.56 938.35,668.5 941.75,668.43 945.33,668.35 948.74,668.29 951.65,668.27 953.73,668.29 954,668.34" fill="none" stroke="#38f048" stroke-width="1.15" stroke-linejoin="round" stroke-linecap="round"/>
<polyline points="954,668.34 954.91,668.51 955.18,669.31 957.04,669.98 959.54,670.85 962.42,671.82 965.42,672.79 968.28,673.67 971.24,674.5 974.48,675.35 977.63,676.15 980.34,676.83 982.26,677.31" fill="none" stroke="#ff3a48" stroke-width="1.15" stroke-linejoin="round" stroke-linecap="round"/>
<path d="M689.2 606.95V612.35M689.2 609.87H691.8M694.63 608.11V611.92M692.03 609.87H694.63M694.63 610.16H697.23M700.05 606.95V615.26M697.45 610.16H700.05M700.05 613.94H702.65M705.48 609.57V614.83M702.88 613.94H705.48M705.48 612.49H708.08M710.91 608.4V614.54M708.31 612.49H710.91M710.91 612.05H713.51M716.34 606.95V613.37M713.74 612.05H716.34M716.34 608.41H718.94M721.76 603.02V613.08M719.16 608.41H721.76M721.76 604.77H724.36M727.19 603.02V614.83M724.59 604.77H727.19M727.19 613.51H729.79M732.62 602V617.16M730.02 613.51H732.62M732.62 609.87H735.22M738.04 605.2V621.52M735.44 609.87H738.04M738.04 614.24H740.64M743.47 610.3V621.81M740.87 614.24H743.47M743.47 619.77H746.07M748.9 609.28V636.08M746.3 619.77H748.9M748.9 631.41H751.5M754.32 620.92V639.57M751.72 631.41H754.32M754.32 622.24H756.92M759.75 612.19V625.02M757.15 622.24H759.75M759.75 616.42H762.35M765.18 612.19V621.52M762.58 616.42H765.18M765.18 614.53H767.78M770.61 613.21V624.43M768 614.53H770.61M770.61 623.26H773.21M776.03 611.02V624.73M773.43 623.26H776.03M776.03 614.96H778.63M781.46 611.75V622.54M778.86 614.96H781.46M781.46 618.89H784.06M786.89 617.57V635.21M784.29 618.89H786.89M786.89 632.87H789.49M792.31 630.68V642.92M789.71 632.87H792.31M792.31 637.23H794.91M797.74 635.77V650.2M795.14 637.23H797.74M797.74 645.09H800.34M803.17 613.21V665.77M800.57 645.09H803.17M803.17 619.33H805.77M808.59 587.01V627.64M805.99 619.33H808.59M808.59 614.53H811.19M814.02 602.29V623.56M811.42 614.53H814.02M814.02 606.67H816.62M819.45 593.85V616.72M816.85 606.67H819.45M819.45 614.53H822.05M824.88 595.74V618.9M822.27 614.53H824.88M824.88 601.86H827.48M830.3 597.63V607.55M827.7 601.86H830.3M830.3 600.41H832.9M835.73 599.67V630.55M833.13 600.41H835.73M835.73 623.7H838.33M841.16 614.23V630.84M838.56 623.7H841.16M841.16 615.4H843.76M846.58 638.88V655.78M843.98 639.76H846.58M846.58 646.02H849.18M852.01 645.28V661.6M849.41 646.02H852.01M852.01 660.57H854.61M857.44 655.47V673.54M854.84 660.57H857.44M857.44 665.38H860.04M862.86 662.17V671.5M860.26 665.38H862.86M862.86 667.12H865.46M868.29 666.1V683.73M865.69 667.12H868.29M868.29 681.97H870.89M873.72 681.09V693.33M871.12 681.97H873.72M873.72 689.25H876.32M879.14 684V699.16M876.54 689.25H879.14M879.14 687.79H881.75M884.57 678.18V688.97M881.97 687.79H884.57M884.57 679.93H887.17M890 679.2V687.8M887.4 679.93H890M890 684.88H892.6M895.43 681.67V686.35M892.83 684.88H895.43M895.43 684.3H898.03M900.85 678.76V685.62M898.25 684.3H900.85M900.85 680.52H903.45M906.28 679.63V684.16M903.68 680.52H906.28M906.28 681.97H908.88M911.71 680.65V696.24M909.11 681.97H911.71M911.71 694.78H914.31M917.13 687.93V701.19M914.53 694.78H917.13M917.13 692.6H919.73M922.56 682.84V693.62M919.96 692.6H922.56M922.56 686.34H925.16M927.99 674.83V687.07M925.39 686.34H927.99M927.99 677.02H930.59M933.41 667.11V683.44M930.81 677.02H933.41M933.41 671.78H936.01M938.84 667.99V679.8M936.24 671.78H938.84M938.84 678.04H941.44M944.27 651.54V680.82M941.67 678.04H944.27M944.27 652.86H946.87M949.7 651.98V673.97M947.1 652.86H949.7M949.7 669.31H952.3M955.12 663.18V679.07M952.52 669.31H955.12M955.12 677.6H957.72M960.55 673.81V706.43M957.95 677.6H960.55M960.55 702.79H963.15M965.98 684.58V707.02M963.38 702.79H965.98M965.98 685.76H968.58M971.4 680.65V695.37M968.8 685.76H971.4M971.4 688.67H974M976.83 674.83V695.37M974.23 688.67H976.83M976.83 684.88H979.43M982.26 681.09V698.72M979.66 684.88H982.26M982.26 695.94H984.86" stroke="#300" stroke-opacity="0.45" stroke-width="2.1" fill="none"/>
<path d="M689.2 607.25V612.05M689.2 609.87H691.5M694.63 608.41V611.62M692.33 609.87H694.63M694.63 610.16H696.93M716.34 607.25V613.07M714.04 612.05H716.34M716.34 608.41H718.63M721.76 603.32V612.78M719.46 608.41H721.76M721.76 604.77H724.06M732.62 602.3V616.86M730.32 613.51H732.62M732.62 609.87H734.92M759.75 612.49V624.72M757.45 622.24H759.75M759.75 616.42H762.05M765.18 612.49V621.22M762.88 616.42H765.18M765.18 614.53H767.48M776.03 611.32V624.43M773.73 623.26H776.03M776.03 614.96H778.33M803.17 613.51V665.47M800.87 645.09H803.17M803.17 619.33H805.47M808.59 587.31V627.34M806.29 619.33H808.59M808.59 614.53H810.89M814.02 602.59V623.26M811.72 614.53H814.02M814.02 606.67H816.32M819.45 594.15V616.42M817.15 606.67H819.45M819.45 614.53H821.75M824.88 596.04V618.6M822.58 614.53H824.88M824.88 601.86H827.17M830.3 597.93V607.25M828 601.86H830.3M830.3 600.41H832.6M927.99 675.13V686.77M925.69 686.34H927.99M927.99 677.02H930.29M933.41 667.41V683.14M931.12 677.02H933.41M933.41 671.78H935.71M938.84 668.29V679.5M936.54 671.78H938.84M938.84 678.04H941.14M944.27 651.84V680.52M941.97 678.04H944.27M944.27 652.86H946.57" stroke="#14d014" stroke-width="1.45" fill="none"/>
<path d="M700.05 607.25V614.96M697.75 610.16H700.05M700.05 613.94H702.35M727.19 603.32V614.53M724.89 604.77H727.19M727.19 613.51H729.49M738.04 605.5V621.22M735.74 609.87H738.04M738.04 614.24H740.34M743.47 610.6V621.51M741.17 614.24H743.47M743.47 619.77H745.77M748.9 609.58V635.78M746.6 619.77H748.9M748.9 631.41H751.2M770.61 613.51V624.13M768.31 614.53H770.61M770.61 623.26H772.9M786.89 617.87V634.91M784.59 618.89H786.89M786.89 632.87H789.19M792.31 630.98V642.62M790.01 632.87H792.31M792.31 637.23H794.61M797.74 636.07V649.9M795.44 637.23H797.74M797.74 645.09H800.04M835.73 599.97V630.25M833.43 600.41H835.73M835.73 623.7H838.03M841.16 614.53V630.54M838.86 623.7H841.16M841.16 615.4H843.46M846.58 639.18V655.48M844.28 639.76H846.58M846.58 646.02H848.88M852.01 645.58V661.3M849.71 646.02H852.01M852.01 660.57H854.31M857.44 655.77V673.24M855.14 660.57H857.44M857.44 665.38H859.74M862.86 662.47V671.2M860.56 665.38H862.86M862.86 667.12H865.16M868.29 666.4V683.43M865.99 667.12H868.29M868.29 681.97H870.59M873.72 681.39V693.03M871.42 681.97H873.72M873.72 689.25H876.02M911.71 680.95V695.94M909.41 681.97H911.71M911.71 694.78H914.01M955.12 663.48V678.77M952.82 669.31H955.12M955.12 677.6H957.42M960.55 674.11V706.13M958.25 677.6H960.55M960.55 702.79H962.85M965.98 684.88V706.72M963.68 702.79H965.98M965.98 685.76H968.28M971.4 680.95V695.07M969.1 685.76H971.4M971.4 688.67H973.7M982.26 681.39V698.42M979.96 684.88H982.26M982.26 695.94H984.56" stroke="#e41212" stroke-width="1.45" fill="none"/>
<path d="M705.48 609.87V614.53M703.18 613.94H705.48M705.48 612.49H707.78M710.91 608.7V614.24M708.61 612.49H710.91M710.91 612.05H713.21M754.32 621.22V639.27M752.02 631.41H754.32M754.32 622.24H756.62M781.46 612.05V622.24M779.16 614.96H781.46M781.46 618.89H783.76M879.14 684.3V698.86M876.85 689.25H879.14M879.14 687.79H881.44M884.57 678.48V688.67M882.27 687.79H884.57M884.57 679.93H886.87M890 679.5V687.5M887.7 679.93H890M890 684.88H892.3M895.43 681.97V686.05M893.13 684.88H895.43M895.43 684.3H897.73M900.85 679.06V685.32M898.55 684.3H900.85M900.85 680.52H903.15M906.28 679.93V683.86M903.98 680.52H906.28M906.28 681.97H908.58M917.13 688.23V700.89M914.83 694.78H917.13M917.13 692.6H919.43M922.56 683.14V693.32M920.26 692.6H922.56M922.56 686.34H924.86M949.7 652.28V673.67M947.4 652.86H949.7M949.7 669.31H952M976.83 675.13V695.07M974.53 688.67H976.83M976.83 684.88H979.13" stroke="#187ce6" stroke-width="1.45" fill="none"/>
<path d="M1006.9 569.2h1.4" stroke="#555" stroke-width="0.6"/>
<text x="1008.9" y="570.9" font-size="4.9" fill="#222" font-weight="bold">1,883</text>
<path d="M1006.9 578h1.4" stroke="#555" stroke-width="0.6"/>
<text x="1008.9" y="579.7" font-size="4.9" fill="#222" font-weight="bold">1,881</text>
<path d="M1006.9 586.9h1.4" stroke="#555" stroke-width="0.6"/>
<text x="1008.9" y="588.6" font-size="4.9" fill="#222" font-weight="bold">1,879</text>
<path d="M1006.9 595.7h1.4" stroke="#555" stroke-width="0.6"/>
<text x="1008.9" y="597.4" font-size="4.9" fill="#222" font-weight="bold">1,877</text>
<path d="M1006.9 604.6h1.4" stroke="#555" stroke-width="0.6"/>
<text x="1008.9" y="606.3" font-size="4.9" fill="#222" font-weight="bold">1,875</text>
<path d="M1006.9 613.4h1.4" stroke="#555" stroke-width="0.6"/>
<text x="1008.9" y="615.1" font-size="4.9" fill="#222" font-weight="bold">1,873</text>
<path d="M1006.9 622.3h1.4" stroke="#555" stroke-width="0.6"/>
<text x="1008.9" y="624" font-size="4.9" fill="#222" font-weight="bold">1,871</text>
<path d="M1006.9 631.1h1.4" stroke="#555" stroke-width="0.6"/>
<text x="1008.9" y="632.8" font-size="4.9" fill="#222" font-weight="bold">1,869</text>
<path d="M1006.9 639.9h1.4" stroke="#555" stroke-width="0.6"/>
<text x="1008.9" y="641.6" font-size="4.9" fill="#222" font-weight="bold">1,867</text>
<path d="M1006.9 648.7h1.4" stroke="#555" stroke-width="0.6"/>
<text x="1008.9" y="650.4" font-size="4.9" fill="#222" font-weight="bold">1,865</text>
<path d="M1006.9 657.5h1.4" stroke="#555" stroke-width="0.6"/>
<text x="1008.9" y="659.2" font-size="4.9" fill="#222" font-weight="bold">1,863</text>
<path d="M1006.9 666.4h1.4" stroke="#555" stroke-width="0.6"/>
<text x="1008.9" y="668.1" font-size="4.9" fill="#222" font-weight="bold">1,861</text>
<path d="M1006.9 675.2h1.4" stroke="#555" stroke-width="0.6"/>
<text x="1008.9" y="676.9" font-size="4.9" fill="#222" font-weight="bold">1,859</text>
<path d="M1006.9 684.1h1.4" stroke="#555" stroke-width="0.6"/>
<text x="1008.9" y="685.8" font-size="4.9" fill="#222" font-weight="bold">1,857</text>
<path d="M1006.9 701.8h1.4" stroke="#555" stroke-width="0.6"/>
<text x="1008.9" y="703.5" font-size="4.9" fill="#222" font-weight="bold">1,853</text>
<path d="M1006.9 710.6h1.4" stroke="#555" stroke-width="0.6"/>
<text x="1008.9" y="712.3" font-size="4.9" fill="#222" font-weight="bold">1,851</text>
<rect x="1007.5" y="693.4" width="15.3" height="5" rx="2" fill="#111"/>
<text x="1008.9" y="697.6" font-size="4.9" fill="#fff" font-weight="bold">1,854</text>
<path d="M705.48 717.5v1.2" stroke="#666" stroke-width="0.6"/>
<text x="705.48" y="724.1" font-size="4.6" fill="#222" font-weight="bold" text-anchor="middle">01:00</text>
<path d="M727.19 717.5v1.2" stroke="#666" stroke-width="0.6"/>
<text x="727.19" y="724.1" font-size="4.6" fill="#222" font-weight="bold" text-anchor="middle">03:00</text>
<path d="M748.9 717.5v1.2" stroke="#666" stroke-width="0.6"/>
<text x="748.9" y="724.1" font-size="4.6" fill="#222" font-weight="bold" text-anchor="middle">05:00</text>
<path d="M770.61 717.5v1.2" stroke="#666" stroke-width="0.6"/>
<text x="770.61" y="724.1" font-size="4.6" fill="#222" font-weight="bold" text-anchor="middle">07:00</text>
<path d="M792.31 717.5v1.2" stroke="#666" stroke-width="0.6"/>
<text x="792.31" y="724.1" font-size="4.6" fill="#222" font-weight="bold" text-anchor="middle">09:00</text>
<path d="M814.02 717.5v1.2" stroke="#666" stroke-width="0.6"/>
<text x="814.02" y="724.1" font-size="4.6" fill="#222" font-weight="bold" text-anchor="middle">11:00</text>
<path d="M846.58 717.5v1.2" stroke="#666" stroke-width="0.6"/>
<text x="846.58" y="724.1" font-size="4.6" fill="#222" font-weight="bold" text-anchor="middle">11/27</text>
<path d="M862.86 717.5v1.2" stroke="#666" stroke-width="0.6"/>
<text x="862.86" y="724.1" font-size="4.6" fill="#222" font-weight="bold" text-anchor="middle">20:00</text>
<path d="M884.57 717.5v1.2" stroke="#666" stroke-width="0.6"/>
<text x="884.57" y="724.1" font-size="4.6" fill="#222" font-weight="bold" text-anchor="middle">22:00</text>
<path d="M906.28 717.5v1.2" stroke="#666" stroke-width="0.6"/>
<text x="906.28" y="724.1" font-size="4.6" fill="#222" font-weight="bold" text-anchor="middle">11/28</text>
<path d="M927.99 717.5v1.2" stroke="#666" stroke-width="0.6"/>
<text x="927.99" y="724.1" font-size="4.6" fill="#222" font-weight="bold" text-anchor="middle">02:00</text>
<path d="M949.7 717.5v1.2" stroke="#666" stroke-width="0.6"/>
<text x="949.7" y="724.1" font-size="4.6" fill="#222" font-weight="bold" text-anchor="middle">04:00</text>
<path d="M971.4 717.5v1.2" stroke="#666" stroke-width="0.6"/>
<text x="971.4" y="724.1" font-size="4.6" fill="#222" font-weight="bold" text-anchor="middle">06:00</text>
<path d="M993.11 717.5v1.2" stroke="#666" stroke-width="0.6"/>
<text x="993.11" y="724.1" font-size="4.6" fill="#222" font-weight="bold" text-anchor="middle">08:00</text>
<rect x="685.4" y="725.2" width="339.6" height="4.2" fill="#4f5b78"/>
<rect x="687" y="725.8" width="3.6" height="3" fill="#93a4c4"/>
<rect x="1011.9" y="725.6" width="10.5" height="3.4" fill="#a6b4cc"/>
<rect x="346.2" y="730.6" width="678.9" height="13.4" fill="#181b26"/>
<path d="M348.4 735.2v4.2M349 737.3l2.2-2.1v4.2zM354 737.3l2.2-2.1v4.2zM360.2 735.2v4.2l2.2-2.1zM365.4 735.2v4.2l2.2-2.1zM368.4 735.2v4.2" stroke="#8088a0" stroke-width="0.5" fill="#8088a0"/>
<path d="M371.8 743.4L373.2 732.2H410L411.4 743.4Z" fill="#1d202c" stroke="#3c4458" stroke-width="0.5"/>
<text x="374.4" y="739.8" font-size="5.5" fill="#a0a8bc" textLength="34.4" lengthAdjust="spacingAndGlyphs">Trade Manager</text>
<path d="M409.2 743.4L410.6 732.2H453.8L455.2 743.4Z" fill="#1d202c" stroke="#3c4458" stroke-width="0.5"/>
<text x="411.8" y="739.8" font-size="5.5" fill="#a0a8bc" textLength="40.8" lengthAdjust="spacingAndGlyphs">Help Daily Weekly</text>
<path d="M453.3 743.4L454.7 732.2H499.1L500.5 743.4Z" fill="#1d202c" stroke="#3c4458" stroke-width="0.5"/>
<text x="455.9" y="739.8" font-size="5.5" fill="#a0a8bc" textLength="42" lengthAdjust="spacingAndGlyphs">52-Week Strategy</text>
<path d="M498.4 743.4L499.8 732.2H556.4L557.8 743.4Z" fill="#1d202c" stroke="#3c4458" stroke-width="0.5"/>
<text x="501" y="739.8" font-size="5.5" fill="#a0a8bc" textLength="54.2" lengthAdjust="spacingAndGlyphs">Daily Help Strategy (US)</text>
<path d="M555.9 743.4L557.3 732.2H600.5L601.9 743.4Z" fill="#1d202c" stroke="#3c4458" stroke-width="0.5"/>
<text x="558.5" y="739.8" font-size="5.5" fill="#a0a8bc" textLength="40.8" lengthAdjust="spacingAndGlyphs">Way of the Trader</text>
<path d="M599.8 743.4L601.2 732.2H621.4L622.8 743.4Z" fill="#7f8daa" stroke="#3c4458" stroke-width="0.5"/>
<text x="602.4" y="739.8" font-size="5.5" fill="#0c0e14" textLength="17.8" lengthAdjust="spacingAndGlyphs">eMini's</text>
<path d="M620.6 743.4L622 732.2H639.2L640.6 743.4Z" fill="#1d202c" stroke="#3c4458" stroke-width="0.5"/>
<text x="623.2" y="739.8" font-size="5.5" fill="#a0a8bc" textLength="14.8" lengthAdjust="spacingAndGlyphs">ATR %</text>
<path d="M639.2 743.4L640.6 732.2H656.5L657.9 743.4Z" fill="#1d202c" stroke="#3c4458" stroke-width="0.5"/>
<text x="641.8" y="739.8" font-size="5.5" fill="#a0a8bc" textLength="13.5" lengthAdjust="spacingAndGlyphs">Wide</text>
<path d="M656.3 743.4L657.7 732.2H671.1L672.5 743.4Z" fill="#1d202c" stroke="#3c4458" stroke-width="0.5"/>
<text x="658.9" y="739.8" font-size="5.5" fill="#a0a8bc" textLength="11" lengthAdjust="spacingAndGlyphs">Tidal</text>
<path d="M671.1 743.4L672.5 732.2H698.5L699.9 743.4Z" fill="#1d202c" stroke="#3c4458" stroke-width="0.5"/>
<text x="673.7" y="739.8" font-size="5.5" fill="#a0a8bc" textLength="23.6" lengthAdjust="spacingAndGlyphs">FBO Long</text>
<path d="M697.3 743.4L698.7 732.2H750.5L751.9 743.4Z" fill="#1d202c" stroke="#3c4458" stroke-width="0.5"/>
<text x="699.9" y="739.8" font-size="5.5" fill="#a0a8bc" textLength="49.4" lengthAdjust="spacingAndGlyphs">52-Week NH/NL (TSN)</text>
<rect x="751.8" y="733" width="7.6" height="9.6" fill="#1d202c" stroke="#3c4458" stroke-width="0.5"/>
<text x="755.6" y="739.6" font-size="5.4" fill="#b8c0d2" text-anchor="middle">+</text>
<rect x="346.2" y="743.8" width="678.9" height="13.8" fill="#20232c"/>
<path d="M349.8 747.6l3.6-0.5v3.3h-3.6zM353.9 747l4.4-0.7v4.1h-4.4zM349.8 750.9h3.6v3.3l-3.6-0.5zM353.9 750.9h4.4v4.1l-4.4-0.7z" fill="#fff"/>
<circle cx="372.6" cy="750.5" r="3.7" fill="#ff8a16"/><circle cx="373.1" cy="751" r="2" fill="#7a3ce0"/><path d="M369 749a3.7 3.7 0 0 1 6.4-1.6l-2 0.6l-1.6 1.6z" fill="#ffd23c"/>
<circle cx="390.2" cy="750.5" r="3.7" fill="#e8402c"/><path d="M390.2 750.5L386.8 752.2A3.7 3.7 0 0 0 392.4 753.6Z" fill="#2aa84a"/><path d="M390.2 750.5L392.4 753.6A3.7 3.7 0 0 0 393.8 749.6Z" fill="#fcc21c"/><circle cx="390.2" cy="750.5" r="1.6" fill="#3a7cf0" stroke="#fff" stroke-width="0.5"/>
<circle cx="407.5" cy="750.5" r="3.7" fill="#1c8ad8"/><path d="M404.2 751.6a3.4 3.4 0 0 1 6.6-1.6h-3.6a1.6 1.6 0 0 0 1.6 2.6a3.7 3.7 0 0 1-4.6-1z" fill="#4fe0b0"/>
<path d="M423 754.2c0.4-3.2 1.6-6 3.8-7.4c-0.2 3.2-1.4 5.8-3.8 7.4z" fill="#2a6ce0" stroke="#8ab4ff" stroke-width="0.4"/>
<rect x="434.2" y="743.8" width="16.6" height="13.8" fill="#4a4f5c"/><rect x="434.2" y="756.6" width="16.6" height="1" fill="#8ec8f8"/>
<path d="M438.6 747h7.6l-2.6 3.6h-2zM441.4 750.8l1.8 0l-0.8 3.6z" fill="#1ca8f0"/>
<rect x="456.6" y="747" width="5.4" height="7" rx="0.8" fill="#f4f4f4"/><path d="M459.3 748.6l1.2 2.2l-1.2 2.2l-1.2-2.2z" fill="#e02424"/>
<rect x="473" y="747.4" width="7.6" height="6.2" rx="0.6" fill="#f8c62c"/><rect x="474.2" y="750" width="5.2" height="2.6" fill="#3a9cf0"/><rect x="471.4" y="756.6" width="10.8" height="1" fill="#8ec8f8"/>
<rect x="491.4" y="747.2" width="6.4" height="6.6" rx="0.6" fill="#1668c8"/><rect x="489.6" y="748.4" width="4.4" height="4.4" fill="#0c4ca0"/><circle cx="491.8" cy="750.6" r="1.2" fill="none" stroke="#fff" stroke-width="0.6"/><rect x="488.8" y="756.6" width="10.8" height="1" fill="#8ec8f8"/>
<path d="M877.4 751.6l1.8-1.9l1.8 1.9" stroke="#e8e8e8" stroke-width="0.7" fill="none"/>
<rect x="889" y="748.2" width="3.6" height="5" rx="0.5" fill="none" stroke="#e8e8e8" stroke-width="0.7"/><path d="M890.4 749.8h2M890.4 751h2M890.4 752.2h2" stroke="#e8e8e8" stroke-width="0.5"/>
<path d="M898.6 749.8h1.2l1.6-1.5v4.8l-1.6-1.5h-1.2z" fill="#e8e8e8"/><path d="M902.6 749a2.4 2.4 0 0 1 0 3.4M903.9 748a3.8 3.8 0 0 1 0 5.4" fill="none" stroke="#e8e8e8" stroke-width="0.6"/>
<path d="M910 752.6a1.5 1.5 0 0 1 0.4-2.9a2.1 2.1 0 0 1 4-0.3a1.6 1.6 0 0 1 0.6 3.2z" fill="#e8e8e8"/><circle cx="915.4" cy="752.4" r="1.3" fill="#2a8cf0"/>
<rect x="921.4" y="748.2" width="5.6" height="3.8" fill="none" stroke="#e8e8e8" stroke-width="0.7"/><path d="M922.6 753.4h3.2M920.6 749v3.6" stroke="#e8e8e8" stroke-width="0.6"/>
<rect x="932.8" y="749" width="5.6" height="3.4" rx="0.5" fill="#e8e8e8"/><path d="M932.4 748.3h3" stroke="#e8e8e8" stroke-width="0.6"/>
<rect x="945.4" y="747.6" width="3.2" height="5.6" rx="1" fill="none" stroke="#e8e8e8" stroke-width="0.7"/><path d="M949.4 753.6h1.4" stroke="#e8e8e8" stroke-width="0.6"/>
<text x="955.9" y="752.5" font-size="5.2" fill="#e8e8e8" textLength="10.7" lengthAdjust="spacingAndGlyphs">ENG</text>
<text x="975" y="752.5" font-size="5.2" fill="#e8e8e8" textLength="20.3" lengthAdjust="spacingAndGlyphs">7:00 AM</text>
<path d="M1005.4 747.4h7.4v5h-3l-0.9 1.3l-0.9-1.3h-2.6z" fill="#f4f4f4"/><path d="M1006.8 749h4.6M1006.8 750.4h4.6" stroke="#20232c" stroke-width="0.4"/>
<rect x="1023.3" y="354.2" width="1.9" height="403.4" fill="#000"/>
</svg>
</body></html>
